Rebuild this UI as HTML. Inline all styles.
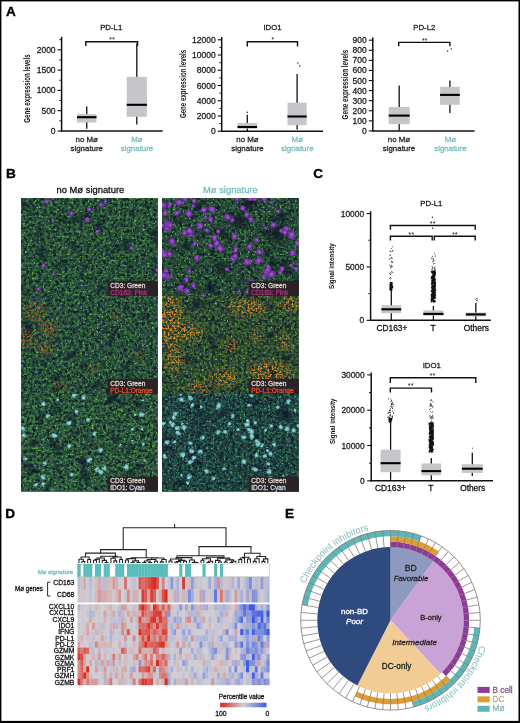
<!DOCTYPE html>
<html><head><meta charset="utf-8"><style>
html,body{margin:0;padding:0;background:#fff;}
body{width:520px;height:723px;overflow:hidden;position:relative;}
svg{position:absolute;left:0;top:0;will-change:transform;font-family:"Liberation Sans",sans-serif;}
</style></head><body>
<svg width="520" height="723" viewBox="0 0 520 723">
<rect x="0" y="0" width="520" height="723" fill="#fff"/>
<defs><radialGradient id="pk"><stop offset="0" stop-color="#a664d6"/><stop offset="0.6" stop-color="#7a30aa"/><stop offset="1" stop-color="#5a2a8a" stop-opacity="0"/></radialGradient><radialGradient id="cy"><stop offset="0" stop-color="#c8f4f4"/><stop offset="0.5" stop-color="#80d0d4"/><stop offset="1" stop-color="#50a0b0" stop-opacity="0"/></radialGradient><filter id="mb" x="-20%" y="-20%" width="140%" height="140%"><feGaussianBlur stdDeviation="3"/></filter><filter id="wob" x="-5%" y="-5%" width="110%" height="110%"><feTurbulence type="fractalNoise" baseFrequency="0.16" numOctaves="1" seed="9" result="t"/><feDisplacementMap in="SourceGraphic" in2="t" scale="3.5" xChannelSelector="R" yChannelSelector="G"/></filter><filter id="gbg00" x="0" y="0" width="100%" height="100%" color-interpolation-filters="sRGB">
<feTurbulence type="fractalNoise" baseFrequency="0.28" numOctaves="2" seed="201" result="n"/>
<feColorMatrix in="n" type="matrix" values="0 0 0 0 0.16  0 0 0 0 0.26  0 0 0 0 0.32  0 0 2.0 0 -0.7"/>
</filter><filter id="ga00" x="0" y="0" width="100%" height="100%" color-interpolation-filters="sRGB">
<feTurbulence type="fractalNoise" baseFrequency="0.34" numOctaves="3" seed="2" result="n"/>
<feColorMatrix in="n" type="matrix" values="0 0 0 0 0.22  0 0 0 0 0.45  0 0 0 0 0.24  2.6 0 0 0 -0.85"/>
</filter><filter id="gb00" x="0" y="0" width="100%" height="100%" color-interpolation-filters="sRGB">
<feTurbulence type="fractalNoise" baseFrequency="0.45" numOctaves="2" seed="3" result="n"/>
<feColorMatrix in="n" type="matrix" values="0 0 0 0 0.4  0 0 0 0 0.7  0 0 0 0 0.3  0 5.0 0 0 -3.0"/>
</filter><filter id="gd00" x="0" y="0" width="100%" height="100%" color-interpolation-filters="sRGB">
<feTurbulence type="fractalNoise" baseFrequency="0.07" numOctaves="2" seed="4" result="n"/>
<feColorMatrix in="n" type="matrix" values="0 0 0 0 0.05  0 0 0 0 0.08  0 0 0 0 0.16  0 0 3.0 0 -1.75"/>
</filter><filter id="gbg10" x="0" y="0" width="100%" height="100%" color-interpolation-filters="sRGB">
<feTurbulence type="fractalNoise" baseFrequency="0.28" numOctaves="2" seed="205" result="n"/>
<feColorMatrix in="n" type="matrix" values="0 0 0 0 0.16  0 0 0 0 0.26  0 0 0 0 0.32  0 0 2.0 0 -0.7"/>
</filter><filter id="ga10" x="0" y="0" width="100%" height="100%" color-interpolation-filters="sRGB">
<feTurbulence type="fractalNoise" baseFrequency="0.34" numOctaves="3" seed="6" result="n"/>
<feColorMatrix in="n" type="matrix" values="0 0 0 0 0.2  0 0 0 0 0.4  0 0 0 0 0.22  2.6 0 0 0 -0.85"/>
</filter><filter id="gb10" x="0" y="0" width="100%" height="100%" color-interpolation-filters="sRGB">
<feTurbulence type="fractalNoise" baseFrequency="0.45" numOctaves="2" seed="7" result="n"/>
<feColorMatrix in="n" type="matrix" values="0 0 0 0 0.4  0 0 0 0 0.7  0 0 0 0 0.3  0 5.0 0 0 -3.0"/>
</filter><filter id="gd10" x="0" y="0" width="100%" height="100%" color-interpolation-filters="sRGB">
<feTurbulence type="fractalNoise" baseFrequency="0.07" numOctaves="2" seed="8" result="n"/>
<feColorMatrix in="n" type="matrix" values="0 0 0 0 0.05  0 0 0 0 0.08  0 0 0 0 0.16  0 0 3.0 0 -1.75"/>
</filter><filter id="gbg01" x="0" y="0" width="100%" height="100%" color-interpolation-filters="sRGB">
<feTurbulence type="fractalNoise" baseFrequency="0.28" numOctaves="2" seed="209" result="n"/>
<feColorMatrix in="n" type="matrix" values="0 0 0 0 0.16  0 0 0 0 0.26  0 0 0 0 0.32  0 0 2.0 0 -0.7"/>
</filter><filter id="ga01" x="0" y="0" width="100%" height="100%" color-interpolation-filters="sRGB">
<feTurbulence type="fractalNoise" baseFrequency="0.34" numOctaves="3" seed="10" result="n"/>
<feColorMatrix in="n" type="matrix" values="0 0 0 0 0.22  0 0 0 0 0.45  0 0 0 0 0.25  2.6 0 0 0 -0.85"/>
</filter><filter id="gb01" x="0" y="0" width="100%" height="100%" color-interpolation-filters="sRGB">
<feTurbulence type="fractalNoise" baseFrequency="0.45" numOctaves="2" seed="11" result="n"/>
<feColorMatrix in="n" type="matrix" values="0 0 0 0 0.4  0 0 0 0 0.7  0 0 0 0 0.3  0 5.0 0 0 -3.0"/>
</filter><filter id="gd01" x="0" y="0" width="100%" height="100%" color-interpolation-filters="sRGB">
<feTurbulence type="fractalNoise" baseFrequency="0.07" numOctaves="2" seed="12" result="n"/>
<feColorMatrix in="n" type="matrix" values="0 0 0 0 0.05  0 0 0 0 0.08  0 0 0 0 0.16  0 0 3.0 0 -1.75"/>
</filter><filter id="s01" x="0" y="0" width="100%" height="100%" color-interpolation-filters="sRGB">
<feTurbulence type="fractalNoise" baseFrequency="0.5" numOctaves="2" seed="103" result="n"/>
<feColorMatrix in="n" type="matrix" values="0 0 0 0 0.72  0 0 0 0 0.38  0 0 0 0 0.14  6.0 0 0 0 -2.85"/>
</filter><mask id="om01" maskUnits="userSpaceOnUse" x="0" y="0" width="136.8" height="98.0"><g filter="url(#mb)"><ellipse cx="14" cy="16" rx="10" ry="8" fill="#fff"/><ellipse cx="28" cy="32" rx="9" ry="7" fill="#fff"/><ellipse cx="6" cy="42" rx="6" ry="9" fill="#fff"/><ellipse cx="24" cy="52" rx="8" ry="6" fill="#fff"/><ellipse cx="72" cy="72" rx="5" ry="4" fill="#fff"/><ellipse cx="40" cy="90" rx="6" ry="4" fill="#fff"/><ellipse cx="118" cy="60" rx="4" ry="4" fill="#fff"/><ellipse cx="95" cy="20" rx="4" ry="3" fill="#fff"/></g></mask><filter id="gbg11" x="0" y="0" width="100%" height="100%" color-interpolation-filters="sRGB">
<feTurbulence type="fractalNoise" baseFrequency="0.28" numOctaves="2" seed="214" result="n"/>
<feColorMatrix in="n" type="matrix" values="0 0 0 0 0.16  0 0 0 0 0.26  0 0 0 0 0.32  0 0 2.0 0 -0.7"/>
</filter><filter id="ga11" x="0" y="0" width="100%" height="100%" color-interpolation-filters="sRGB">
<feTurbulence type="fractalNoise" baseFrequency="0.34" numOctaves="3" seed="15" result="n"/>
<feColorMatrix in="n" type="matrix" values="0 0 0 0 0.26  0 0 0 0 0.42  0 0 0 0 0.18  2.6 0 0 0 -0.85"/>
</filter><filter id="gb11" x="0" y="0" width="100%" height="100%" color-interpolation-filters="sRGB">
<feTurbulence type="fractalNoise" baseFrequency="0.45" numOctaves="2" seed="16" result="n"/>
<feColorMatrix in="n" type="matrix" values="0 0 0 0 0.4  0 0 0 0 0.7  0 0 0 0 0.3  0 5.0 0 0 -3.0"/>
</filter><filter id="gd11" x="0" y="0" width="100%" height="100%" color-interpolation-filters="sRGB">
<feTurbulence type="fractalNoise" baseFrequency="0.07" numOctaves="2" seed="17" result="n"/>
<feColorMatrix in="n" type="matrix" values="0 0 0 0 0.05  0 0 0 0 0.08  0 0 0 0 0.16  0 0 3.0 0 -1.75"/>
</filter><filter id="s11" x="0" y="0" width="100%" height="100%" color-interpolation-filters="sRGB">
<feTurbulence type="fractalNoise" baseFrequency="0.5" numOctaves="2" seed="108" result="n"/>
<feColorMatrix in="n" type="matrix" values="0 0 0 0 0.88  0 0 0 0 0.52  0 0 0 0 0.16  6.0 0 0 0 -2.86"/>
</filter><mask id="om11" maskUnits="userSpaceOnUse" x="0" y="0" width="136.8" height="98.0"><g filter="url(#mb)"><ellipse cx="8" cy="25" rx="13" ry="28" fill="#fff"/><ellipse cx="28" cy="36" rx="14" ry="8" fill="#fff"/><ellipse cx="12" cy="64" rx="9" ry="12" fill="#fff"/><ellipse cx="85" cy="12" rx="20" ry="8" fill="#fff"/><ellipse cx="128" cy="8" rx="12" ry="7" fill="#fff"/><ellipse cx="108" cy="76" rx="22" ry="10" fill="#fff"/><ellipse cx="62" cy="82" rx="14" ry="8" fill="#fff"/><ellipse cx="36" cy="92" rx="12" ry="6" fill="#fff"/><ellipse cx="70" cy="50" rx="6" ry="6" fill="#fff"/><ellipse cx="122" cy="45" rx="6" ry="8" fill="#fff"/><ellipse cx="95" cy="40" rx="6" ry="5" fill="#fff"/></g></mask><filter id="gbg02" x="0" y="0" width="100%" height="100%" color-interpolation-filters="sRGB">
<feTurbulence type="fractalNoise" baseFrequency="0.28" numOctaves="2" seed="219" result="n"/>
<feColorMatrix in="n" type="matrix" values="0 0 0 0 0.16  0 0 0 0 0.26  0 0 0 0 0.32  0 0 2.0 0 -0.7"/>
</filter><filter id="ga02" x="0" y="0" width="100%" height="100%" color-interpolation-filters="sRGB">
<feTurbulence type="fractalNoise" baseFrequency="0.34" numOctaves="3" seed="20" result="n"/>
<feColorMatrix in="n" type="matrix" values="0 0 0 0 0.24  0 0 0 0 0.48  0 0 0 0 0.26  2.6 0 0 0 -0.85"/>
</filter><filter id="gb02" x="0" y="0" width="100%" height="100%" color-interpolation-filters="sRGB">
<feTurbulence type="fractalNoise" baseFrequency="0.45" numOctaves="2" seed="21" result="n"/>
<feColorMatrix in="n" type="matrix" values="0 0 0 0 0.4  0 0 0 0 0.7  0 0 0 0 0.3  0 5.0 0 0 -3.0"/>
</filter><filter id="gd02" x="0" y="0" width="100%" height="100%" color-interpolation-filters="sRGB">
<feTurbulence type="fractalNoise" baseFrequency="0.07" numOctaves="2" seed="22" result="n"/>
<feColorMatrix in="n" type="matrix" values="0 0 0 0 0.05  0 0 0 0 0.08  0 0 0 0 0.16  0 0 3.0 0 -1.75"/>
</filter><filter id="gbg12" x="0" y="0" width="100%" height="100%" color-interpolation-filters="sRGB">
<feTurbulence type="fractalNoise" baseFrequency="0.28" numOctaves="2" seed="223" result="n"/>
<feColorMatrix in="n" type="matrix" values="0 0 0 0 0.16  0 0 0 0 0.26  0 0 0 0 0.32  0 0 2.0 0 -0.7"/>
</filter><filter id="ga12" x="0" y="0" width="100%" height="100%" color-interpolation-filters="sRGB">
<feTurbulence type="fractalNoise" baseFrequency="0.34" numOctaves="3" seed="24" result="n"/>
<feColorMatrix in="n" type="matrix" values="0 0 0 0 0.16  0 0 0 0 0.4  0 0 0 0 0.3  2.6 0 0 0 -0.95"/>
</filter><filter id="gb12" x="0" y="0" width="100%" height="100%" color-interpolation-filters="sRGB">
<feTurbulence type="fractalNoise" baseFrequency="0.45" numOctaves="2" seed="25" result="n"/>
<feColorMatrix in="n" type="matrix" values="0 0 0 0 0.34  0 0 0 0 0.64  0 0 0 0 0.46  0 5.0 0 0 -3.0"/>
</filter><filter id="gd12" x="0" y="0" width="100%" height="100%" color-interpolation-filters="sRGB">
<feTurbulence type="fractalNoise" baseFrequency="0.07" numOctaves="2" seed="26" result="n"/>
<feColorMatrix in="n" type="matrix" values="0 0 0 0 0.05  0 0 0 0 0.08  0 0 0 0 0.16  0 0 3.0 0 -1.75"/>
</filter><linearGradient id="pg" x1="0" x2="1" y1="0" y2="0"><stop offset="0" stop-color="#d8281e"/><stop offset="0.5" stop-color="#d0d0d6"/><stop offset="1" stop-color="#3c5ce0"/></linearGradient><path id="circ" d="M390.5,527.6999999999999 A92.6,92.6 0 1 1 390.49,527.6999999999999"/></defs><text x="6.10" y="15.90" font-size="13.6" text-anchor="start" fill="#000" font-weight="bold" font-style="normal" stroke="#000" stroke-width="0.35">A</text><text x="5.90" y="177.60" font-size="13.6" text-anchor="start" fill="#000" font-weight="bold" font-style="normal" stroke="#000" stroke-width="0.35">B</text><text x="313.30" y="178.00" font-size="13.6" text-anchor="start" fill="#000" font-weight="bold" font-style="normal" stroke="#000" stroke-width="0.35">C</text><text x="5.30" y="518.20" font-size="13.6" text-anchor="start" fill="#000" font-weight="bold" font-style="normal" stroke="#000" stroke-width="0.35">D</text><text x="285.00" y="517.90" font-size="13.6" text-anchor="start" fill="#000" font-weight="bold" font-style="normal" stroke="#000" stroke-width="0.35">E</text><line x1="61.60" y1="36.80" x2="61.60" y2="131.60" stroke="#111" stroke-width="1.5"/><line x1="60.90" y1="131.00" x2="162.60" y2="131.00" stroke="#111" stroke-width="1.5"/><line x1="57.60" y1="131.00" x2="61.60" y2="131.00" stroke="#111" stroke-width="1.1"/><text x="55.60" y="134.00" font-size="8.5" text-anchor="end" fill="#222" font-weight="normal" font-style="normal" stroke="#222" stroke-width="0.28">0</text><line x1="57.60" y1="110.70" x2="61.60" y2="110.70" stroke="#111" stroke-width="1.1"/><text x="55.60" y="113.70" font-size="8.5" text-anchor="end" fill="#222" font-weight="normal" font-style="normal" stroke="#222" stroke-width="0.28">500</text><line x1="57.60" y1="90.40" x2="61.60" y2="90.40" stroke="#111" stroke-width="1.1"/><text x="55.60" y="93.40" font-size="8.5" text-anchor="end" fill="#222" font-weight="normal" font-style="normal" stroke="#222" stroke-width="0.28">1000</text><line x1="57.60" y1="70.10" x2="61.60" y2="70.10" stroke="#111" stroke-width="1.1"/><text x="55.60" y="73.10" font-size="8.5" text-anchor="end" fill="#222" font-weight="normal" font-style="normal" stroke="#222" stroke-width="0.28">1500</text><line x1="57.60" y1="49.80" x2="61.60" y2="49.80" stroke="#111" stroke-width="1.1"/><text x="55.60" y="52.80" font-size="8.5" text-anchor="end" fill="#222" font-weight="normal" font-style="normal" stroke="#222" stroke-width="0.28">2000</text><line x1="59.40" y1="120.85" x2="61.60" y2="120.85" stroke="#111" stroke-width="1.0"/><line x1="59.40" y1="100.55" x2="61.60" y2="100.55" stroke="#111" stroke-width="1.0"/><line x1="59.40" y1="80.25" x2="61.60" y2="80.25" stroke="#111" stroke-width="1.0"/><line x1="59.40" y1="59.95" x2="61.60" y2="59.95" stroke="#111" stroke-width="1.0"/><line x1="59.40" y1="39.65" x2="61.60" y2="39.65" stroke="#111" stroke-width="1.0"/><line x1="86.75" y1="106.50" x2="86.75" y2="128.80" stroke="#111" stroke-width="1.3"/><rect x="77.00" y="114.00" width="19.50" height="8.50" fill="#c6c6ca" /><line x1="77.00" y1="117.20" x2="96.50" y2="117.20" stroke="#000" stroke-width="2.1"/><line x1="136.80" y1="43.50" x2="136.80" y2="124.60" stroke="#111" stroke-width="1.3"/><rect x="126.70" y="76.80" width="20.20" height="40.00" fill="#c6c6ca" /><line x1="126.70" y1="104.80" x2="146.90" y2="104.80" stroke="#000" stroke-width="2.1"/><path d="M85.80,45.90 V41.70 H137.60 V45.90" fill="none" stroke="#111" stroke-width="1.4"/><text x="112.00" y="41.90" font-size="7.5" text-anchor="middle" fill="#222" font-weight="normal" font-style="normal" >**</text><text x="111.20" y="29.70" font-size="7.8" text-anchor="middle" fill="#222" font-weight="normal" font-style="normal" stroke="#222" stroke-width="0.28">PD-L1</text><text transform="translate(27.00,88.60) rotate(-90)" x="0" y="0" font-size="9" text-anchor="middle" dominant-baseline="central" textLength="68.4" lengthAdjust="spacingAndGlyphs" fill="#111" font-weight="bold">Gene expression levels</text><text x="86.75" y="141.50" font-size="7.9" text-anchor="middle" fill="#222" font-weight="normal" font-style="normal" stroke="#222" stroke-width="0.28">no Mø</text><text x="86.75" y="150.60" font-size="7.9" text-anchor="middle" fill="#222" font-weight="normal" font-style="normal" stroke="#222" stroke-width="0.28">signature</text><text x="137.00" y="141.50" font-size="7.9" text-anchor="middle" fill="#78bcbc" font-weight="normal" font-style="normal" stroke="#78bcbc" stroke-width="0.28">Mø</text><text x="137.00" y="150.60" font-size="7.9" text-anchor="middle" fill="#78bcbc" font-weight="normal" font-style="normal" stroke="#78bcbc" stroke-width="0.28">signature</text><line x1="221.70" y1="37.00" x2="221.70" y2="131.80" stroke="#111" stroke-width="1.5"/><line x1="221.00" y1="131.20" x2="323.00" y2="131.20" stroke="#111" stroke-width="1.5"/><line x1="217.70" y1="131.20" x2="221.70" y2="131.20" stroke="#111" stroke-width="1.1"/><text x="215.70" y="134.20" font-size="8.5" text-anchor="end" fill="#222" font-weight="normal" font-style="normal" stroke="#222" stroke-width="0.28">0</text><line x1="217.70" y1="115.97" x2="221.70" y2="115.97" stroke="#111" stroke-width="1.1"/><text x="215.70" y="118.97" font-size="8.5" text-anchor="end" fill="#222" font-weight="normal" font-style="normal" stroke="#222" stroke-width="0.28">2000</text><line x1="217.70" y1="100.73" x2="221.70" y2="100.73" stroke="#111" stroke-width="1.1"/><text x="215.70" y="103.73" font-size="8.5" text-anchor="end" fill="#222" font-weight="normal" font-style="normal" stroke="#222" stroke-width="0.28">4000</text><line x1="217.70" y1="85.50" x2="221.70" y2="85.50" stroke="#111" stroke-width="1.1"/><text x="215.70" y="88.50" font-size="8.5" text-anchor="end" fill="#222" font-weight="normal" font-style="normal" stroke="#222" stroke-width="0.28">6000</text><line x1="217.70" y1="70.27" x2="221.70" y2="70.27" stroke="#111" stroke-width="1.1"/><text x="215.70" y="73.27" font-size="8.5" text-anchor="end" fill="#222" font-weight="normal" font-style="normal" stroke="#222" stroke-width="0.28">8000</text><line x1="217.70" y1="55.03" x2="221.70" y2="55.03" stroke="#111" stroke-width="1.1"/><text x="215.70" y="58.03" font-size="8.5" text-anchor="end" fill="#222" font-weight="normal" font-style="normal" stroke="#222" stroke-width="0.28">10000</text><line x1="217.70" y1="39.80" x2="221.70" y2="39.80" stroke="#111" stroke-width="1.1"/><text x="215.70" y="42.80" font-size="8.5" text-anchor="end" fill="#222" font-weight="normal" font-style="normal" stroke="#222" stroke-width="0.28">12000</text><line x1="219.50" y1="123.58" x2="221.70" y2="123.58" stroke="#111" stroke-width="1.0"/><line x1="219.50" y1="108.35" x2="221.70" y2="108.35" stroke="#111" stroke-width="1.0"/><line x1="219.50" y1="93.12" x2="221.70" y2="93.12" stroke="#111" stroke-width="1.0"/><line x1="219.50" y1="77.88" x2="221.70" y2="77.88" stroke="#111" stroke-width="1.0"/><line x1="219.50" y1="62.65" x2="221.70" y2="62.65" stroke="#111" stroke-width="1.0"/><line x1="219.50" y1="47.42" x2="221.70" y2="47.42" stroke="#111" stroke-width="1.0"/><line x1="247.30" y1="114.80" x2="247.30" y2="131.00" stroke="#111" stroke-width="1.3"/><rect x="237.55" y="122.90" width="19.50" height="5.70" fill="#c6c6ca" /><line x1="237.55" y1="127.00" x2="257.05" y2="127.00" stroke="#000" stroke-width="2.1"/><circle cx="247.30" cy="112.20" r="0.75" fill="#222"/><line x1="297.10" y1="74.10" x2="297.10" y2="129.50" stroke="#111" stroke-width="1.3"/><rect x="287.50" y="102.70" width="19.20" height="22.50" fill="#c6c6ca" /><line x1="287.50" y1="116.50" x2="306.70" y2="116.50" stroke="#000" stroke-width="2.1"/><circle cx="297.80" cy="62.90" r="0.75" fill="#222"/><circle cx="299.70" cy="66.00" r="0.75" fill="#222"/><path d="M247.30,46.40 V41.80 H297.50 V46.40" fill="none" stroke="#111" stroke-width="1.4"/><text x="272.70" y="42.00" font-size="7.5" text-anchor="middle" fill="#222" font-weight="normal" font-style="normal" >*</text><text x="272.50" y="29.70" font-size="7.8" text-anchor="middle" fill="#222" font-weight="normal" font-style="normal" stroke="#222" stroke-width="0.28">IDO1</text><text transform="translate(182.90,83.95) rotate(-90)" x="0" y="0" font-size="9" text-anchor="middle" dominant-baseline="central" textLength="68.3" lengthAdjust="spacingAndGlyphs" fill="#111" font-weight="bold">Gene expression levels</text><text x="247.50" y="141.50" font-size="7.9" text-anchor="middle" fill="#222" font-weight="normal" font-style="normal" stroke="#222" stroke-width="0.28">no Mø</text><text x="247.50" y="150.60" font-size="7.9" text-anchor="middle" fill="#222" font-weight="normal" font-style="normal" stroke="#222" stroke-width="0.28">signature</text><text x="297.30" y="141.50" font-size="7.9" text-anchor="middle" fill="#78bcbc" font-weight="normal" font-style="normal" stroke="#78bcbc" stroke-width="0.28">Mø</text><text x="297.30" y="150.60" font-size="7.9" text-anchor="middle" fill="#78bcbc" font-weight="normal" font-style="normal" stroke="#78bcbc" stroke-width="0.28">signature</text><line x1="372.80" y1="37.50" x2="372.80" y2="131.50" stroke="#111" stroke-width="1.5"/><line x1="372.10" y1="130.90" x2="474.50" y2="130.90" stroke="#111" stroke-width="1.5"/><line x1="368.80" y1="130.90" x2="372.80" y2="130.90" stroke="#111" stroke-width="1.1"/><text x="366.80" y="133.90" font-size="8.5" text-anchor="end" fill="#222" font-weight="normal" font-style="normal" stroke="#222" stroke-width="0.28">0</text><line x1="368.80" y1="120.82" x2="372.80" y2="120.82" stroke="#111" stroke-width="1.1"/><text x="366.80" y="123.82" font-size="8.5" text-anchor="end" fill="#222" font-weight="normal" font-style="normal" stroke="#222" stroke-width="0.28">100</text><line x1="368.80" y1="110.74" x2="372.80" y2="110.74" stroke="#111" stroke-width="1.1"/><text x="366.80" y="113.74" font-size="8.5" text-anchor="end" fill="#222" font-weight="normal" font-style="normal" stroke="#222" stroke-width="0.28">200</text><line x1="368.80" y1="100.67" x2="372.80" y2="100.67" stroke="#111" stroke-width="1.1"/><text x="366.80" y="103.67" font-size="8.5" text-anchor="end" fill="#222" font-weight="normal" font-style="normal" stroke="#222" stroke-width="0.28">300</text><line x1="368.80" y1="90.59" x2="372.80" y2="90.59" stroke="#111" stroke-width="1.1"/><text x="366.80" y="93.59" font-size="8.5" text-anchor="end" fill="#222" font-weight="normal" font-style="normal" stroke="#222" stroke-width="0.28">400</text><line x1="368.80" y1="80.51" x2="372.80" y2="80.51" stroke="#111" stroke-width="1.1"/><text x="366.80" y="83.51" font-size="8.5" text-anchor="end" fill="#222" font-weight="normal" font-style="normal" stroke="#222" stroke-width="0.28">500</text><line x1="368.80" y1="70.43" x2="372.80" y2="70.43" stroke="#111" stroke-width="1.1"/><text x="366.80" y="73.43" font-size="8.5" text-anchor="end" fill="#222" font-weight="normal" font-style="normal" stroke="#222" stroke-width="0.28">600</text><line x1="368.80" y1="60.36" x2="372.80" y2="60.36" stroke="#111" stroke-width="1.1"/><text x="366.80" y="63.36" font-size="8.5" text-anchor="end" fill="#222" font-weight="normal" font-style="normal" stroke="#222" stroke-width="0.28">700</text><line x1="368.80" y1="50.28" x2="372.80" y2="50.28" stroke="#111" stroke-width="1.1"/><text x="366.80" y="53.28" font-size="8.5" text-anchor="end" fill="#222" font-weight="normal" font-style="normal" stroke="#222" stroke-width="0.28">800</text><line x1="368.80" y1="40.20" x2="372.80" y2="40.20" stroke="#111" stroke-width="1.1"/><text x="366.80" y="43.20" font-size="8.5" text-anchor="end" fill="#222" font-weight="normal" font-style="normal" stroke="#222" stroke-width="0.28">900</text><line x1="399.20" y1="85.40" x2="399.20" y2="130.40" stroke="#111" stroke-width="1.3"/><rect x="388.70" y="107.00" width="21.00" height="17.20" fill="#c6c6ca" /><line x1="388.70" y1="115.60" x2="409.70" y2="115.60" stroke="#000" stroke-width="2.1"/><line x1="449.90" y1="80.60" x2="449.90" y2="112.90" stroke="#111" stroke-width="1.3"/><rect x="440.05" y="86.80" width="19.70" height="18.00" fill="#c6c6ca" /><line x1="440.05" y1="94.90" x2="459.75" y2="94.90" stroke="#000" stroke-width="2.1"/><circle cx="447.70" cy="51.00" r="0.75" fill="#222"/><circle cx="451.20" cy="49.10" r="0.75" fill="#222"/><path d="M398.70,46.30 V42.40 H449.90 V46.30" fill="none" stroke="#111" stroke-width="1.4"/><text x="424.60" y="42.60" font-size="7.5" text-anchor="middle" fill="#222" font-weight="normal" font-style="normal" >**</text><text x="424.30" y="29.70" font-size="7.8" text-anchor="middle" fill="#222" font-weight="normal" font-style="normal" stroke="#222" stroke-width="0.28">PD-L2</text><text transform="translate(344.50,84.60) rotate(-90)" x="0" y="0" font-size="9" text-anchor="middle" dominant-baseline="central" textLength="69.6" lengthAdjust="spacingAndGlyphs" fill="#111" font-weight="bold">Gene expression levels</text><text x="399.00" y="141.50" font-size="7.9" text-anchor="middle" fill="#222" font-weight="normal" font-style="normal" stroke="#222" stroke-width="0.28">no Mø</text><text x="399.00" y="150.60" font-size="7.9" text-anchor="middle" fill="#222" font-weight="normal" font-style="normal" stroke="#222" stroke-width="0.28">signature</text><text x="450.50" y="141.50" font-size="7.9" text-anchor="middle" fill="#78bcbc" font-weight="normal" font-style="normal" stroke="#78bcbc" stroke-width="0.28">Mø</text><text x="450.50" y="150.60" font-size="7.9" text-anchor="middle" fill="#78bcbc" font-weight="normal" font-style="normal" stroke="#78bcbc" stroke-width="0.28">signature</text><line x1="370.60" y1="211.20" x2="370.60" y2="320.90" stroke="#111" stroke-width="1.5"/><line x1="369.90" y1="320.30" x2="490.90" y2="320.30" stroke="#111" stroke-width="1.5"/><line x1="366.60" y1="320.30" x2="370.60" y2="320.30" stroke="#111" stroke-width="1.1"/><text x="364.10" y="323.30" font-size="8.4" text-anchor="end" fill="#222" font-weight="normal" font-style="normal" stroke="#222" stroke-width="0.28">0</text><line x1="366.60" y1="266.95" x2="370.60" y2="266.95" stroke="#111" stroke-width="1.1"/><text x="364.10" y="269.95" font-size="8.4" text-anchor="end" fill="#222" font-weight="normal" font-style="normal" stroke="#222" stroke-width="0.28">5000</text><line x1="366.60" y1="213.60" x2="370.60" y2="213.60" stroke="#111" stroke-width="1.1"/><text x="364.10" y="216.60" font-size="8.4" text-anchor="end" fill="#222" font-weight="normal" font-style="normal" stroke="#222" stroke-width="0.28">10000</text><line x1="368.40" y1="293.62" x2="370.60" y2="293.62" stroke="#111" stroke-width="1.0"/><line x1="368.40" y1="240.27" x2="370.60" y2="240.27" stroke="#111" stroke-width="1.0"/><line x1="391.30" y1="289.00" x2="391.30" y2="320.00" stroke="#111" stroke-width="1.3"/><path d="M390.8,290.0h0 M390.4,289.8h0 M391.7,289.7h0 M390.2,289.5h0 M391.4,289.3h0 M391.0,289.2h0 M390.2,289.0h0 M391.3,288.8h0 M390.1,288.7h0 M391.1,288.5h0 M390.2,288.3h0 M390.2,288.2h0 M391.1,288.0h0 M392.1,287.8h0 M390.3,287.7h0 M390.6,287.5h0 M391.6,287.3h0 M392.5,287.2h0 M391.5,287.0h0 M391.0,286.8h0 M392.5,286.7h0 M390.1,286.5h0 M392.2,286.3h0 M390.8,286.2h0 M390.4,286.0h0 M390.3,285.8h0 M390.8,285.7h0 M392.1,285.5h0 M390.5,285.3h0 M391.5,285.2h0 M391.7,285.0h0 M391.0,284.8h0 M391.4,284.7h0 M390.2,284.5h0 M390.2,284.3h0 M390.5,284.2h0 M391.8,284.0h0 M391.1,283.8h0 M390.8,283.7h0 M391.5,283.5h0 M391.2,283.3h0 M390.8,283.2h0 M392.1,283.0h0 M391.8,282.8h0 M390.6,282.7h0" stroke="#111" stroke-width="1.7" stroke-linecap="round" fill="none"/><path d="M391.4,262.0h0 M392.0,251.1h0 M392.8,272.5h0 M391.0,278.7h0 M390.2,255.4h0 M389.8,265.2h0 M392.1,258.6h0 M392.5,262.1h0 M391.9,271.5h0 M391.6,261.3h0 M392.4,266.3h0 M391.2,248.5h0 M389.9,258.8h0 M391.8,257.4h0 M392.3,246.8h0 M390.9,272.6h0 M389.8,258.6h0 M390.2,266.1h0 M389.9,278.7h0 M390.1,255.0h0 M391.0,274.0h0 M390.0,251.2h0 M391.5,266.6h0 M392.3,250.8h0 M390.6,251.5h0 M390.8,267.8h0 M392.8,250.7h0 M390.3,277.5h0 M390.4,274.5h0 M391.6,265.3h0 M389.7,273.4h0 M390.9,267.7h0 M392.7,262.3h0 M391.3,257.8h0" stroke="#222" stroke-width="1.0" stroke-linecap="round" fill="none"/><rect x="381.40" y="305.20" width="19.80" height="8.10" fill="#c6c6ca" /><line x1="381.40" y1="309.30" x2="401.20" y2="309.30" stroke="#000" stroke-width="2.1"/><line x1="433.40" y1="306.00" x2="433.40" y2="320.00" stroke="#111" stroke-width="1.3"/><path d="M433.9,302.0h0 M434.1,301.8h0 M431.6,301.7h0 M435.0,301.5h0 M434.5,301.3h0 M434.9,301.2h0 M434.6,301.0h0 M433.0,300.8h0 M433.0,300.7h0 M431.8,300.5h0 M433.9,300.3h0 M431.6,300.2h0 M431.7,300.0h0 M432.2,299.8h0 M432.0,299.7h0 M432.8,299.5h0 M431.6,299.3h0 M431.4,299.2h0 M432.0,299.0h0 M431.8,298.8h0 M432.9,298.7h0 M431.5,298.5h0 M434.9,298.3h0 M433.9,298.2h0 M432.0,298.0h0 M432.4,297.8h0 M432.8,297.7h0 M432.9,297.5h0 M431.9,297.3h0 M434.8,297.2h0 M435.4,297.0h0 M433.3,296.8h0 M433.3,296.7h0 M431.7,296.5h0 M431.8,296.3h0 M432.8,296.2h0 M432.5,296.0h0 M434.7,295.8h0 M432.0,295.7h0 M431.5,295.5h0 M435.2,295.3h0 M433.5,295.2h0 M432.0,295.0h0 M433.6,294.8h0 M431.5,294.7h0 M433.5,294.5h0 M435.3,294.3h0 M434.9,294.2h0 M434.2,294.0h0 M432.4,293.8h0 M432.9,293.7h0 M432.1,293.5h0 M434.5,293.3h0 M433.5,293.2h0 M434.5,293.0h0 M432.7,292.8h0 M432.3,292.7h0 M434.6,292.5h0 M435.3,292.3h0 M434.8,292.2h0 M434.6,292.0h0 M434.7,291.8h0 M434.4,291.7h0 M432.3,291.5h0 M433.5,291.3h0 M432.8,291.2h0 M431.5,291.0h0 M431.5,290.8h0 M432.5,290.7h0 M432.4,290.5h0 M434.2,290.3h0 M435.2,290.2h0 M433.2,290.0h0 M435.1,289.8h0 M435.4,289.7h0 M435.2,289.5h0 M432.9,289.3h0 M432.3,289.2h0 M432.3,289.0h0 M432.2,288.8h0 M432.2,288.7h0 M433.9,288.5h0 M435.0,288.3h0 M434.8,288.2h0 M433.3,288.0h0 M434.0,287.8h0 M434.6,287.7h0 M431.7,287.5h0 M434.0,287.3h0 M435.0,287.2h0 M434.5,287.0h0 M434.4,286.8h0 M433.3,286.7h0 M432.1,286.5h0 M434.6,286.3h0 M432.7,286.1h0 M434.6,286.0h0 M435.3,285.8h0 M433.0,285.6h0 M433.0,285.5h0 M435.2,285.3h0 M434.3,285.1h0 M432.1,285.0h0 M431.9,284.8h0 M432.0,284.6h0 M435.0,284.5h0 M434.6,284.3h0 M432.0,284.1h0 M434.7,284.0h0 M435.3,283.8h0 M434.0,283.6h0 M432.8,283.5h0 M433.6,283.3h0 M431.9,283.1h0 M431.5,283.0h0 M435.3,282.8h0 M434.0,282.6h0 M433.5,282.5h0 M435.1,282.3h0 M433.1,282.1h0 M434.9,282.0h0 M434.7,281.8h0 M432.2,281.6h0 M432.4,281.5h0 M432.6,281.3h0 M432.4,281.1h0 M433.7,281.0h0 M432.4,280.8h0 M433.1,280.6h0 M431.9,280.5h0 M435.0,280.3h0 M432.8,280.1h0 M433.2,280.0h0 M433.7,279.8h0 M435.0,279.6h0 M433.1,279.5h0 M435.1,279.3h0 M433.4,279.1h0 M433.5,279.0h0 M433.5,278.8h0 M431.5,278.6h0 M433.2,278.5h0 M432.1,278.3h0 M431.4,278.1h0 M434.6,278.0h0 M432.1,277.8h0 M433.3,277.6h0 M434.3,277.5h0 M433.6,277.3h0 M432.7,277.1h0 M433.5,277.0h0 M433.6,276.8h0 M434.5,276.6h0 M431.8,276.5h0 M433.6,276.3h0 M432.4,276.1h0 M432.5,276.0h0 M434.5,275.8h0 M433.4,275.6h0 M433.6,275.5h0 M434.4,275.3h0 M435.0,275.1h0 M433.2,275.0h0 M433.9,274.8h0 M433.4,274.6h0 M433.4,274.5h0 M434.2,274.3h0 M433.2,274.1h0 M433.5,274.0h0 M433.3,273.8h0 M435.2,273.6h0 M434.2,273.5h0 M434.9,273.3h0 M435.2,273.1h0 M432.4,273.0h0 M433.6,272.8h0 M435.2,272.6h0 M434.8,272.5h0 M431.9,272.3h0 M431.9,272.1h0 M433.2,272.0h0 M431.7,271.8h0 M432.4,271.6h0 M431.7,271.5h0 M434.1,271.3h0 M434.5,271.1h0 M435.0,271.0h0" stroke="#111" stroke-width="1.7" stroke-linecap="round" fill="none"/><path d="M434.2,268.2h0 M432.1,259.1h0 M435.1,255.1h0 M435.0,267.0h0 M433.4,263.8h0 M434.6,253.2h0 M433.2,268.1h0 M432.8,261.7h0 M432.7,267.5h0 M431.7,258.0h0 M433.2,261.0h0 M432.8,270.7h0 M433.4,259.8h0 M435.1,269.8h0 M435.1,256.8h0 M432.6,269.1h0 M434.4,270.3h0 M432.1,266.1h0 M434.9,263.4h0 M432.5,256.3h0 M434.9,268.3h0 M434.1,260.7h0 M431.8,269.4h0 M433.1,258.6h0 M435.0,269.7h0" stroke="#222" stroke-width="1.0" stroke-linecap="round" fill="none"/><rect x="423.30" y="310.40" width="20.20" height="5.30" fill="#c6c6ca" /><line x1="423.30" y1="313.90" x2="443.50" y2="313.90" stroke="#000" stroke-width="2.1"/><line x1="475.80" y1="303.00" x2="475.80" y2="320.00" stroke="#111" stroke-width="1.3"/><path d="M476.7,298.5h0 M476.9,300.7h0 M476.9,300.7h0 M475.3,299.2h0 M477.1,298.8h0" stroke="#222" stroke-width="1.0" stroke-linecap="round" fill="none"/><rect x="465.85" y="312.50" width="19.90" height="4.00" fill="#c6c6ca" /><line x1="465.85" y1="314.40" x2="485.75" y2="314.40" stroke="#000" stroke-width="2.1"/><path d="M390.40,229.80 V225.50 H475.20 V229.80" fill="none" stroke="#111" stroke-width="1.4"/><text x="432.70" y="225.70" font-size="7.5" text-anchor="middle" fill="#222" font-weight="normal" font-style="normal" >**</text><path d="M390.40,240.60 V236.30 H432.20 V240.60" fill="none" stroke="#111" stroke-width="1.4"/><text x="411.20" y="236.50" font-size="7.5" text-anchor="middle" fill="#222" font-weight="normal" font-style="normal" >**</text><path d="M434.30,240.60 V236.30 H475.20 V240.60" fill="none" stroke="#111" stroke-width="1.4"/><text x="454.80" y="236.50" font-size="7.5" text-anchor="middle" fill="#222" font-weight="normal" font-style="normal" >**</text><text x="431.40" y="206.00" font-size="7.8" text-anchor="middle" fill="#222" font-weight="normal" font-style="normal" stroke="#222" stroke-width="0.28">PD-L1</text><text transform="translate(331.40,266.10) rotate(-90)" x="0" y="0" font-size="7.8" text-anchor="middle" dominant-baseline="central" textLength="45.8" lengthAdjust="spacingAndGlyphs" fill="#111" font-weight="bold">Signal intensity</text><text x="391.90" y="330.60" font-size="8.4" text-anchor="middle" fill="#111" font-weight="normal" font-style="normal" stroke="#111" stroke-width="0.28">CD163+</text><text x="433.10" y="330.60" font-size="8.4" text-anchor="middle" fill="#111" font-weight="normal" font-style="normal" stroke="#111" stroke-width="0.28">T</text><text x="476.30" y="330.60" font-size="8.4" text-anchor="middle" fill="#111" font-weight="normal" font-style="normal" stroke="#111" stroke-width="0.28">Others</text><circle cx="432.4" cy="217.3" r="0.7" fill="#222"/><circle cx="432.6" cy="228.2" r="0.7" fill="#222"/><line x1="371.20" y1="372.50" x2="371.20" y2="481.40" stroke="#111" stroke-width="1.5"/><line x1="370.50" y1="480.80" x2="493.00" y2="480.80" stroke="#111" stroke-width="1.5"/><line x1="367.20" y1="480.80" x2="371.20" y2="480.80" stroke="#111" stroke-width="1.1"/><text x="364.70" y="483.80" font-size="8.4" text-anchor="end" fill="#222" font-weight="normal" font-style="normal" stroke="#222" stroke-width="0.28">0</text><line x1="367.20" y1="445.50" x2="371.20" y2="445.50" stroke="#111" stroke-width="1.1"/><text x="364.70" y="448.50" font-size="8.4" text-anchor="end" fill="#222" font-weight="normal" font-style="normal" stroke="#222" stroke-width="0.28">10000</text><line x1="367.20" y1="410.20" x2="371.20" y2="410.20" stroke="#111" stroke-width="1.1"/><text x="364.70" y="413.20" font-size="8.4" text-anchor="end" fill="#222" font-weight="normal" font-style="normal" stroke="#222" stroke-width="0.28">20000</text><line x1="367.20" y1="374.90" x2="371.20" y2="374.90" stroke="#111" stroke-width="1.1"/><text x="364.70" y="377.90" font-size="8.4" text-anchor="end" fill="#222" font-weight="normal" font-style="normal" stroke="#222" stroke-width="0.28">30000</text><line x1="369.00" y1="463.15" x2="371.20" y2="463.15" stroke="#111" stroke-width="1.0"/><line x1="369.00" y1="427.85" x2="371.20" y2="427.85" stroke="#111" stroke-width="1.0"/><line x1="369.00" y1="392.55" x2="371.20" y2="392.55" stroke="#111" stroke-width="1.0"/><line x1="390.60" y1="419.20" x2="390.60" y2="479.80" stroke="#111" stroke-width="1.3"/><path d="M389.9,422.0h0 M389.5,421.8h0 M390.7,421.7h0 M389.8,421.5h0 M389.4,421.3h0 M389.6,421.2h0 M389.3,421.0h0 M389.7,420.8h0 M390.0,420.7h0 M390.0,420.5h0 M391.4,420.3h0 M390.0,420.2h0 M390.6,420.0h0 M389.6,419.8h0 M390.1,419.7h0 M389.2,419.5h0 M389.9,419.3h0 M389.1,419.2h0 M391.3,419.0h0 M390.8,418.8h0 M389.7,418.7h0 M390.5,418.5h0 M391.9,418.3h0 M389.4,418.2h0" stroke="#111" stroke-width="1.7" stroke-linecap="round" fill="none"/><path d="M390.2,402.0h0 M392.6,408.3h0 M390.6,410.3h0 M393.5,404.6h0 M392.6,411.3h0 M391.4,404.2h0 M389.7,410.1h0 M388.4,416.9h0 M392.0,416.6h0 M388.6,413.0h0 M392.6,416.4h0 M391.6,401.0h0 M389.1,412.5h0 M390.4,412.3h0 M390.3,414.9h0 M393.4,412.9h0 M390.9,399.0h0 M393.4,413.2h0 M389.7,412.0h0 M389.9,418.0h0 M390.6,408.7h0 M390.6,414.1h0 M389.2,417.9h0 M390.0,416.2h0 M387.7,417.2h0 M389.0,412.1h0 M390.8,406.6h0 M391.5,403.4h0 M392.9,404.0h0 M389.6,410.4h0 M388.5,398.8h0 M391.5,403.9h0 M392.6,417.1h0 M391.4,400.6h0 M392.5,403.7h0 M390.7,415.3h0 M392.6,408.2h0 M392.6,402.3h0 M393.0,406.6h0 M391.8,404.7h0 M387.8,413.5h0 M389.8,415.4h0 M392.6,416.0h0 M391.4,407.1h0 M391.7,405.8h0" stroke="#222" stroke-width="1.0" stroke-linecap="round" fill="none"/><rect x="380.60" y="449.70" width="20.00" height="22.50" fill="#c6c6ca" /><line x1="380.60" y1="463.20" x2="400.60" y2="463.20" stroke="#000" stroke-width="2.1"/><line x1="431.30" y1="458.00" x2="431.30" y2="480.00" stroke="#111" stroke-width="1.3"/><path d="M431.3,452.0h0 M429.3,451.8h0 M432.5,451.7h0 M432.3,451.5h0 M431.3,451.3h0 M431.4,451.2h0 M431.9,451.0h0 M429.6,450.8h0 M432.2,450.7h0 M430.3,450.5h0 M429.6,450.3h0 M430.4,450.2h0 M432.2,450.0h0 M430.1,449.8h0 M432.3,449.7h0 M433.2,449.5h0 M431.3,449.3h0 M430.8,449.2h0 M431.2,449.0h0 M432.0,448.8h0 M432.4,448.7h0 M431.8,448.5h0 M431.9,448.3h0 M429.6,448.1h0 M429.9,448.0h0 M430.3,447.8h0 M432.3,447.6h0 M430.5,447.5h0 M431.6,447.3h0 M429.3,447.1h0 M429.5,447.0h0 M430.4,446.8h0 M432.0,446.6h0 M432.1,446.5h0 M432.0,446.3h0 M430.5,446.1h0 M431.4,446.0h0 M431.2,445.8h0 M431.2,445.6h0 M429.8,445.5h0 M432.9,445.3h0 M430.1,445.1h0 M433.2,445.0h0 M433.0,444.8h0 M429.4,444.6h0 M431.1,444.5h0 M432.6,444.3h0 M433.2,444.1h0 M431.1,444.0h0 M430.4,443.8h0 M430.1,443.6h0 M433.1,443.5h0 M430.1,443.3h0 M431.6,443.1h0 M429.9,443.0h0 M431.4,442.8h0 M433.1,442.6h0 M429.8,442.5h0 M432.6,442.3h0 M431.3,442.1h0 M432.8,442.0h0 M432.1,441.8h0 M430.2,441.6h0 M432.9,441.5h0 M431.2,441.3h0 M429.4,441.1h0 M429.3,440.9h0 M431.3,440.8h0 M431.1,440.6h0 M430.5,440.4h0 M429.9,440.3h0 M430.7,440.1h0 M430.6,439.9h0 M432.7,439.8h0 M429.3,439.6h0 M432.3,439.4h0 M432.7,439.3h0 M429.8,439.1h0 M433.0,438.9h0 M432.2,438.8h0 M432.9,438.6h0 M430.5,438.4h0 M430.8,438.3h0 M430.9,438.1h0 M433.3,437.9h0 M431.7,437.8h0 M430.7,437.6h0 M431.0,437.4h0 M430.4,437.3h0 M429.5,437.1h0 M429.7,436.9h0 M432.6,436.8h0 M430.4,436.6h0 M433.0,436.4h0 M430.3,436.3h0 M430.4,436.1h0 M431.3,435.9h0 M430.1,435.8h0 M430.8,435.6h0 M433.1,435.4h0 M432.8,435.3h0 M432.5,435.1h0 M431.8,434.9h0 M433.0,434.8h0 M433.1,434.6h0 M431.5,434.4h0 M432.2,434.3h0 M429.5,434.1h0 M432.2,433.9h0 M431.1,433.8h0 M432.3,433.6h0 M431.9,433.4h0 M430.4,433.2h0 M429.5,433.1h0 M433.0,432.9h0 M429.8,432.7h0 M431.2,432.6h0 M430.7,432.4h0 M430.5,432.2h0 M432.3,432.1h0 M433.2,431.9h0 M430.3,431.7h0 M431.9,431.6h0 M430.5,431.4h0 M431.5,431.2h0 M430.9,431.1h0 M430.0,430.9h0 M429.9,430.7h0 M430.1,430.6h0 M432.9,430.4h0 M431.3,430.2h0 M430.2,430.1h0 M432.9,429.9h0 M433.3,429.7h0 M431.1,429.6h0 M429.9,429.4h0 M430.1,429.2h0 M429.7,429.1h0 M430.7,428.9h0 M429.7,428.7h0 M430.3,428.6h0 M430.3,428.4h0 M431.6,428.2h0 M432.8,428.1h0 M432.3,427.9h0 M431.0,427.7h0 M431.0,427.6h0 M431.4,427.4h0 M430.8,427.2h0 M430.7,427.1h0 M429.5,426.9h0 M430.4,426.7h0 M433.2,426.6h0 M429.8,426.4h0 M431.3,426.2h0 M431.8,426.0h0 M432.8,425.9h0 M430.2,425.7h0 M430.4,425.5h0 M430.3,425.4h0 M430.9,425.2h0 M431.1,425.0h0 M433.1,424.9h0 M432.7,424.7h0 M432.8,424.5h0 M429.4,424.4h0 M429.4,424.2h0 M432.1,424.0h0 M432.9,423.9h0 M431.2,423.7h0 M431.6,423.5h0 M429.3,423.4h0 M430.9,423.2h0 M433.0,423.0h0 M432.6,422.9h0" stroke="#111" stroke-width="1.7" stroke-linecap="round" fill="none"/><path d="M433.0,402.0h0 M429.9,416.9h0 M431.4,419.2h0 M432.9,406.3h0 M431.8,405.3h0 M431.1,404.3h0 M429.6,409.5h0 M430.3,403.8h0 M431.8,400.5h0 M430.0,415.6h0 M431.8,416.8h0 M429.9,405.9h0 M431.4,421.3h0 M430.9,408.7h0 M431.7,417.5h0 M430.6,422.7h0 M433.0,411.7h0 M432.7,407.2h0 M430.3,411.4h0 M433.0,416.9h0 M430.6,405.7h0 M431.3,422.5h0 M431.0,406.5h0 M431.9,416.7h0 M430.3,400.3h0 M430.7,422.2h0 M432.0,412.7h0 M432.4,418.1h0 M431.3,404.9h0 M433.0,418.0h0 M432.5,415.4h0 M430.3,417.3h0 M430.6,404.4h0 M431.3,399.7h0 M430.3,418.4h0" stroke="#222" stroke-width="1.0" stroke-linecap="round" fill="none"/><rect x="421.45" y="463.50" width="19.70" height="11.80" fill="#c6c6ca" /><line x1="421.45" y1="471.10" x2="441.15" y2="471.10" stroke="#000" stroke-width="2.1"/><line x1="472.30" y1="452.80" x2="472.30" y2="476.00" stroke="#111" stroke-width="1.3"/><path d="M472.4,448.2h0" stroke="#222" stroke-width="1.0" stroke-linecap="round" fill="none"/><rect x="461.90" y="464.20" width="20.80" height="8.70" fill="#c6c6ca" /><line x1="461.90" y1="468.70" x2="482.70" y2="468.70" stroke="#000" stroke-width="2.1"/><path d="M390.30,382.90 V377.70 H475.80 V382.90" fill="none" stroke="#111" stroke-width="1.4"/><text x="432.50" y="377.90" font-size="7.5" text-anchor="middle" fill="#222" font-weight="normal" font-style="normal" >**</text><path d="M390.30,392.60 V388.10 H431.50 V392.60" fill="none" stroke="#111" stroke-width="1.4"/><text x="410.70" y="388.30" font-size="7.5" text-anchor="middle" fill="#222" font-weight="normal" font-style="normal" >**</text><text x="431.80" y="367.90" font-size="7.8" text-anchor="middle" fill="#222" font-weight="normal" font-style="normal" stroke="#222" stroke-width="0.28">IDO1</text><text transform="translate(332.00,421.25) rotate(-90)" x="0" y="0" font-size="7.8" text-anchor="middle" dominant-baseline="central" textLength="45.5" lengthAdjust="spacingAndGlyphs" fill="#111" font-weight="bold">Signal intensity</text><text x="390.50" y="491.10" font-size="8.4" text-anchor="middle" fill="#111" font-weight="normal" font-style="normal" stroke="#111" stroke-width="0.28">CD163+</text><text x="430.70" y="491.10" font-size="8.4" text-anchor="middle" fill="#111" font-weight="normal" font-style="normal" stroke="#111" stroke-width="0.28">T</text><text x="472.70" y="491.10" font-size="8.4" text-anchor="middle" fill="#111" font-weight="normal" font-style="normal" stroke="#111" stroke-width="0.28">Others</text><text x="90.40" y="193.40" font-size="9.4" text-anchor="middle" fill="#111" font-weight="normal" font-style="normal" stroke="#111" stroke-width="0.28">no Mø signature</text><text x="230.40" y="193.40" font-size="9.4" text-anchor="middle" fill="#78bcbc" font-weight="normal" font-style="normal" stroke="#78bcbc" stroke-width="0.28">Mø signature</text><svg x="21.0" y="198.0" width="136.8" height="98.0" overflow="hidden"><rect width="136.8" height="98.0" fill="#0f1b26"/><rect width="136.8" height="98.0" filter="url(#gbg00)"/><rect width="136.8" height="98.0" filter="url(#ga00)"/><rect width="136.8" height="98.0" filter="url(#gb00)"/><rect width="136.8" height="98.0" filter="url(#gd00)"/><g filter="url(#wob)"><circle cx="22.6" cy="67.6" r="2.6" fill="url(#pk)"/><circle cx="65.5" cy="21.2" r="2.8" fill="url(#pk)"/><circle cx="110.5" cy="50.2" r="2.4" fill="url(#pk)"/><circle cx="32.3" cy="0.3" r="2.2" fill="url(#pk)"/><circle cx="80.1" cy="6.8" r="2.8" fill="url(#pk)"/><circle cx="31.8" cy="22.8" r="1.9" fill="url(#pk)"/><circle cx="136.5" cy="72.4" r="2.9" fill="url(#pk)"/><circle cx="84.3" cy="3.3" r="2.2" fill="url(#pk)"/><circle cx="68.1" cy="11.3" r="2.9" fill="url(#pk)"/><circle cx="50.4" cy="15.2" r="2.8" fill="url(#pk)"/><circle cx="17.1" cy="90.9" r="2.3" fill="url(#pk)"/><circle cx="75.5" cy="33.6" r="2.4" fill="url(#pk)"/><circle cx="25.6" cy="3.6" r="2.8" fill="url(#pk)"/><circle cx="32.1" cy="76.5" r="2.1" fill="url(#pk)"/></g></svg><rect x="107.60" y="281.00" width="50.20" height="15.00" fill="#2a2226" /><text x="110.20" y="287.60" font-size="6.6" text-anchor="start" fill="#ddd8cc" font-weight="normal" font-style="normal" stroke="#ddd8cc" stroke-width="0.28">CD3: Green</text><text x="110.20" y="294.60" font-size="6.6" text-anchor="start" fill="#b0307a" font-weight="normal" font-style="normal" stroke="#b0307a" stroke-width="0.28">CD163: Pink</text><svg x="162.0" y="198.0" width="136.8" height="98.0" overflow="hidden"><rect width="136.8" height="98.0" fill="#0f1b26"/><rect width="136.8" height="98.0" filter="url(#gbg10)"/><rect width="136.8" height="98.0" filter="url(#ga10)"/><rect width="136.8" height="98.0" filter="url(#gb10)"/><rect width="136.8" height="98.0" filter="url(#gd10)"/><ellipse cx="78" cy="24" rx="9" ry="7" fill="#0b1424" opacity="0.75" filter="url(#mb)"/><ellipse cx="115" cy="35" rx="10" ry="8" fill="#0b1424" opacity="0.75" filter="url(#mb)"/><ellipse cx="88" cy="6" rx="8" ry="5" fill="#0b1424" opacity="0.75" filter="url(#mb)"/><ellipse cx="60" cy="70" rx="7" ry="6" fill="#0b1424" opacity="0.75" filter="url(#mb)"/><ellipse cx="122" cy="70" rx="6" ry="6" fill="#0b1424" opacity="0.75" filter="url(#mb)"/><g filter="url(#wob)"><circle cx="131.5" cy="86.6" r="4.0" fill="url(#pk)"/><circle cx="97.5" cy="53.9" r="4.0" fill="url(#pk)"/><circle cx="9.9" cy="43.3" r="4.2" fill="url(#pk)"/><circle cx="18.4" cy="89.8" r="4.3" fill="url(#pk)"/><circle cx="44.8" cy="32.4" r="3.3" fill="url(#pk)"/><circle cx="41.6" cy="97.4" r="3.1" fill="url(#pk)"/><circle cx="1.5" cy="7.2" r="3.9" fill="url(#pk)"/><circle cx="135.6" cy="45.3" r="3.4" fill="url(#pk)"/><circle cx="64.9" cy="71.2" r="2.7" fill="url(#pk)"/><circle cx="73.6" cy="51.4" r="3.7" fill="url(#pk)"/><circle cx="16.1" cy="14.0" r="3.0" fill="url(#pk)"/><circle cx="124.4" cy="30.6" r="3.6" fill="url(#pk)"/><circle cx="31.2" cy="8.1" r="2.4" fill="url(#pk)"/><circle cx="105.7" cy="74.3" r="3.1" fill="url(#pk)"/><circle cx="85.0" cy="63.7" r="4.4" fill="url(#pk)"/><circle cx="129.7" cy="36.5" r="4.6" fill="url(#pk)"/><circle cx="130.2" cy="54.9" r="4.3" fill="url(#pk)"/><circle cx="56.2" cy="33.4" r="2.8" fill="url(#pk)"/><circle cx="116.0" cy="13.3" r="2.4" fill="url(#pk)"/><circle cx="104.4" cy="73.9" r="3.4" fill="url(#pk)"/><circle cx="109.5" cy="3.8" r="2.8" fill="url(#pk)"/><circle cx="29.1" cy="37.7" r="2.6" fill="url(#pk)"/><circle cx="4.9" cy="29.7" r="4.4" fill="url(#pk)"/><circle cx="134.0" cy="71.0" r="3.3" fill="url(#pk)"/><circle cx="24.5" cy="93.6" r="3.5" fill="url(#pk)"/><circle cx="92.1" cy="1.9" r="2.7" fill="url(#pk)"/><circle cx="109.7" cy="76.2" r="4.3" fill="url(#pk)"/><circle cx="72.4" cy="38.3" r="3.6" fill="url(#pk)"/><circle cx="111.5" cy="26.8" r="3.5" fill="url(#pk)"/><circle cx="27.4" cy="73.3" r="2.2" fill="url(#pk)"/><circle cx="85.3" cy="93.1" r="2.3" fill="url(#pk)"/><circle cx="71.3" cy="60.4" r="4.2" fill="url(#pk)"/><circle cx="69.9" cy="22.0" r="3.2" fill="url(#pk)"/><circle cx="129.8" cy="87.9" r="2.5" fill="url(#pk)"/><circle cx="7.2" cy="7.3" r="2.3" fill="url(#pk)"/><circle cx="50.0" cy="11.3" r="4.3" fill="url(#pk)"/><circle cx="80.7" cy="10.1" r="3.5" fill="url(#pk)"/><circle cx="33.5" cy="45.1" r="2.7" fill="url(#pk)"/><circle cx="14.5" cy="15.2" r="3.1" fill="url(#pk)"/><circle cx="89.2" cy="50.8" r="2.3" fill="url(#pk)"/><circle cx="89.3" cy="84.5" r="4.1" fill="url(#pk)"/><circle cx="102.0" cy="0.5" r="3.3" fill="url(#pk)"/><circle cx="4.4" cy="72.9" r="2.6" fill="url(#pk)"/><circle cx="89.4" cy="21.6" r="3.9" fill="url(#pk)"/><circle cx="32.1" cy="3.0" r="3.1" fill="url(#pk)"/><circle cx="31.6" cy="87.4" r="2.9" fill="url(#pk)"/><circle cx="58.0" cy="50.7" r="4.5" fill="url(#pk)"/><circle cx="7.6" cy="56.0" r="3.4" fill="url(#pk)"/><circle cx="93.0" cy="94.5" r="2.9" fill="url(#pk)"/><circle cx="87.5" cy="48.3" r="3.5" fill="url(#pk)"/><circle cx="4.4" cy="78.2" r="4.5" fill="url(#pk)"/><circle cx="37.5" cy="27.8" r="4.6" fill="url(#pk)"/><circle cx="8.4" cy="5.8" r="2.4" fill="url(#pk)"/><circle cx="105.8" cy="72.5" r="3.3" fill="url(#pk)"/><circle cx="75.5" cy="1.3" r="3.7" fill="url(#pk)"/><circle cx="49.4" cy="47.5" r="3.1" fill="url(#pk)"/><circle cx="43.7" cy="19.0" r="2.3" fill="url(#pk)"/><circle cx="48.2" cy="21.1" r="3.9" fill="url(#pk)"/><circle cx="106.3" cy="68.7" r="3.3" fill="url(#pk)"/><circle cx="22.6" cy="34.3" r="3.4" fill="url(#pk)"/><circle cx="77.1" cy="94.0" r="2.4" fill="url(#pk)"/><circle cx="54.6" cy="44.9" r="3.9" fill="url(#pk)"/><circle cx="118.3" cy="74.5" r="3.7" fill="url(#pk)"/><circle cx="96.8" cy="62.9" r="4.3" fill="url(#pk)"/><circle cx="87.4" cy="64.4" r="2.8" fill="url(#pk)"/><circle cx="122.7" cy="34.4" r="3.7" fill="url(#pk)"/><circle cx="107.5" cy="94.1" r="4.6" fill="url(#pk)"/><circle cx="0.2" cy="27.3" r="2.9" fill="url(#pk)"/><circle cx="42.3" cy="11.8" r="3.5" fill="url(#pk)"/><circle cx="5.8" cy="26.3" r="4.5" fill="url(#pk)"/><circle cx="94.3" cy="41.9" r="2.5" fill="url(#pk)"/><circle cx="129.3" cy="66.6" r="2.7" fill="url(#pk)"/><circle cx="34.9" cy="60.1" r="3.8" fill="url(#pk)"/><circle cx="25.5" cy="92.8" r="3.0" fill="url(#pk)"/><circle cx="24.7" cy="81.5" r="2.6" fill="url(#pk)"/><circle cx="84.7" cy="16.7" r="3.6" fill="url(#pk)"/><circle cx="27.5" cy="33.7" r="4.5" fill="url(#pk)"/><circle cx="52.8" cy="39.4" r="3.7" fill="url(#pk)"/><circle cx="27.9" cy="14.3" r="3.1" fill="url(#pk)"/><circle cx="26.9" cy="15.6" r="4.5" fill="url(#pk)"/><circle cx="2.0" cy="77.8" r="4.4" fill="url(#pk)"/><circle cx="88.3" cy="1.3" r="3.4" fill="url(#pk)"/><circle cx="2.4" cy="56.7" r="3.9" fill="url(#pk)"/><circle cx="23.0" cy="0.5" r="3.5" fill="url(#pk)"/><circle cx="7.2" cy="26.9" r="3.3" fill="url(#pk)"/><circle cx="119.0" cy="32.8" r="2.5" fill="url(#pk)"/><circle cx="102.2" cy="79.0" r="3.5" fill="url(#pk)"/><circle cx="3.2" cy="15.5" r="3.2" fill="url(#pk)"/><circle cx="65.1" cy="19.0" r="4.1" fill="url(#pk)"/><circle cx="110.6" cy="90.0" r="4.3" fill="url(#pk)"/><circle cx="0.9" cy="54.0" r="2.4" fill="url(#pk)"/><circle cx="119.9" cy="71.1" r="4.0" fill="url(#pk)"/><circle cx="17.0" cy="4.4" r="4.2" fill="url(#pk)"/><circle cx="73.2" cy="58.0" r="3.3" fill="url(#pk)"/><circle cx="103.5" cy="29.7" r="2.8" fill="url(#pk)"/></g></svg><rect x="248.60" y="281.00" width="50.20" height="15.00" fill="#2a2226" /><text x="251.20" y="287.60" font-size="6.6" text-anchor="start" fill="#ddd8cc" font-weight="normal" font-style="normal" stroke="#ddd8cc" stroke-width="0.28">CD3: Green</text><text x="251.20" y="294.60" font-size="6.6" text-anchor="start" fill="#b0307a" font-weight="normal" font-style="normal" stroke="#b0307a" stroke-width="0.28">CD163: Pink</text><svg x="21.0" y="296.0" width="136.8" height="98.0" overflow="hidden"><rect width="136.8" height="98.0" fill="#0f1b26"/><rect width="136.8" height="98.0" filter="url(#gbg01)"/><rect width="136.8" height="98.0" filter="url(#ga01)"/><rect width="136.8" height="98.0" filter="url(#gb01)"/><rect width="136.8" height="98.0" filter="url(#gd01)"/><rect width="136.8" height="98.0" filter="url(#s01)" mask="url(#om01)"/></svg><rect x="107.60" y="379.00" width="50.20" height="15.00" fill="#2a2226" /><text x="110.20" y="385.60" font-size="6.6" text-anchor="start" fill="#ddd8cc" font-weight="normal" font-style="normal" stroke="#ddd8cc" stroke-width="0.28">CD3: Green</text><text x="110.20" y="392.60" font-size="6.6" text-anchor="start" fill="#e0502a" font-weight="normal" font-style="normal" stroke="#e0502a" stroke-width="0.28">PD-L1:Orange</text><svg x="162.0" y="296.0" width="136.8" height="98.0" overflow="hidden"><rect width="136.8" height="98.0" fill="#0f1b26"/><rect width="136.8" height="98.0" filter="url(#gbg11)"/><rect width="136.8" height="98.0" filter="url(#ga11)"/><rect width="136.8" height="98.0" filter="url(#gb11)"/><rect width="136.8" height="98.0" filter="url(#gd11)"/><rect width="136.8" height="98.0" filter="url(#s11)" mask="url(#om11)"/></svg><rect x="248.60" y="379.00" width="50.20" height="15.00" fill="#2a2226" /><text x="251.20" y="385.60" font-size="6.6" text-anchor="start" fill="#ddd8cc" font-weight="normal" font-style="normal" stroke="#ddd8cc" stroke-width="0.28">CD3: Green</text><text x="251.20" y="392.60" font-size="6.6" text-anchor="start" fill="#e0502a" font-weight="normal" font-style="normal" stroke="#e0502a" stroke-width="0.28">PD-L1:Orange</text><svg x="21.0" y="394.0" width="136.8" height="97.6" overflow="hidden"><rect width="136.8" height="97.6" fill="#0f1b26"/><rect width="136.8" height="97.6" filter="url(#gbg02)"/><rect width="136.8" height="97.6" filter="url(#ga02)"/><rect width="136.8" height="97.6" filter="url(#gb02)"/><rect width="136.8" height="97.6" filter="url(#gd02)"/><g filter="url(#wob)"><circle cx="48.3" cy="29.1" r="2.9" fill="url(#cy)" opacity="0.85"/><circle cx="121.8" cy="6.9" r="1.9" fill="url(#cy)" opacity="0.85"/><circle cx="70.0" cy="66.2" r="2.1" fill="url(#cy)" opacity="0.85"/><circle cx="36.9" cy="5.7" r="1.9" fill="url(#cy)" opacity="0.85"/><circle cx="67.7" cy="66.4" r="3.0" fill="url(#cy)" opacity="0.85"/><circle cx="21.6" cy="10.2" r="3.5" fill="url(#cy)" opacity="0.85"/><circle cx="73.7" cy="39.9" r="3.0" fill="url(#cy)" opacity="0.85"/><circle cx="99.6" cy="51.2" r="1.9" fill="url(#cy)" opacity="0.85"/><circle cx="113.2" cy="20.9" r="1.9" fill="url(#cy)" opacity="0.85"/><circle cx="48.2" cy="52.0" r="2.9" fill="url(#cy)" opacity="0.85"/><circle cx="23.8" cy="69.3" r="2.7" fill="url(#cy)" opacity="0.85"/><circle cx="22.2" cy="83.1" r="3.3" fill="url(#cy)" opacity="0.85"/><circle cx="124.0" cy="66.3" r="2.2" fill="url(#cy)" opacity="0.85"/><circle cx="106.4" cy="88.1" r="2.8" fill="url(#cy)" opacity="0.85"/><circle cx="124.3" cy="94.7" r="2.5" fill="url(#cy)" opacity="0.85"/><circle cx="128.8" cy="91.4" r="3.2" fill="url(#cy)" opacity="0.85"/><circle cx="1.5" cy="34.3" r="2.9" fill="url(#cy)" opacity="0.85"/><circle cx="83.1" cy="73.8" r="3.0" fill="url(#cy)" opacity="0.85"/><circle cx="22.1" cy="90.8" r="2.8" fill="url(#cy)" opacity="0.85"/><circle cx="120.6" cy="20.2" r="3.6" fill="url(#cy)" opacity="0.85"/><circle cx="75.9" cy="75.7" r="3.1" fill="url(#cy)" opacity="0.85"/><circle cx="120.8" cy="35.4" r="1.9" fill="url(#cy)" opacity="0.85"/><circle cx="55.5" cy="17.4" r="2.8" fill="url(#cy)" opacity="0.85"/><circle cx="111.5" cy="35.4" r="2.0" fill="url(#cy)" opacity="0.85"/><circle cx="3.7" cy="41.3" r="2.8" fill="url(#cy)" opacity="0.85"/><circle cx="3.6" cy="64.9" r="2.2" fill="url(#cy)" opacity="0.85"/><circle cx="14.6" cy="90.5" r="2.7" fill="url(#cy)" opacity="0.85"/><circle cx="122.4" cy="50.2" r="2.0" fill="url(#cy)" opacity="0.85"/><circle cx="32.8" cy="41.4" r="3.0" fill="url(#cy)" opacity="0.85"/><circle cx="105.5" cy="73.3" r="3.0" fill="url(#cy)" opacity="0.85"/><circle cx="34.6" cy="42.0" r="2.5" fill="url(#cy)" opacity="0.85"/><circle cx="67.0" cy="25.9" r="2.8" fill="url(#cy)" opacity="0.85"/><circle cx="62.8" cy="3.5" r="3.3" fill="url(#cy)" opacity="0.85"/><circle cx="80.2" cy="78.3" r="3.1" fill="url(#cy)" opacity="0.85"/><circle cx="100.0" cy="97.0" r="2.5" fill="url(#cy)" opacity="0.85"/><circle cx="53.8" cy="0.4" r="3.0" fill="url(#cy)" opacity="0.85"/><circle cx="79.5" cy="56.3" r="3.6" fill="url(#cy)" opacity="0.85"/><circle cx="26.9" cy="22.2" r="3.1" fill="url(#cy)" opacity="0.85"/><circle cx="111.1" cy="47.1" r="1.9" fill="url(#cy)" opacity="0.85"/><circle cx="50.7" cy="80.7" r="2.7" fill="url(#cy)" opacity="0.85"/></g></svg><rect x="107.60" y="476.60" width="50.20" height="15.00" fill="#2a2226" /><text x="110.20" y="483.20" font-size="6.6" text-anchor="start" fill="#ddd8cc" font-weight="normal" font-style="normal" stroke="#ddd8cc" stroke-width="0.28">CD3: Green</text><text x="110.20" y="490.20" font-size="6.6" text-anchor="start" fill="#c8dcdc" font-weight="normal" font-style="normal" stroke="#c8dcdc" stroke-width="0.28">IDO1: Cyan</text><svg x="162.0" y="394.0" width="136.8" height="97.6" overflow="hidden"><rect width="136.8" height="97.6" fill="#0f1b26"/><rect width="136.8" height="97.6" filter="url(#gbg12)"/><rect width="136.8" height="97.6" filter="url(#ga12)"/><rect width="136.8" height="97.6" filter="url(#gb12)"/><rect width="136.8" height="97.6" filter="url(#gd12)"/><g filter="url(#wob)"><circle cx="63.1" cy="38.0" r="2.9" fill="url(#cy)" opacity="0.85"/><circle cx="81.9" cy="67.6" r="3.4" fill="url(#cy)" opacity="0.85"/><circle cx="102.8" cy="36.6" r="2.3" fill="url(#cy)" opacity="0.85"/><circle cx="107.0" cy="77.4" r="3.5" fill="url(#cy)" opacity="0.85"/><circle cx="27.2" cy="82.7" r="3.4" fill="url(#cy)" opacity="0.85"/><circle cx="10.6" cy="30.1" r="2.9" fill="url(#cy)" opacity="0.85"/><circle cx="20.0" cy="81.1" r="2.3" fill="url(#cy)" opacity="0.85"/><circle cx="93.3" cy="28.9" r="2.2" fill="url(#cy)" opacity="0.85"/><circle cx="28.3" cy="48.6" r="3.1" fill="url(#cy)" opacity="0.85"/><circle cx="29.8" cy="67.0" r="2.4" fill="url(#cy)" opacity="0.85"/><circle cx="88.8" cy="35.9" r="2.1" fill="url(#cy)" opacity="0.85"/><circle cx="19.3" cy="5.6" r="3.1" fill="url(#cy)" opacity="0.85"/><circle cx="56.6" cy="12.0" r="3.4" fill="url(#cy)" opacity="0.85"/><circle cx="89.6" cy="2.1" r="3.1" fill="url(#cy)" opacity="0.85"/><circle cx="81.3" cy="43.3" r="2.7" fill="url(#cy)" opacity="0.85"/><circle cx="131.6" cy="36.5" r="2.9" fill="url(#cy)" opacity="0.85"/><circle cx="87.0" cy="35.7" r="2.4" fill="url(#cy)" opacity="0.85"/><circle cx="103.3" cy="62.1" r="2.6" fill="url(#cy)" opacity="0.85"/><circle cx="70.3" cy="21.8" r="3.2" fill="url(#cy)" opacity="0.85"/><circle cx="2.7" cy="62.8" r="2.6" fill="url(#cy)" opacity="0.85"/><circle cx="30.3" cy="57.3" r="2.8" fill="url(#cy)" opacity="0.85"/><circle cx="11.9" cy="47.8" r="2.1" fill="url(#cy)" opacity="0.85"/><circle cx="109.3" cy="31.9" r="2.4" fill="url(#cy)" opacity="0.85"/><circle cx="29.5" cy="4.7" r="2.1" fill="url(#cy)" opacity="0.85"/><circle cx="20.7" cy="60.9" r="3.3" fill="url(#cy)" opacity="0.85"/><circle cx="30.2" cy="10.9" r="2.8" fill="url(#cy)" opacity="0.85"/><circle cx="15.8" cy="39.6" r="3.2" fill="url(#cy)" opacity="0.85"/><circle cx="27.8" cy="68.3" r="2.8" fill="url(#cy)" opacity="0.85"/><circle cx="11.6" cy="23.7" r="2.9" fill="url(#cy)" opacity="0.85"/><circle cx="13.2" cy="19.9" r="2.8" fill="url(#cy)" opacity="0.85"/><circle cx="111.9" cy="50.8" r="3.0" fill="url(#cy)" opacity="0.85"/><circle cx="1.2" cy="29.5" r="2.4" fill="url(#cy)" opacity="0.85"/><circle cx="125.0" cy="34.9" r="3.2" fill="url(#cy)" opacity="0.85"/><circle cx="4.7" cy="48.6" r="3.4" fill="url(#cy)" opacity="0.85"/><circle cx="105.5" cy="56.6" r="2.1" fill="url(#cy)" opacity="0.85"/><circle cx="126.7" cy="7.8" r="3.5" fill="url(#cy)" opacity="0.85"/><circle cx="106.2" cy="70.2" r="2.8" fill="url(#cy)" opacity="0.85"/><circle cx="22.4" cy="33.3" r="3.0" fill="url(#cy)" opacity="0.85"/><circle cx="89.7" cy="38.0" r="3.2" fill="url(#cy)" opacity="0.85"/><circle cx="7.3" cy="28.0" r="2.0" fill="url(#cy)" opacity="0.85"/><circle cx="44.4" cy="77.4" r="3.2" fill="url(#cy)" opacity="0.85"/><circle cx="20.4" cy="30.1" r="2.0" fill="url(#cy)" opacity="0.85"/><circle cx="90.5" cy="43.2" r="2.2" fill="url(#cy)" opacity="0.85"/><circle cx="51.2" cy="84.4" r="2.6" fill="url(#cy)" opacity="0.85"/><circle cx="94.5" cy="61.3" r="2.7" fill="url(#cy)" opacity="0.85"/><circle cx="76.1" cy="35.5" r="2.2" fill="url(#cy)" opacity="0.85"/><circle cx="67.6" cy="29.7" r="2.4" fill="url(#cy)" opacity="0.85"/><circle cx="25.5" cy="89.1" r="2.6" fill="url(#cy)" opacity="0.85"/><circle cx="27.4" cy="3.1" r="2.2" fill="url(#cy)" opacity="0.85"/><circle cx="118.8" cy="32.9" r="3.0" fill="url(#cy)" opacity="0.85"/><circle cx="31.5" cy="63.5" r="2.6" fill="url(#cy)" opacity="0.85"/><circle cx="100.7" cy="51.6" r="2.5" fill="url(#cy)" opacity="0.85"/><circle cx="38.3" cy="58.0" r="3.3" fill="url(#cy)" opacity="0.85"/><circle cx="94.6" cy="46.9" r="2.4" fill="url(#cy)" opacity="0.85"/><circle cx="121.9" cy="82.6" r="2.1" fill="url(#cy)" opacity="0.85"/><circle cx="92.9" cy="75.4" r="3.0" fill="url(#cy)" opacity="0.85"/><circle cx="131.9" cy="85.8" r="2.2" fill="url(#cy)" opacity="0.85"/><circle cx="136.4" cy="32.0" r="2.5" fill="url(#cy)" opacity="0.85"/><circle cx="133.6" cy="16.3" r="2.5" fill="url(#cy)" opacity="0.85"/><circle cx="85.6" cy="26.6" r="2.3" fill="url(#cy)" opacity="0.85"/><circle cx="108.6" cy="59.8" r="3.1" fill="url(#cy)" opacity="0.85"/><circle cx="108.1" cy="85.1" r="3.4" fill="url(#cy)" opacity="0.85"/><circle cx="112.6" cy="95.5" r="2.7" fill="url(#cy)" opacity="0.85"/><circle cx="96.0" cy="50.2" r="3.5" fill="url(#cy)" opacity="0.85"/><circle cx="89.6" cy="42.0" r="3.0" fill="url(#cy)" opacity="0.85"/><circle cx="40.3" cy="12.6" r="2.5" fill="url(#cy)" opacity="0.85"/><circle cx="18.7" cy="0.4" r="2.0" fill="url(#cy)" opacity="0.85"/><circle cx="62.2" cy="74.5" r="1.9" fill="url(#cy)" opacity="0.85"/><circle cx="87.1" cy="10.9" r="2.7" fill="url(#cy)" opacity="0.85"/><circle cx="40.5" cy="43.5" r="3.1" fill="url(#cy)" opacity="0.85"/><circle cx="56.6" cy="38.2" r="3.1" fill="url(#cy)" opacity="0.85"/><circle cx="15.8" cy="34.1" r="3.1" fill="url(#cy)" opacity="0.85"/><circle cx="114.2" cy="95.6" r="2.3" fill="url(#cy)" opacity="0.85"/><circle cx="85.5" cy="30.5" r="3.1" fill="url(#cy)" opacity="0.85"/><circle cx="115.8" cy="13.2" r="2.4" fill="url(#cy)" opacity="0.85"/></g></svg><rect x="248.60" y="476.60" width="50.20" height="15.00" fill="#2a2226" /><text x="251.20" y="483.20" font-size="6.6" text-anchor="start" fill="#ddd8cc" font-weight="normal" font-style="normal" stroke="#ddd8cc" stroke-width="0.28">CD3: Green</text><text x="251.20" y="490.20" font-size="6.6" text-anchor="start" fill="#c8dcdc" font-weight="normal" font-style="normal" stroke="#c8dcdc" stroke-width="0.28">IDO1: Cyan</text><rect x="77.50" y="576.80" width="3.26" height="13.00" fill="#bbbed6" /><rect x="80.41" y="576.80" width="3.26" height="13.00" fill="#d1bfc4" /><rect x="83.31" y="576.80" width="3.26" height="13.00" fill="#d3acaf" /><rect x="86.22" y="576.80" width="3.26" height="13.00" fill="#cccbd4" /><rect x="89.12" y="576.80" width="3.26" height="13.00" fill="#b8bbd6" /><rect x="92.03" y="576.80" width="3.26" height="13.00" fill="#d0cbd0" /><rect x="94.94" y="576.80" width="3.26" height="13.00" fill="#d1bdc1" /><rect x="97.84" y="576.80" width="3.26" height="13.00" fill="#d3a9ab" /><rect x="100.75" y="576.80" width="3.26" height="13.00" fill="#bbbed6" /><rect x="103.65" y="576.80" width="3.26" height="13.00" fill="#b9bcd6" /><rect x="106.56" y="576.80" width="3.26" height="13.00" fill="#d2b6b9" /><rect x="109.47" y="576.80" width="3.26" height="13.00" fill="#d1bdc1" /><rect x="112.37" y="576.80" width="3.26" height="13.00" fill="#d49a9a" /><rect x="115.28" y="576.80" width="3.26" height="13.00" fill="#d3adaf" /><rect x="118.18" y="576.80" width="3.26" height="13.00" fill="#d0cbd1" /><rect x="121.09" y="576.80" width="3.26" height="13.00" fill="#d0ced4" /><rect x="124.00" y="576.80" width="3.26" height="13.00" fill="#d8726e" /><rect x="126.90" y="576.80" width="3.26" height="13.00" fill="#d0ced4" /><rect x="129.81" y="576.80" width="3.26" height="13.00" fill="#c6c6d5" /><rect x="132.72" y="576.80" width="3.26" height="13.00" fill="#bdbfd6" /><rect x="135.62" y="576.80" width="3.26" height="13.00" fill="#d1c7cc" /><rect x="138.53" y="576.80" width="3.26" height="13.00" fill="#da534c" /><rect x="141.43" y="576.80" width="3.26" height="13.00" fill="#d86b66" /><rect x="144.34" y="576.80" width="3.26" height="13.00" fill="#da5d57" /><rect x="147.25" y="576.80" width="3.26" height="13.00" fill="#db4d45" /><rect x="150.15" y="576.80" width="3.26" height="13.00" fill="#dd382e" /><rect x="153.06" y="576.80" width="3.26" height="13.00" fill="#de281c" /><rect x="155.96" y="576.80" width="3.26" height="13.00" fill="#db5048" /><rect x="158.87" y="576.80" width="3.26" height="13.00" fill="#c8c8d5" /><rect x="161.78" y="576.80" width="3.26" height="13.00" fill="#d68482" /><rect x="164.68" y="576.80" width="3.26" height="13.00" fill="#d0ced4" /><rect x="167.59" y="576.80" width="3.26" height="13.00" fill="#c2c3d5" /><rect x="170.49" y="576.80" width="3.26" height="13.00" fill="#8a98da" /><rect x="173.40" y="576.80" width="3.26" height="13.00" fill="#c8c8d5" /><rect x="176.31" y="576.80" width="3.26" height="13.00" fill="#aab1d7" /><rect x="179.21" y="576.80" width="3.26" height="13.00" fill="#ceccd4" /><rect x="182.12" y="576.80" width="3.26" height="13.00" fill="#dc3e35" /><rect x="185.02" y="576.80" width="3.26" height="13.00" fill="#c6c6d5" /><rect x="187.93" y="576.80" width="3.26" height="13.00" fill="#d1bec2" /><rect x="190.84" y="576.80" width="3.26" height="13.00" fill="#919ed9" /><rect x="193.74" y="576.80" width="3.26" height="13.00" fill="#bec0d6" /><rect x="196.65" y="576.80" width="3.26" height="13.00" fill="#d1c5ca" /><rect x="199.55" y="576.80" width="3.26" height="13.00" fill="#c5c5d5" /><rect x="202.46" y="576.80" width="3.26" height="13.00" fill="#d0cdd3" /><rect x="205.37" y="576.80" width="3.26" height="13.00" fill="#cbcad4" /><rect x="208.27" y="576.80" width="3.26" height="13.00" fill="#a0a9d8" /><rect x="211.18" y="576.80" width="3.26" height="13.00" fill="#d0c8cd" /><rect x="214.08" y="576.80" width="3.26" height="13.00" fill="#a9afd7" /><rect x="216.99" y="576.80" width="3.26" height="13.00" fill="#d58f8e" /><rect x="219.90" y="576.80" width="3.26" height="13.00" fill="#b5b9d6" /><rect x="222.80" y="576.80" width="3.26" height="13.00" fill="#d1c4c9" /><rect x="225.71" y="576.80" width="3.26" height="13.00" fill="#c8c8d5" /><rect x="228.62" y="576.80" width="3.26" height="13.00" fill="#d2babe" /><rect x="231.52" y="576.80" width="3.26" height="13.00" fill="#b1b6d7" /><rect x="234.43" y="576.80" width="3.26" height="13.00" fill="#cccbd4" /><rect x="237.33" y="576.80" width="3.26" height="13.00" fill="#9da7d8" /><rect x="240.24" y="576.80" width="3.26" height="13.00" fill="#d0ccd2" /><rect x="243.15" y="576.80" width="3.26" height="13.00" fill="#bec0d6" /><rect x="246.05" y="576.80" width="3.26" height="13.00" fill="#aab0d7" /><rect x="248.96" y="576.80" width="3.26" height="13.00" fill="#7c8ddb" /><rect x="251.86" y="576.80" width="3.26" height="13.00" fill="#c4c5d5" /><rect x="254.77" y="576.80" width="3.26" height="13.00" fill="#b8bcd6" /><rect x="257.68" y="576.80" width="3.26" height="13.00" fill="#d1bfc3" /><rect x="260.58" y="576.80" width="3.26" height="13.00" fill="#919dd9" /><rect x="263.49" y="576.80" width="3.26" height="13.00" fill="#bcbed6" /><rect x="266.39" y="576.80" width="3.26" height="13.00" fill="#babdd6" /><rect x="77.50" y="589.50" width="3.26" height="13.00" fill="#d1c2c7" /><rect x="80.41" y="589.50" width="3.26" height="13.00" fill="#d1c4c9" /><rect x="83.31" y="589.50" width="3.26" height="13.00" fill="#d1c5ca" /><rect x="86.22" y="589.50" width="3.26" height="13.00" fill="#cacad4" /><rect x="89.12" y="589.50" width="3.26" height="13.00" fill="#c0c2d5" /><rect x="92.03" y="589.50" width="3.26" height="13.00" fill="#cecdd4" /><rect x="94.94" y="589.50" width="3.26" height="13.00" fill="#d2b9bd" /><rect x="97.84" y="589.50" width="3.26" height="13.00" fill="#d49a9b" /><rect x="100.75" y="589.50" width="3.26" height="13.00" fill="#d3adaf" /><rect x="103.65" y="589.50" width="3.26" height="13.00" fill="#d3aaad" /><rect x="106.56" y="589.50" width="3.26" height="13.00" fill="#d2b3b7" /><rect x="109.47" y="589.50" width="3.26" height="13.00" fill="#d2b6b9" /><rect x="112.37" y="589.50" width="3.26" height="13.00" fill="#d1c5ca" /><rect x="115.28" y="589.50" width="3.26" height="13.00" fill="#d2b4b7" /><rect x="118.18" y="589.50" width="3.26" height="13.00" fill="#d59190" /><rect x="121.09" y="589.50" width="3.26" height="13.00" fill="#cfced4" /><rect x="124.00" y="589.50" width="3.26" height="13.00" fill="#c8c8d5" /><rect x="126.90" y="589.50" width="3.26" height="13.00" fill="#d68a88" /><rect x="129.81" y="589.50" width="3.26" height="13.00" fill="#d1c3c8" /><rect x="132.72" y="589.50" width="3.26" height="13.00" fill="#d3adb0" /><rect x="135.62" y="589.50" width="3.26" height="13.00" fill="#d3b0b3" /><rect x="138.53" y="589.50" width="3.26" height="13.00" fill="#d0cdd3" /><rect x="141.43" y="589.50" width="3.26" height="13.00" fill="#dc3b31" /><rect x="144.34" y="589.50" width="3.26" height="13.00" fill="#da5b55" /><rect x="147.25" y="589.50" width="3.26" height="13.00" fill="#d4a2a3" /><rect x="150.15" y="589.50" width="3.26" height="13.00" fill="#dc3f35" /><rect x="153.06" y="589.50" width="3.26" height="13.00" fill="#d95e57" /><rect x="155.96" y="589.50" width="3.26" height="13.00" fill="#d1c7cc" /><rect x="158.87" y="589.50" width="3.26" height="13.00" fill="#d3adb0" /><rect x="161.78" y="589.50" width="3.26" height="13.00" fill="#da524a" /><rect x="164.68" y="589.50" width="3.26" height="13.00" fill="#de2c21" /><rect x="167.59" y="589.50" width="3.26" height="13.00" fill="#d1c3c8" /><rect x="170.49" y="589.50" width="3.26" height="13.00" fill="#c9c9d5" /><rect x="173.40" y="589.50" width="3.26" height="13.00" fill="#d3a8aa" /><rect x="176.31" y="589.50" width="3.26" height="13.00" fill="#abb1d7" /><rect x="179.21" y="589.50" width="3.26" height="13.00" fill="#d1c0c5" /><rect x="182.12" y="589.50" width="3.26" height="13.00" fill="#d2b3b6" /><rect x="185.02" y="589.50" width="3.26" height="13.00" fill="#bdc0d6" /><rect x="187.93" y="589.50" width="3.26" height="13.00" fill="#7b8cdb" /><rect x="190.84" y="589.50" width="3.26" height="13.00" fill="#a4acd8" /><rect x="193.74" y="589.50" width="3.26" height="13.00" fill="#cecdd4" /><rect x="196.65" y="589.50" width="3.26" height="13.00" fill="#d0c9cf" /><rect x="199.55" y="589.50" width="3.26" height="13.00" fill="#d49fa0" /><rect x="202.46" y="589.50" width="3.26" height="13.00" fill="#a0a9d8" /><rect x="205.37" y="589.50" width="3.26" height="13.00" fill="#c8c8d5" /><rect x="208.27" y="589.50" width="3.26" height="13.00" fill="#d1c5ca" /><rect x="211.18" y="589.50" width="3.26" height="13.00" fill="#c2c3d5" /><rect x="214.08" y="589.50" width="3.26" height="13.00" fill="#5d75de" /><rect x="216.99" y="589.50" width="3.26" height="13.00" fill="#d1c0c4" /><rect x="219.90" y="589.50" width="3.26" height="13.00" fill="#d77774" /><rect x="222.80" y="589.50" width="3.26" height="13.00" fill="#d2b8bb" /><rect x="225.71" y="589.50" width="3.26" height="13.00" fill="#a4acd8" /><rect x="228.62" y="589.50" width="3.26" height="13.00" fill="#b9bcd6" /><rect x="231.52" y="589.50" width="3.26" height="13.00" fill="#ceccd4" /><rect x="234.43" y="589.50" width="3.26" height="13.00" fill="#d59696" /><rect x="237.33" y="589.50" width="3.26" height="13.00" fill="#bec0d6" /><rect x="240.24" y="589.50" width="3.26" height="13.00" fill="#a9afd7" /><rect x="243.15" y="589.50" width="3.26" height="13.00" fill="#d1c2c7" /><rect x="246.05" y="589.50" width="3.26" height="13.00" fill="#9fa8d8" /><rect x="248.96" y="589.50" width="3.26" height="13.00" fill="#d2b6b9" /><rect x="251.86" y="589.50" width="3.26" height="13.00" fill="#8191db" /><rect x="254.77" y="589.50" width="3.26" height="13.00" fill="#8c99da" /><rect x="257.68" y="589.50" width="3.26" height="13.00" fill="#c2c3d5" /><rect x="260.58" y="589.50" width="3.26" height="13.00" fill="#d1c7cd" /><rect x="263.49" y="589.50" width="3.26" height="13.00" fill="#c0c1d5" /><rect x="266.39" y="589.50" width="3.26" height="13.00" fill="#b1b6d7" /><rect x="77.50" y="604.30" width="3.26" height="6.50" fill="#aeb4d7" /><rect x="80.41" y="604.30" width="3.26" height="6.50" fill="#c9c9d5" /><rect x="83.31" y="604.30" width="3.26" height="6.50" fill="#cbcad4" /><rect x="86.22" y="604.30" width="3.26" height="6.50" fill="#cdcbd4" /><rect x="89.12" y="604.30" width="3.26" height="6.50" fill="#d2bbbf" /><rect x="92.03" y="604.30" width="3.26" height="6.50" fill="#d0ced4" /><rect x="94.94" y="604.30" width="3.26" height="6.50" fill="#d2b5b9" /><rect x="97.84" y="604.30" width="3.26" height="6.50" fill="#d1c7cd" /><rect x="100.75" y="604.30" width="3.26" height="6.50" fill="#d0ced4" /><rect x="103.65" y="604.30" width="3.26" height="6.50" fill="#d1c7cc" /><rect x="106.56" y="604.30" width="3.26" height="6.50" fill="#d1bfc3" /><rect x="109.47" y="604.30" width="3.26" height="6.50" fill="#d2b3b6" /><rect x="112.37" y="604.30" width="3.26" height="6.50" fill="#ceccd4" /><rect x="115.28" y="604.30" width="3.26" height="6.50" fill="#d0cdd3" /><rect x="118.18" y="604.30" width="3.26" height="6.50" fill="#babdd6" /><rect x="121.09" y="604.30" width="3.26" height="6.50" fill="#d49c9d" /><rect x="124.00" y="604.30" width="3.26" height="6.50" fill="#d4a1a2" /><rect x="126.90" y="604.30" width="3.26" height="6.50" fill="#d0ccd2" /><rect x="129.81" y="604.30" width="3.26" height="6.50" fill="#ceccd4" /><rect x="132.72" y="604.30" width="3.26" height="6.50" fill="#bec0d6" /><rect x="135.62" y="604.30" width="3.26" height="6.50" fill="#d1c5ca" /><rect x="138.53" y="604.30" width="3.26" height="6.50" fill="#da5c55" /><rect x="141.43" y="604.30" width="3.26" height="6.50" fill="#de281c" /><rect x="144.34" y="604.30" width="3.26" height="6.50" fill="#da5a54" /><rect x="147.25" y="604.30" width="3.26" height="6.50" fill="#d7807e" /><rect x="150.15" y="604.30" width="3.26" height="6.50" fill="#d2b6ba" /><rect x="153.06" y="604.30" width="3.26" height="6.50" fill="#de2c20" /><rect x="155.96" y="604.30" width="3.26" height="6.50" fill="#da5c56" /><rect x="158.87" y="604.30" width="3.26" height="6.50" fill="#d49d9d" /><rect x="161.78" y="604.30" width="3.26" height="6.50" fill="#da5d57" /><rect x="164.68" y="604.30" width="3.26" height="6.50" fill="#d49d9d" /><rect x="167.59" y="604.30" width="3.26" height="6.50" fill="#d96661" /><rect x="170.49" y="604.30" width="3.26" height="6.50" fill="#d1bcc0" /><rect x="173.40" y="604.30" width="3.26" height="6.50" fill="#d0cad0" /><rect x="176.31" y="604.30" width="3.26" height="6.50" fill="#c6c6d5" /><rect x="179.21" y="604.30" width="3.26" height="6.50" fill="#8997da" /><rect x="182.12" y="604.30" width="3.26" height="6.50" fill="#c7c7d5" /><rect x="185.02" y="604.30" width="3.26" height="6.50" fill="#9da7d8" /><rect x="187.93" y="604.30" width="3.26" height="6.50" fill="#d0cad0" /><rect x="190.84" y="604.30" width="3.26" height="6.50" fill="#8997da" /><rect x="193.74" y="604.30" width="3.26" height="6.50" fill="#b1b6d7" /><rect x="196.65" y="604.30" width="3.26" height="6.50" fill="#d2b9bd" /><rect x="199.55" y="604.30" width="3.26" height="6.50" fill="#d3acae" /><rect x="202.46" y="604.30" width="3.26" height="6.50" fill="#a9b0d7" /><rect x="205.37" y="604.30" width="3.26" height="6.50" fill="#9ea7d8" /><rect x="208.27" y="604.30" width="3.26" height="6.50" fill="#d1c3c8" /><rect x="211.18" y="604.30" width="3.26" height="6.50" fill="#d1c4c9" /><rect x="214.08" y="604.30" width="3.26" height="6.50" fill="#afb5d7" /><rect x="216.99" y="604.30" width="3.26" height="6.50" fill="#b8bbd6" /><rect x="219.90" y="604.30" width="3.26" height="6.50" fill="#b8bbd6" /><rect x="222.80" y="604.30" width="3.26" height="6.50" fill="#a9b0d7" /><rect x="225.71" y="604.30" width="3.26" height="6.50" fill="#b8bcd6" /><rect x="228.62" y="604.30" width="3.26" height="6.50" fill="#d2b8bc" /><rect x="231.52" y="604.30" width="3.26" height="6.50" fill="#d1c8cd" /><rect x="234.43" y="604.30" width="3.26" height="6.50" fill="#d3acaf" /><rect x="237.33" y="604.30" width="3.26" height="6.50" fill="#9fa8d8" /><rect x="240.24" y="604.30" width="3.26" height="6.50" fill="#7a8cdb" /><rect x="243.15" y="604.30" width="3.26" height="6.50" fill="#4d69df" /><rect x="246.05" y="604.30" width="3.26" height="6.50" fill="#7b8cdb" /><rect x="248.96" y="604.30" width="3.26" height="6.50" fill="#3b5be1" /><rect x="251.86" y="604.30" width="3.26" height="6.50" fill="#3a5ae1" /><rect x="254.77" y="604.30" width="3.26" height="6.50" fill="#a2aad8" /><rect x="257.68" y="604.30" width="3.26" height="6.50" fill="#c0c2d5" /><rect x="260.58" y="604.30" width="3.26" height="6.50" fill="#a8afd7" /><rect x="263.49" y="604.30" width="3.26" height="6.50" fill="#bcbed6" /><rect x="266.39" y="604.30" width="3.26" height="6.50" fill="#8d9ada" /><rect x="77.50" y="610.50" width="3.26" height="6.50" fill="#c9c9d5" /><rect x="80.41" y="610.50" width="3.26" height="6.50" fill="#d1c7cd" /><rect x="83.31" y="610.50" width="3.26" height="6.50" fill="#cfcdd4" /><rect x="86.22" y="610.50" width="3.26" height="6.50" fill="#c1c2d5" /><rect x="89.12" y="610.50" width="3.26" height="6.50" fill="#b2b7d7" /><rect x="92.03" y="610.50" width="3.26" height="6.50" fill="#b7bbd6" /><rect x="94.94" y="610.50" width="3.26" height="6.50" fill="#d0c9cf" /><rect x="97.84" y="610.50" width="3.26" height="6.50" fill="#d1c6cb" /><rect x="100.75" y="610.50" width="3.26" height="6.50" fill="#ceccd4" /><rect x="103.65" y="610.50" width="3.26" height="6.50" fill="#d4a2a3" /><rect x="106.56" y="610.50" width="3.26" height="6.50" fill="#d1c5ca" /><rect x="109.47" y="610.50" width="3.26" height="6.50" fill="#d2bbbf" /><rect x="112.37" y="610.50" width="3.26" height="6.50" fill="#d3a9ab" /><rect x="115.28" y="610.50" width="3.26" height="6.50" fill="#c7c7d5" /><rect x="118.18" y="610.50" width="3.26" height="6.50" fill="#aab1d7" /><rect x="121.09" y="610.50" width="3.26" height="6.50" fill="#d2b6ba" /><rect x="124.00" y="610.50" width="3.26" height="6.50" fill="#cac9d5" /><rect x="126.90" y="610.50" width="3.26" height="6.50" fill="#d3a6a7" /><rect x="129.81" y="610.50" width="3.26" height="6.50" fill="#d1c1c6" /><rect x="132.72" y="610.50" width="3.26" height="6.50" fill="#d3afb2" /><rect x="135.62" y="610.50" width="3.26" height="6.50" fill="#d2b6b9" /><rect x="138.53" y="610.50" width="3.26" height="6.50" fill="#d3acae" /><rect x="141.43" y="610.50" width="3.26" height="6.50" fill="#db483f" /><rect x="144.34" y="610.50" width="3.26" height="6.50" fill="#d77d7a" /><rect x="147.25" y="610.50" width="3.26" height="6.50" fill="#d7807d" /><rect x="150.15" y="610.50" width="3.26" height="6.50" fill="#d87470" /><rect x="153.06" y="610.50" width="3.26" height="6.50" fill="#db463d" /><rect x="155.96" y="610.50" width="3.26" height="6.50" fill="#dc4138" /><rect x="158.87" y="610.50" width="3.26" height="6.50" fill="#dc3c32" /><rect x="161.78" y="610.50" width="3.26" height="6.50" fill="#d49e9f" /><rect x="164.68" y="610.50" width="3.26" height="6.50" fill="#d77a76" /><rect x="167.59" y="610.50" width="3.26" height="6.50" fill="#8090db" /><rect x="170.49" y="610.50" width="3.26" height="6.50" fill="#c7c7d5" /><rect x="173.40" y="610.50" width="3.26" height="6.50" fill="#d0cacf" /><rect x="176.31" y="610.50" width="3.26" height="6.50" fill="#b6bad6" /><rect x="179.21" y="610.50" width="3.26" height="6.50" fill="#cecdd4" /><rect x="182.12" y="610.50" width="3.26" height="6.50" fill="#cecdd4" /><rect x="185.02" y="610.50" width="3.26" height="6.50" fill="#d1c0c4" /><rect x="187.93" y="610.50" width="3.26" height="6.50" fill="#b4b8d6" /><rect x="190.84" y="610.50" width="3.26" height="6.50" fill="#b4b8d6" /><rect x="193.74" y="610.50" width="3.26" height="6.50" fill="#b6bad6" /><rect x="196.65" y="610.50" width="3.26" height="6.50" fill="#d3a8aa" /><rect x="199.55" y="610.50" width="3.26" height="6.50" fill="#d1bdc1" /><rect x="202.46" y="610.50" width="3.26" height="6.50" fill="#c7c7d5" /><rect x="205.37" y="610.50" width="3.26" height="6.50" fill="#cecdd4" /><rect x="208.27" y="610.50" width="3.26" height="6.50" fill="#cccbd4" /><rect x="211.18" y="610.50" width="3.26" height="6.50" fill="#ceccd4" /><rect x="214.08" y="610.50" width="3.26" height="6.50" fill="#c5c5d5" /><rect x="216.99" y="610.50" width="3.26" height="6.50" fill="#c2c3d5" /><rect x="219.90" y="610.50" width="3.26" height="6.50" fill="#a7aed8" /><rect x="222.80" y="610.50" width="3.26" height="6.50" fill="#b9bcd6" /><rect x="225.71" y="610.50" width="3.26" height="6.50" fill="#d3acae" /><rect x="228.62" y="610.50" width="3.26" height="6.50" fill="#d0cbd1" /><rect x="231.52" y="610.50" width="3.26" height="6.50" fill="#cbcad4" /><rect x="234.43" y="610.50" width="3.26" height="6.50" fill="#99a3d9" /><rect x="237.33" y="610.50" width="3.26" height="6.50" fill="#a6aed8" /><rect x="240.24" y="610.50" width="3.26" height="6.50" fill="#929ed9" /><rect x="243.15" y="610.50" width="3.26" height="6.50" fill="#6077de" /><rect x="246.05" y="610.50" width="3.26" height="6.50" fill="#8a98da" /><rect x="248.96" y="610.50" width="3.26" height="6.50" fill="#8c9ada" /><rect x="251.86" y="610.50" width="3.26" height="6.50" fill="#5a73de" /><rect x="254.77" y="610.50" width="3.26" height="6.50" fill="#5871de" /><rect x="257.68" y="610.50" width="3.26" height="6.50" fill="#4d68df" /><rect x="260.58" y="610.50" width="3.26" height="6.50" fill="#4966e0" /><rect x="263.49" y="610.50" width="3.26" height="6.50" fill="#aab1d7" /><rect x="266.39" y="610.50" width="3.26" height="6.50" fill="#3a5ae1" /><rect x="77.50" y="616.70" width="3.26" height="6.50" fill="#d0ced4" /><rect x="80.41" y="616.70" width="3.26" height="6.50" fill="#cbcad4" /><rect x="83.31" y="616.70" width="3.26" height="6.50" fill="#cbcad4" /><rect x="86.22" y="616.70" width="3.26" height="6.50" fill="#d1c7cc" /><rect x="89.12" y="616.70" width="3.26" height="6.50" fill="#d3abae" /><rect x="92.03" y="616.70" width="3.26" height="6.50" fill="#d1c7cd" /><rect x="94.94" y="616.70" width="3.26" height="6.50" fill="#d0ccd2" /><rect x="97.84" y="616.70" width="3.26" height="6.50" fill="#cbcad4" /><rect x="100.75" y="616.70" width="3.26" height="6.50" fill="#d0ccd1" /><rect x="103.65" y="616.70" width="3.26" height="6.50" fill="#d2b2b5" /><rect x="106.56" y="616.70" width="3.26" height="6.50" fill="#cfcdd4" /><rect x="109.47" y="616.70" width="3.26" height="6.50" fill="#c0c1d5" /><rect x="112.37" y="616.70" width="3.26" height="6.50" fill="#bdbfd6" /><rect x="115.28" y="616.70" width="3.26" height="6.50" fill="#c1c2d5" /><rect x="118.18" y="616.70" width="3.26" height="6.50" fill="#babdd6" /><rect x="121.09" y="616.70" width="3.26" height="6.50" fill="#d3acaf" /><rect x="124.00" y="616.70" width="3.26" height="6.50" fill="#d1c1c5" /><rect x="126.90" y="616.70" width="3.26" height="6.50" fill="#d0cdd3" /><rect x="129.81" y="616.70" width="3.26" height="6.50" fill="#d4a1a2" /><rect x="132.72" y="616.70" width="3.26" height="6.50" fill="#cacad4" /><rect x="135.62" y="616.70" width="3.26" height="6.50" fill="#d2b6ba" /><rect x="138.53" y="616.70" width="3.26" height="6.50" fill="#dc443c" /><rect x="141.43" y="616.70" width="3.26" height="6.50" fill="#d49b9b" /><rect x="144.34" y="616.70" width="3.26" height="6.50" fill="#d49b9c" /><rect x="147.25" y="616.70" width="3.26" height="6.50" fill="#d68684" /><rect x="150.15" y="616.70" width="3.26" height="6.50" fill="#dc4037" /><rect x="153.06" y="616.70" width="3.26" height="6.50" fill="#dd3025" /><rect x="155.96" y="616.70" width="3.26" height="6.50" fill="#d5908f" /><rect x="158.87" y="616.70" width="3.26" height="6.50" fill="#dc3b31" /><rect x="161.78" y="616.70" width="3.26" height="6.50" fill="#d8726e" /><rect x="164.68" y="616.70" width="3.26" height="6.50" fill="#d8726f" /><rect x="167.59" y="616.70" width="3.26" height="6.50" fill="#bcbed6" /><rect x="170.49" y="616.70" width="3.26" height="6.50" fill="#c2c3d5" /><rect x="173.40" y="616.70" width="3.26" height="6.50" fill="#94a0d9" /><rect x="176.31" y="616.70" width="3.26" height="6.50" fill="#afb4d7" /><rect x="179.21" y="616.70" width="3.26" height="6.50" fill="#a7afd8" /><rect x="182.12" y="616.70" width="3.26" height="6.50" fill="#d0ccd2" /><rect x="185.02" y="616.70" width="3.26" height="6.50" fill="#d49d9d" /><rect x="187.93" y="616.70" width="3.26" height="6.50" fill="#d68583" /><rect x="190.84" y="616.70" width="3.26" height="6.50" fill="#c2c3d5" /><rect x="193.74" y="616.70" width="3.26" height="6.50" fill="#97a2d9" /><rect x="196.65" y="616.70" width="3.26" height="6.50" fill="#c0c1d5" /><rect x="199.55" y="616.70" width="3.26" height="6.50" fill="#b1b6d7" /><rect x="202.46" y="616.70" width="3.26" height="6.50" fill="#d4a0a1" /><rect x="205.37" y="616.70" width="3.26" height="6.50" fill="#d0cbd0" /><rect x="208.27" y="616.70" width="3.26" height="6.50" fill="#b7bad6" /><rect x="211.18" y="616.70" width="3.26" height="6.50" fill="#d1c2c6" /><rect x="214.08" y="616.70" width="3.26" height="6.50" fill="#d0cbd1" /><rect x="216.99" y="616.70" width="3.26" height="6.50" fill="#9ba5d9" /><rect x="219.90" y="616.70" width="3.26" height="6.50" fill="#bcbfd6" /><rect x="222.80" y="616.70" width="3.26" height="6.50" fill="#c4c5d5" /><rect x="225.71" y="616.70" width="3.26" height="6.50" fill="#cac9d5" /><rect x="228.62" y="616.70" width="3.26" height="6.50" fill="#cccbd4" /><rect x="231.52" y="616.70" width="3.26" height="6.50" fill="#c1c3d5" /><rect x="234.43" y="616.70" width="3.26" height="6.50" fill="#acb2d7" /><rect x="237.33" y="616.70" width="3.26" height="6.50" fill="#8695da" /><rect x="240.24" y="616.70" width="3.26" height="6.50" fill="#526ddf" /><rect x="243.15" y="616.70" width="3.26" height="6.50" fill="#c3c4d5" /><rect x="246.05" y="616.70" width="3.26" height="6.50" fill="#929ed9" /><rect x="248.96" y="616.70" width="3.26" height="6.50" fill="#96a1d9" /><rect x="251.86" y="616.70" width="3.26" height="6.50" fill="#3a5ae1" /><rect x="254.77" y="616.70" width="3.26" height="6.50" fill="#788adc" /><rect x="257.68" y="616.70" width="3.26" height="6.50" fill="#a7aed8" /><rect x="260.58" y="616.70" width="3.26" height="6.50" fill="#3c5ce1" /><rect x="263.49" y="616.70" width="3.26" height="6.50" fill="#b3b7d7" /><rect x="266.39" y="616.70" width="3.26" height="6.50" fill="#6d81dd" /><rect x="77.50" y="622.90" width="3.26" height="6.50" fill="#d1c0c4" /><rect x="80.41" y="622.90" width="3.26" height="6.50" fill="#d0ccd1" /><rect x="83.31" y="622.90" width="3.26" height="6.50" fill="#d1c4c9" /><rect x="86.22" y="622.90" width="3.26" height="6.50" fill="#d3a9ab" /><rect x="89.12" y="622.90" width="3.26" height="6.50" fill="#cfcdd4" /><rect x="92.03" y="622.90" width="3.26" height="6.50" fill="#d49e9e" /><rect x="94.94" y="622.90" width="3.26" height="6.50" fill="#c8c8d5" /><rect x="97.84" y="622.90" width="3.26" height="6.50" fill="#c5c5d5" /><rect x="100.75" y="622.90" width="3.26" height="6.50" fill="#d2b7bb" /><rect x="103.65" y="622.90" width="3.26" height="6.50" fill="#c2c3d5" /><rect x="106.56" y="622.90" width="3.26" height="6.50" fill="#cfcdd4" /><rect x="109.47" y="622.90" width="3.26" height="6.50" fill="#d2b2b5" /><rect x="112.37" y="622.90" width="3.26" height="6.50" fill="#d3a9ab" /><rect x="115.28" y="622.90" width="3.26" height="6.50" fill="#afb5d7" /><rect x="118.18" y="622.90" width="3.26" height="6.50" fill="#d1bdc1" /><rect x="121.09" y="622.90" width="3.26" height="6.50" fill="#d59393" /><rect x="124.00" y="622.90" width="3.26" height="6.50" fill="#d3a9ab" /><rect x="126.90" y="622.90" width="3.26" height="6.50" fill="#d0cdd3" /><rect x="129.81" y="622.90" width="3.26" height="6.50" fill="#cccbd4" /><rect x="132.72" y="622.90" width="3.26" height="6.50" fill="#d0ced4" /><rect x="135.62" y="622.90" width="3.26" height="6.50" fill="#c0c1d5" /><rect x="138.53" y="622.90" width="3.26" height="6.50" fill="#d86e69" /><rect x="141.43" y="622.90" width="3.26" height="6.50" fill="#d86b66" /><rect x="144.34" y="622.90" width="3.26" height="6.50" fill="#d96964" /><rect x="147.25" y="622.90" width="3.26" height="6.50" fill="#dd352a" /><rect x="150.15" y="622.90" width="3.26" height="6.50" fill="#d86c68" /><rect x="153.06" y="622.90" width="3.26" height="6.50" fill="#d59898" /><rect x="155.96" y="622.90" width="3.26" height="6.50" fill="#dc3a30" /><rect x="158.87" y="622.90" width="3.26" height="6.50" fill="#d68b89" /><rect x="161.78" y="622.90" width="3.26" height="6.50" fill="#d87471" /><rect x="164.68" y="622.90" width="3.26" height="6.50" fill="#d96964" /><rect x="167.59" y="622.90" width="3.26" height="6.50" fill="#c1c3d5" /><rect x="170.49" y="622.90" width="3.26" height="6.50" fill="#afb4d7" /><rect x="173.40" y="622.90" width="3.26" height="6.50" fill="#c4c5d5" /><rect x="176.31" y="622.90" width="3.26" height="6.50" fill="#d49999" /><rect x="179.21" y="622.90" width="3.26" height="6.50" fill="#babdd6" /><rect x="182.12" y="622.90" width="3.26" height="6.50" fill="#c6c7d5" /><rect x="185.02" y="622.90" width="3.26" height="6.50" fill="#d1bcc0" /><rect x="187.93" y="622.90" width="3.26" height="6.50" fill="#d1c7cc" /><rect x="190.84" y="622.90" width="3.26" height="6.50" fill="#d1c6cb" /><rect x="193.74" y="622.90" width="3.26" height="6.50" fill="#d1c4c8" /><rect x="196.65" y="622.90" width="3.26" height="6.50" fill="#8f9cda" /><rect x="199.55" y="622.90" width="3.26" height="6.50" fill="#b3b7d7" /><rect x="202.46" y="622.90" width="3.26" height="6.50" fill="#cccbd4" /><rect x="205.37" y="622.90" width="3.26" height="6.50" fill="#d0ccd2" /><rect x="208.27" y="622.90" width="3.26" height="6.50" fill="#d2b7bb" /><rect x="211.18" y="622.90" width="3.26" height="6.50" fill="#d0ccd2" /><rect x="214.08" y="622.90" width="3.26" height="6.50" fill="#c4c5d5" /><rect x="216.99" y="622.90" width="3.26" height="6.50" fill="#cacad4" /><rect x="219.90" y="622.90" width="3.26" height="6.50" fill="#c5c5d5" /><rect x="222.80" y="622.90" width="3.26" height="6.50" fill="#cecdd4" /><rect x="225.71" y="622.90" width="3.26" height="6.50" fill="#d0c8ce" /><rect x="228.62" y="622.90" width="3.26" height="6.50" fill="#c1c3d5" /><rect x="231.52" y="622.90" width="3.26" height="6.50" fill="#b4b9d6" /><rect x="234.43" y="622.90" width="3.26" height="6.50" fill="#788adc" /><rect x="237.33" y="622.90" width="3.26" height="6.50" fill="#cecdd4" /><rect x="240.24" y="622.90" width="3.26" height="6.50" fill="#babdd6" /><rect x="243.15" y="622.90" width="3.26" height="6.50" fill="#aeb4d7" /><rect x="246.05" y="622.90" width="3.26" height="6.50" fill="#a9b0d7" /><rect x="248.96" y="622.90" width="3.26" height="6.50" fill="#a8afd7" /><rect x="251.86" y="622.90" width="3.26" height="6.50" fill="#8191db" /><rect x="254.77" y="622.90" width="3.26" height="6.50" fill="#a0a9d8" /><rect x="257.68" y="622.90" width="3.26" height="6.50" fill="#4a66e0" /><rect x="260.58" y="622.90" width="3.26" height="6.50" fill="#7789dc" /><rect x="263.49" y="622.90" width="3.26" height="6.50" fill="#5b73de" /><rect x="266.39" y="622.90" width="3.26" height="6.50" fill="#a3abd8" /><rect x="77.50" y="629.10" width="3.26" height="6.50" fill="#cccbd4" /><rect x="80.41" y="629.10" width="3.26" height="6.50" fill="#d0cbd1" /><rect x="83.31" y="629.10" width="3.26" height="6.50" fill="#d1c0c4" /><rect x="86.22" y="629.10" width="3.26" height="6.50" fill="#d4a4a6" /><rect x="89.12" y="629.10" width="3.26" height="6.50" fill="#c8c8d5" /><rect x="92.03" y="629.10" width="3.26" height="6.50" fill="#c5c5d5" /><rect x="94.94" y="629.10" width="3.26" height="6.50" fill="#d2b4b8" /><rect x="97.84" y="629.10" width="3.26" height="6.50" fill="#c1c2d5" /><rect x="100.75" y="629.10" width="3.26" height="6.50" fill="#d1bec3" /><rect x="103.65" y="629.10" width="3.26" height="6.50" fill="#cccbd4" /><rect x="106.56" y="629.10" width="3.26" height="6.50" fill="#d0cbd1" /><rect x="109.47" y="629.10" width="3.26" height="6.50" fill="#aeb4d7" /><rect x="112.37" y="629.10" width="3.26" height="6.50" fill="#d2b7bb" /><rect x="115.28" y="629.10" width="3.26" height="6.50" fill="#cdccd4" /><rect x="118.18" y="629.10" width="3.26" height="6.50" fill="#c5c6d5" /><rect x="121.09" y="629.10" width="3.26" height="6.50" fill="#d68c8b" /><rect x="124.00" y="629.10" width="3.26" height="6.50" fill="#d2b7bb" /><rect x="126.90" y="629.10" width="3.26" height="6.50" fill="#da5851" /><rect x="129.81" y="629.10" width="3.26" height="6.50" fill="#d1c0c4" /><rect x="132.72" y="629.10" width="3.26" height="6.50" fill="#d0ced4" /><rect x="135.62" y="629.10" width="3.26" height="6.50" fill="#d1c7cc" /><rect x="138.53" y="629.10" width="3.26" height="6.50" fill="#de281c" /><rect x="141.43" y="629.10" width="3.26" height="6.50" fill="#d9655f" /><rect x="144.34" y="629.10" width="3.26" height="6.50" fill="#da524b" /><rect x="147.25" y="629.10" width="3.26" height="6.50" fill="#db5048" /><rect x="150.15" y="629.10" width="3.26" height="6.50" fill="#d68583" /><rect x="153.06" y="629.10" width="3.26" height="6.50" fill="#d95f59" /><rect x="155.96" y="629.10" width="3.26" height="6.50" fill="#d77673" /><rect x="158.87" y="629.10" width="3.26" height="6.50" fill="#d59190" /><rect x="161.78" y="629.10" width="3.26" height="6.50" fill="#dc4238" /><rect x="164.68" y="629.10" width="3.26" height="6.50" fill="#db4a42" /><rect x="167.59" y="629.10" width="3.26" height="6.50" fill="#cbcad4" /><rect x="170.49" y="629.10" width="3.26" height="6.50" fill="#b1b6d7" /><rect x="173.40" y="629.10" width="3.26" height="6.50" fill="#8e9bda" /><rect x="176.31" y="629.10" width="3.26" height="6.50" fill="#d0ccd2" /><rect x="179.21" y="629.10" width="3.26" height="6.50" fill="#c7c7d5" /><rect x="182.12" y="629.10" width="3.26" height="6.50" fill="#99a3d9" /><rect x="185.02" y="629.10" width="3.26" height="6.50" fill="#c8c8d5" /><rect x="187.93" y="629.10" width="3.26" height="6.50" fill="#9ea7d8" /><rect x="190.84" y="629.10" width="3.26" height="6.50" fill="#c9c9d5" /><rect x="193.74" y="629.10" width="3.26" height="6.50" fill="#cdcbd4" /><rect x="196.65" y="629.10" width="3.26" height="6.50" fill="#d0ced4" /><rect x="199.55" y="629.10" width="3.26" height="6.50" fill="#ceccd4" /><rect x="202.46" y="629.10" width="3.26" height="6.50" fill="#cdccd4" /><rect x="205.37" y="629.10" width="3.26" height="6.50" fill="#aab1d7" /><rect x="208.27" y="629.10" width="3.26" height="6.50" fill="#c0c2d5" /><rect x="211.18" y="629.10" width="3.26" height="6.50" fill="#bdbfd6" /><rect x="214.08" y="629.10" width="3.26" height="6.50" fill="#c4c5d5" /><rect x="216.99" y="629.10" width="3.26" height="6.50" fill="#cfcdd4" /><rect x="219.90" y="629.10" width="3.26" height="6.50" fill="#d0c9cf" /><rect x="222.80" y="629.10" width="3.26" height="6.50" fill="#d3acaf" /><rect x="225.71" y="629.10" width="3.26" height="6.50" fill="#798bdc" /><rect x="228.62" y="629.10" width="3.26" height="6.50" fill="#d0ced4" /><rect x="231.52" y="629.10" width="3.26" height="6.50" fill="#c5c5d5" /><rect x="234.43" y="629.10" width="3.26" height="6.50" fill="#d4a2a3" /><rect x="237.33" y="629.10" width="3.26" height="6.50" fill="#c9c9d5" /><rect x="240.24" y="629.10" width="3.26" height="6.50" fill="#3a5ae1" /><rect x="243.15" y="629.10" width="3.26" height="6.50" fill="#94a0d9" /><rect x="246.05" y="629.10" width="3.26" height="6.50" fill="#667cdd" /><rect x="248.96" y="629.10" width="3.26" height="6.50" fill="#aeb4d7" /><rect x="251.86" y="629.10" width="3.26" height="6.50" fill="#4966e0" /><rect x="254.77" y="629.10" width="3.26" height="6.50" fill="#7c8ddb" /><rect x="257.68" y="629.10" width="3.26" height="6.50" fill="#7a8cdb" /><rect x="260.58" y="629.10" width="3.26" height="6.50" fill="#7c8ddb" /><rect x="263.49" y="629.10" width="3.26" height="6.50" fill="#637add" /><rect x="266.39" y="629.10" width="3.26" height="6.50" fill="#3a5ae1" /><rect x="77.50" y="635.30" width="3.26" height="6.50" fill="#d1bec3" /><rect x="80.41" y="635.30" width="3.26" height="6.50" fill="#d3afb2" /><rect x="83.31" y="635.30" width="3.26" height="6.50" fill="#d0cad0" /><rect x="86.22" y="635.30" width="3.26" height="6.50" fill="#c3c4d5" /><rect x="89.12" y="635.30" width="3.26" height="6.50" fill="#d1c5ca" /><rect x="92.03" y="635.30" width="3.26" height="6.50" fill="#d2bbbf" /><rect x="94.94" y="635.30" width="3.26" height="6.50" fill="#d0ccd2" /><rect x="97.84" y="635.30" width="3.26" height="6.50" fill="#d0c9cf" /><rect x="100.75" y="635.30" width="3.26" height="6.50" fill="#d4a3a4" /><rect x="103.65" y="635.30" width="3.26" height="6.50" fill="#c0c2d5" /><rect x="106.56" y="635.30" width="3.26" height="6.50" fill="#cccbd4" /><rect x="109.47" y="635.30" width="3.26" height="6.50" fill="#acb2d7" /><rect x="112.37" y="635.30" width="3.26" height="6.50" fill="#cac9d5" /><rect x="115.28" y="635.30" width="3.26" height="6.50" fill="#c9c8d5" /><rect x="118.18" y="635.30" width="3.26" height="6.50" fill="#c4c5d5" /><rect x="121.09" y="635.30" width="3.26" height="6.50" fill="#cac9d5" /><rect x="124.00" y="635.30" width="3.26" height="6.50" fill="#d59696" /><rect x="126.90" y="635.30" width="3.26" height="6.50" fill="#d0cdd3" /><rect x="129.81" y="635.30" width="3.26" height="6.50" fill="#d0cbd1" /><rect x="132.72" y="635.30" width="3.26" height="6.50" fill="#d68887" /><rect x="135.62" y="635.30" width="3.26" height="6.50" fill="#d0cad0" /><rect x="138.53" y="635.30" width="3.26" height="6.50" fill="#d4a1a2" /><rect x="141.43" y="635.30" width="3.26" height="6.50" fill="#da544d" /><rect x="144.34" y="635.30" width="3.26" height="6.50" fill="#d68684" /><rect x="147.25" y="635.30" width="3.26" height="6.50" fill="#de281c" /><rect x="150.15" y="635.30" width="3.26" height="6.50" fill="#d59190" /><rect x="153.06" y="635.30" width="3.26" height="6.50" fill="#d77976" /><rect x="155.96" y="635.30" width="3.26" height="6.50" fill="#d49d9d" /><rect x="158.87" y="635.30" width="3.26" height="6.50" fill="#d9605a" /><rect x="161.78" y="635.30" width="3.26" height="6.50" fill="#d68987" /><rect x="164.68" y="635.30" width="3.26" height="6.50" fill="#d96661" /><rect x="167.59" y="635.30" width="3.26" height="6.50" fill="#c0c2d5" /><rect x="170.49" y="635.30" width="3.26" height="6.50" fill="#babdd6" /><rect x="173.40" y="635.30" width="3.26" height="6.50" fill="#d1c1c6" /><rect x="176.31" y="635.30" width="3.26" height="6.50" fill="#d1c2c6" /><rect x="179.21" y="635.30" width="3.26" height="6.50" fill="#cbcad4" /><rect x="182.12" y="635.30" width="3.26" height="6.50" fill="#b2b7d7" /><rect x="185.02" y="635.30" width="3.26" height="6.50" fill="#adb3d7" /><rect x="187.93" y="635.30" width="3.26" height="6.50" fill="#cfcdd4" /><rect x="190.84" y="635.30" width="3.26" height="6.50" fill="#d59191" /><rect x="193.74" y="635.30" width="3.26" height="6.50" fill="#bec0d6" /><rect x="196.65" y="635.30" width="3.26" height="6.50" fill="#b5b9d6" /><rect x="199.55" y="635.30" width="3.26" height="6.50" fill="#b8bbd6" /><rect x="202.46" y="635.30" width="3.26" height="6.50" fill="#acb2d7" /><rect x="205.37" y="635.30" width="3.26" height="6.50" fill="#b0b5d7" /><rect x="208.27" y="635.30" width="3.26" height="6.50" fill="#c5c5d5" /><rect x="211.18" y="635.30" width="3.26" height="6.50" fill="#d2b3b6" /><rect x="214.08" y="635.30" width="3.26" height="6.50" fill="#cac9d5" /><rect x="216.99" y="635.30" width="3.26" height="6.50" fill="#bdbfd6" /><rect x="219.90" y="635.30" width="3.26" height="6.50" fill="#9ba5d9" /><rect x="222.80" y="635.30" width="3.26" height="6.50" fill="#ceccd4" /><rect x="225.71" y="635.30" width="3.26" height="6.50" fill="#c9c9d5" /><rect x="228.62" y="635.30" width="3.26" height="6.50" fill="#a8afd7" /><rect x="231.52" y="635.30" width="3.26" height="6.50" fill="#acb2d7" /><rect x="234.43" y="635.30" width="3.26" height="6.50" fill="#a1aad8" /><rect x="237.33" y="635.30" width="3.26" height="6.50" fill="#cccbd4" /><rect x="240.24" y="635.30" width="3.26" height="6.50" fill="#bec0d6" /><rect x="243.15" y="635.30" width="3.26" height="6.50" fill="#adb3d7" /><rect x="246.05" y="635.30" width="3.26" height="6.50" fill="#949fd9" /><rect x="248.96" y="635.30" width="3.26" height="6.50" fill="#b2b7d7" /><rect x="251.86" y="635.30" width="3.26" height="6.50" fill="#a3abd8" /><rect x="254.77" y="635.30" width="3.26" height="6.50" fill="#d3a7a9" /><rect x="257.68" y="635.30" width="3.26" height="6.50" fill="#697edd" /><rect x="260.58" y="635.30" width="3.26" height="6.50" fill="#919dd9" /><rect x="263.49" y="635.30" width="3.26" height="6.50" fill="#d0ccd2" /><rect x="266.39" y="635.30" width="3.26" height="6.50" fill="#96a1d9" /><rect x="77.50" y="641.50" width="3.26" height="6.50" fill="#d4a2a3" /><rect x="80.41" y="641.50" width="3.26" height="6.50" fill="#d0cad0" /><rect x="83.31" y="641.50" width="3.26" height="6.50" fill="#d1c6cb" /><rect x="86.22" y="641.50" width="3.26" height="6.50" fill="#cfcdd4" /><rect x="89.12" y="641.50" width="3.26" height="6.50" fill="#babdd6" /><rect x="92.03" y="641.50" width="3.26" height="6.50" fill="#c4c5d5" /><rect x="94.94" y="641.50" width="3.26" height="6.50" fill="#d68886" /><rect x="97.84" y="641.50" width="3.26" height="6.50" fill="#d2b9bd" /><rect x="100.75" y="641.50" width="3.26" height="6.50" fill="#d2babe" /><rect x="103.65" y="641.50" width="3.26" height="6.50" fill="#d2b1b3" /><rect x="106.56" y="641.50" width="3.26" height="6.50" fill="#d2bbbf" /><rect x="109.47" y="641.50" width="3.26" height="6.50" fill="#d3afb1" /><rect x="112.37" y="641.50" width="3.26" height="6.50" fill="#d0ced4" /><rect x="115.28" y="641.50" width="3.26" height="6.50" fill="#d0cdd3" /><rect x="118.18" y="641.50" width="3.26" height="6.50" fill="#d3b0b2" /><rect x="121.09" y="641.50" width="3.26" height="6.50" fill="#cfced4" /><rect x="124.00" y="641.50" width="3.26" height="6.50" fill="#bbbed6" /><rect x="126.90" y="641.50" width="3.26" height="6.50" fill="#d0cdd3" /><rect x="129.81" y="641.50" width="3.26" height="6.50" fill="#cdcbd4" /><rect x="132.72" y="641.50" width="3.26" height="6.50" fill="#d2babe" /><rect x="135.62" y="641.50" width="3.26" height="6.50" fill="#c9c9d5" /><rect x="138.53" y="641.50" width="3.26" height="6.50" fill="#d68a89" /><rect x="141.43" y="641.50" width="3.26" height="6.50" fill="#d8706c" /><rect x="144.34" y="641.50" width="3.26" height="6.50" fill="#de281c" /><rect x="147.25" y="641.50" width="3.26" height="6.50" fill="#d96660" /><rect x="150.15" y="641.50" width="3.26" height="6.50" fill="#d95e57" /><rect x="153.06" y="641.50" width="3.26" height="6.50" fill="#d9635e" /><rect x="155.96" y="641.50" width="3.26" height="6.50" fill="#da5852" /><rect x="158.87" y="641.50" width="3.26" height="6.50" fill="#dc3f36" /><rect x="161.78" y="641.50" width="3.26" height="6.50" fill="#de2c21" /><rect x="164.68" y="641.50" width="3.26" height="6.50" fill="#d49e9f" /><rect x="167.59" y="641.50" width="3.26" height="6.50" fill="#d2b5b8" /><rect x="170.49" y="641.50" width="3.26" height="6.50" fill="#cac9d5" /><rect x="173.40" y="641.50" width="3.26" height="6.50" fill="#c2c3d5" /><rect x="176.31" y="641.50" width="3.26" height="6.50" fill="#d59191" /><rect x="179.21" y="641.50" width="3.26" height="6.50" fill="#c6c6d5" /><rect x="182.12" y="641.50" width="3.26" height="6.50" fill="#d4a2a3" /><rect x="185.02" y="641.50" width="3.26" height="6.50" fill="#d1c1c5" /><rect x="187.93" y="641.50" width="3.26" height="6.50" fill="#aeb4d7" /><rect x="190.84" y="641.50" width="3.26" height="6.50" fill="#d0ccd2" /><rect x="193.74" y="641.50" width="3.26" height="6.50" fill="#d1c7cc" /><rect x="196.65" y="641.50" width="3.26" height="6.50" fill="#c7c7d5" /><rect x="199.55" y="641.50" width="3.26" height="6.50" fill="#8292db" /><rect x="202.46" y="641.50" width="3.26" height="6.50" fill="#c1c3d5" /><rect x="205.37" y="641.50" width="3.26" height="6.50" fill="#c5c6d5" /><rect x="208.27" y="641.50" width="3.26" height="6.50" fill="#abb2d7" /><rect x="211.18" y="641.50" width="3.26" height="6.50" fill="#d3a6a7" /><rect x="214.08" y="641.50" width="3.26" height="6.50" fill="#c4c5d5" /><rect x="216.99" y="641.50" width="3.26" height="6.50" fill="#c0c2d5" /><rect x="219.90" y="641.50" width="3.26" height="6.50" fill="#c2c4d5" /><rect x="222.80" y="641.50" width="3.26" height="6.50" fill="#b5b9d6" /><rect x="225.71" y="641.50" width="3.26" height="6.50" fill="#b5b9d6" /><rect x="228.62" y="641.50" width="3.26" height="6.50" fill="#cccbd4" /><rect x="231.52" y="641.50" width="3.26" height="6.50" fill="#cfced4" /><rect x="234.43" y="641.50" width="3.26" height="6.50" fill="#8a98da" /><rect x="237.33" y="641.50" width="3.26" height="6.50" fill="#9fa8d8" /><rect x="240.24" y="641.50" width="3.26" height="6.50" fill="#5a73de" /><rect x="243.15" y="641.50" width="3.26" height="6.50" fill="#babdd6" /><rect x="246.05" y="641.50" width="3.26" height="6.50" fill="#7e8edb" /><rect x="248.96" y="641.50" width="3.26" height="6.50" fill="#adb3d7" /><rect x="251.86" y="641.50" width="3.26" height="6.50" fill="#7588dc" /><rect x="254.77" y="641.50" width="3.26" height="6.50" fill="#8a98da" /><rect x="257.68" y="641.50" width="3.26" height="6.50" fill="#adb3d7" /><rect x="260.58" y="641.50" width="3.26" height="6.50" fill="#647bdd" /><rect x="263.49" y="641.50" width="3.26" height="6.50" fill="#d59798" /><rect x="266.39" y="641.50" width="3.26" height="6.50" fill="#a2aad8" /><rect x="77.50" y="647.70" width="3.26" height="6.50" fill="#da5d57" /><rect x="80.41" y="647.70" width="3.26" height="6.50" fill="#d77875" /><rect x="83.31" y="647.70" width="3.26" height="6.50" fill="#da5a53" /><rect x="86.22" y="647.70" width="3.26" height="6.50" fill="#d9635d" /><rect x="89.12" y="647.70" width="3.26" height="6.50" fill="#d2babe" /><rect x="92.03" y="647.70" width="3.26" height="6.50" fill="#bec0d6" /><rect x="94.94" y="647.70" width="3.26" height="6.50" fill="#d0ced3" /><rect x="97.84" y="647.70" width="3.26" height="6.50" fill="#d3b0b3" /><rect x="100.75" y="647.70" width="3.26" height="6.50" fill="#d0ced4" /><rect x="103.65" y="647.70" width="3.26" height="6.50" fill="#c3c4d5" /><rect x="106.56" y="647.70" width="3.26" height="6.50" fill="#c3c4d5" /><rect x="109.47" y="647.70" width="3.26" height="6.50" fill="#cccbd4" /><rect x="112.37" y="647.70" width="3.26" height="6.50" fill="#d1c2c7" /><rect x="115.28" y="647.70" width="3.26" height="6.50" fill="#cfcdd4" /><rect x="118.18" y="647.70" width="3.26" height="6.50" fill="#d1c2c6" /><rect x="121.09" y="647.70" width="3.26" height="6.50" fill="#da5d57" /><rect x="124.00" y="647.70" width="3.26" height="6.50" fill="#d68685" /><rect x="126.90" y="647.70" width="3.26" height="6.50" fill="#c7c7d5" /><rect x="129.81" y="647.70" width="3.26" height="6.50" fill="#d2b8bc" /><rect x="132.72" y="647.70" width="3.26" height="6.50" fill="#d1c0c4" /><rect x="135.62" y="647.70" width="3.26" height="6.50" fill="#d1c6cb" /><rect x="138.53" y="647.70" width="3.26" height="6.50" fill="#d86b66" /><rect x="141.43" y="647.70" width="3.26" height="6.50" fill="#d2b1b3" /><rect x="144.34" y="647.70" width="3.26" height="6.50" fill="#d3b0b3" /><rect x="147.25" y="647.70" width="3.26" height="6.50" fill="#d2b2b5" /><rect x="150.15" y="647.70" width="3.26" height="6.50" fill="#d3a6a8" /><rect x="153.06" y="647.70" width="3.26" height="6.50" fill="#da5d57" /><rect x="155.96" y="647.70" width="3.26" height="6.50" fill="#d77976" /><rect x="158.87" y="647.70" width="3.26" height="6.50" fill="#cccbd4" /><rect x="161.78" y="647.70" width="3.26" height="6.50" fill="#d2b5b9" /><rect x="164.68" y="647.70" width="3.26" height="6.50" fill="#d1c3c8" /><rect x="167.59" y="647.70" width="3.26" height="6.50" fill="#d1c5ca" /><rect x="170.49" y="647.70" width="3.26" height="6.50" fill="#cecdd4" /><rect x="173.40" y="647.70" width="3.26" height="6.50" fill="#d1c3c8" /><rect x="176.31" y="647.70" width="3.26" height="6.50" fill="#c8c8d5" /><rect x="179.21" y="647.70" width="3.26" height="6.50" fill="#919dd9" /><rect x="182.12" y="647.70" width="3.26" height="6.50" fill="#d0cdd3" /><rect x="185.02" y="647.70" width="3.26" height="6.50" fill="#cecdd4" /><rect x="187.93" y="647.70" width="3.26" height="6.50" fill="#d0ccd2" /><rect x="190.84" y="647.70" width="3.26" height="6.50" fill="#a5add8" /><rect x="193.74" y="647.70" width="3.26" height="6.50" fill="#cbcad4" /><rect x="196.65" y="647.70" width="3.26" height="6.50" fill="#b8bbd6" /><rect x="199.55" y="647.70" width="3.26" height="6.50" fill="#b8bbd6" /><rect x="202.46" y="647.70" width="3.26" height="6.50" fill="#d0ced4" /><rect x="205.37" y="647.70" width="3.26" height="6.50" fill="#d0ced4" /><rect x="208.27" y="647.70" width="3.26" height="6.50" fill="#b2b7d7" /><rect x="211.18" y="647.70" width="3.26" height="6.50" fill="#98a2d9" /><rect x="214.08" y="647.70" width="3.26" height="6.50" fill="#7d8edb" /><rect x="216.99" y="647.70" width="3.26" height="6.50" fill="#bbbed6" /><rect x="219.90" y="647.70" width="3.26" height="6.50" fill="#d1bcc0" /><rect x="222.80" y="647.70" width="3.26" height="6.50" fill="#c8c8d5" /><rect x="225.71" y="647.70" width="3.26" height="6.50" fill="#8594db" /><rect x="228.62" y="647.70" width="3.26" height="6.50" fill="#b3b7d7" /><rect x="231.52" y="647.70" width="3.26" height="6.50" fill="#d0cdd3" /><rect x="234.43" y="647.70" width="3.26" height="6.50" fill="#d1bec2" /><rect x="237.33" y="647.70" width="3.26" height="6.50" fill="#d0ced4" /><rect x="240.24" y="647.70" width="3.26" height="6.50" fill="#b4b8d6" /><rect x="243.15" y="647.70" width="3.26" height="6.50" fill="#acb2d7" /><rect x="246.05" y="647.70" width="3.26" height="6.50" fill="#6d81dd" /><rect x="248.96" y="647.70" width="3.26" height="6.50" fill="#8d9ada" /><rect x="251.86" y="647.70" width="3.26" height="6.50" fill="#939fd9" /><rect x="254.77" y="647.70" width="3.26" height="6.50" fill="#7c8ddb" /><rect x="257.68" y="647.70" width="3.26" height="6.50" fill="#a6aed8" /><rect x="260.58" y="647.70" width="3.26" height="6.50" fill="#909dda" /><rect x="263.49" y="647.70" width="3.26" height="6.50" fill="#b3b7d7" /><rect x="266.39" y="647.70" width="3.26" height="6.50" fill="#d1c7cc" /><rect x="77.50" y="653.90" width="3.26" height="6.50" fill="#dc3a30" /><rect x="80.41" y="653.90" width="3.26" height="6.50" fill="#db4840" /><rect x="83.31" y="653.90" width="3.26" height="6.50" fill="#d4a2a3" /><rect x="86.22" y="653.90" width="3.26" height="6.50" fill="#d0c8ce" /><rect x="89.12" y="653.90" width="3.26" height="6.50" fill="#d1c5ca" /><rect x="92.03" y="653.90" width="3.26" height="6.50" fill="#d2b2b5" /><rect x="94.94" y="653.90" width="3.26" height="6.50" fill="#c7c7d5" /><rect x="97.84" y="653.90" width="3.26" height="6.50" fill="#d49a9a" /><rect x="100.75" y="653.90" width="3.26" height="6.50" fill="#d0cad0" /><rect x="103.65" y="653.90" width="3.26" height="6.50" fill="#d2b8bb" /><rect x="106.56" y="653.90" width="3.26" height="6.50" fill="#d0cad0" /><rect x="109.47" y="653.90" width="3.26" height="6.50" fill="#c1c3d5" /><rect x="112.37" y="653.90" width="3.26" height="6.50" fill="#d77b78" /><rect x="115.28" y="653.90" width="3.26" height="6.50" fill="#c4c4d5" /><rect x="118.18" y="653.90" width="3.26" height="6.50" fill="#d3a6a7" /><rect x="121.09" y="653.90" width="3.26" height="6.50" fill="#d0ced4" /><rect x="124.00" y="653.90" width="3.26" height="6.50" fill="#d2babe" /><rect x="126.90" y="653.90" width="3.26" height="6.50" fill="#cccbd4" /><rect x="129.81" y="653.90" width="3.26" height="6.50" fill="#d0ccd2" /><rect x="132.72" y="653.90" width="3.26" height="6.50" fill="#d3a6a7" /><rect x="135.62" y="653.90" width="3.26" height="6.50" fill="#d7807d" /><rect x="138.53" y="653.90" width="3.26" height="6.50" fill="#d1c5ca" /><rect x="141.43" y="653.90" width="3.26" height="6.50" fill="#d4a1a2" /><rect x="144.34" y="653.90" width="3.26" height="6.50" fill="#d8706c" /><rect x="147.25" y="653.90" width="3.26" height="6.50" fill="#d1bdc1" /><rect x="150.15" y="653.90" width="3.26" height="6.50" fill="#d77d7a" /><rect x="153.06" y="653.90" width="3.26" height="6.50" fill="#d1c3c8" /><rect x="155.96" y="653.90" width="3.26" height="6.50" fill="#d68381" /><rect x="158.87" y="653.90" width="3.26" height="6.50" fill="#d68c8a" /><rect x="161.78" y="653.90" width="3.26" height="6.50" fill="#d9615b" /><rect x="164.68" y="653.90" width="3.26" height="6.50" fill="#d58f8e" /><rect x="167.59" y="653.90" width="3.26" height="6.50" fill="#a9b0d7" /><rect x="170.49" y="653.90" width="3.26" height="6.50" fill="#d0c8ce" /><rect x="173.40" y="653.90" width="3.26" height="6.50" fill="#acb2d7" /><rect x="176.31" y="653.90" width="3.26" height="6.50" fill="#d1c6cc" /><rect x="179.21" y="653.90" width="3.26" height="6.50" fill="#d3b0b3" /><rect x="182.12" y="653.90" width="3.26" height="6.50" fill="#d0cad0" /><rect x="185.02" y="653.90" width="3.26" height="6.50" fill="#bcbed6" /><rect x="187.93" y="653.90" width="3.26" height="6.50" fill="#d2babe" /><rect x="190.84" y="653.90" width="3.26" height="6.50" fill="#cdccd4" /><rect x="193.74" y="653.90" width="3.26" height="6.50" fill="#a7aed8" /><rect x="196.65" y="653.90" width="3.26" height="6.50" fill="#c1c2d5" /><rect x="199.55" y="653.90" width="3.26" height="6.50" fill="#d2b3b6" /><rect x="202.46" y="653.90" width="3.26" height="6.50" fill="#c2c3d5" /><rect x="205.37" y="653.90" width="3.26" height="6.50" fill="#cccbd4" /><rect x="208.27" y="653.90" width="3.26" height="6.50" fill="#c1c3d5" /><rect x="211.18" y="653.90" width="3.26" height="6.50" fill="#99a3d9" /><rect x="214.08" y="653.90" width="3.26" height="6.50" fill="#bdbfd6" /><rect x="216.99" y="653.90" width="3.26" height="6.50" fill="#d0ced4" /><rect x="219.90" y="653.90" width="3.26" height="6.50" fill="#ceccd4" /><rect x="222.80" y="653.90" width="3.26" height="6.50" fill="#c6c6d5" /><rect x="225.71" y="653.90" width="3.26" height="6.50" fill="#8997da" /><rect x="228.62" y="653.90" width="3.26" height="6.50" fill="#d2b9bd" /><rect x="231.52" y="653.90" width="3.26" height="6.50" fill="#d1c7cc" /><rect x="234.43" y="653.90" width="3.26" height="6.50" fill="#cccbd4" /><rect x="237.33" y="653.90" width="3.26" height="6.50" fill="#d0cbd1" /><rect x="240.24" y="653.90" width="3.26" height="6.50" fill="#8d9ada" /><rect x="243.15" y="653.90" width="3.26" height="6.50" fill="#8594da" /><rect x="246.05" y="653.90" width="3.26" height="6.50" fill="#b2b6d7" /><rect x="248.96" y="653.90" width="3.26" height="6.50" fill="#d1bec2" /><rect x="251.86" y="653.90" width="3.26" height="6.50" fill="#4966e0" /><rect x="254.77" y="653.90" width="3.26" height="6.50" fill="#98a3d9" /><rect x="257.68" y="653.90" width="3.26" height="6.50" fill="#7f90db" /><rect x="260.58" y="653.90" width="3.26" height="6.50" fill="#bcbed6" /><rect x="263.49" y="653.90" width="3.26" height="6.50" fill="#d1c6cb" /><rect x="266.39" y="653.90" width="3.26" height="6.50" fill="#95a0d9" /><rect x="77.50" y="660.10" width="3.26" height="6.50" fill="#d68c8b" /><rect x="80.41" y="660.10" width="3.26" height="6.50" fill="#da5851" /><rect x="83.31" y="660.10" width="3.26" height="6.50" fill="#d4a3a5" /><rect x="86.22" y="660.10" width="3.26" height="6.50" fill="#d0c9ce" /><rect x="89.12" y="660.10" width="3.26" height="6.50" fill="#d3a7a9" /><rect x="92.03" y="660.10" width="3.26" height="6.50" fill="#d0ced4" /><rect x="94.94" y="660.10" width="3.26" height="6.50" fill="#d3aeb0" /><rect x="97.84" y="660.10" width="3.26" height="6.50" fill="#c0c1d5" /><rect x="100.75" y="660.10" width="3.26" height="6.50" fill="#d4a0a0" /><rect x="103.65" y="660.10" width="3.26" height="6.50" fill="#bcbfd6" /><rect x="106.56" y="660.10" width="3.26" height="6.50" fill="#d4a1a2" /><rect x="109.47" y="660.10" width="3.26" height="6.50" fill="#b2b7d7" /><rect x="112.37" y="660.10" width="3.26" height="6.50" fill="#d59595" /><rect x="115.28" y="660.10" width="3.26" height="6.50" fill="#d0cbd1" /><rect x="118.18" y="660.10" width="3.26" height="6.50" fill="#b9bcd6" /><rect x="121.09" y="660.10" width="3.26" height="6.50" fill="#d0c8ce" /><rect x="124.00" y="660.10" width="3.26" height="6.50" fill="#d2b9bc" /><rect x="126.90" y="660.10" width="3.26" height="6.50" fill="#c8c8d5" /><rect x="129.81" y="660.10" width="3.26" height="6.50" fill="#d0cdd3" /><rect x="132.72" y="660.10" width="3.26" height="6.50" fill="#d2bbbf" /><rect x="135.62" y="660.10" width="3.26" height="6.50" fill="#d1c7cc" /><rect x="138.53" y="660.10" width="3.26" height="6.50" fill="#8695da" /><rect x="141.43" y="660.10" width="3.26" height="6.50" fill="#d2b5b8" /><rect x="144.34" y="660.10" width="3.26" height="6.50" fill="#d68c8b" /><rect x="147.25" y="660.10" width="3.26" height="6.50" fill="#d59392" /><rect x="150.15" y="660.10" width="3.26" height="6.50" fill="#d86d68" /><rect x="153.06" y="660.10" width="3.26" height="6.50" fill="#d1bfc4" /><rect x="155.96" y="660.10" width="3.26" height="6.50" fill="#de281c" /><rect x="158.87" y="660.10" width="3.26" height="6.50" fill="#d77875" /><rect x="161.78" y="660.10" width="3.26" height="6.50" fill="#d59291" /><rect x="164.68" y="660.10" width="3.26" height="6.50" fill="#d96863" /><rect x="167.59" y="660.10" width="3.26" height="6.50" fill="#d1c1c6" /><rect x="170.49" y="660.10" width="3.26" height="6.50" fill="#cccbd4" /><rect x="173.40" y="660.10" width="3.26" height="6.50" fill="#babdd6" /><rect x="176.31" y="660.10" width="3.26" height="6.50" fill="#d1bfc3" /><rect x="179.21" y="660.10" width="3.26" height="6.50" fill="#d0cdd3" /><rect x="182.12" y="660.10" width="3.26" height="6.50" fill="#929ed9" /><rect x="185.02" y="660.10" width="3.26" height="6.50" fill="#abb2d7" /><rect x="187.93" y="660.10" width="3.26" height="6.50" fill="#d0cdd2" /><rect x="190.84" y="660.10" width="3.26" height="6.50" fill="#cccbd4" /><rect x="193.74" y="660.10" width="3.26" height="6.50" fill="#cfcdd4" /><rect x="196.65" y="660.10" width="3.26" height="6.50" fill="#d0c9ce" /><rect x="199.55" y="660.10" width="3.26" height="6.50" fill="#cdcbd4" /><rect x="202.46" y="660.10" width="3.26" height="6.50" fill="#d3aeb0" /><rect x="205.37" y="660.10" width="3.26" height="6.50" fill="#bbbed6" /><rect x="208.27" y="660.10" width="3.26" height="6.50" fill="#c0c2d5" /><rect x="211.18" y="660.10" width="3.26" height="6.50" fill="#d0ced4" /><rect x="214.08" y="660.10" width="3.26" height="6.50" fill="#d1c6cc" /><rect x="216.99" y="660.10" width="3.26" height="6.50" fill="#d1c5cb" /><rect x="219.90" y="660.10" width="3.26" height="6.50" fill="#d2b1b4" /><rect x="222.80" y="660.10" width="3.26" height="6.50" fill="#bec0d6" /><rect x="225.71" y="660.10" width="3.26" height="6.50" fill="#d2bbbf" /><rect x="228.62" y="660.10" width="3.26" height="6.50" fill="#d0cdd2" /><rect x="231.52" y="660.10" width="3.26" height="6.50" fill="#adb3d7" /><rect x="234.43" y="660.10" width="3.26" height="6.50" fill="#9da6d8" /><rect x="237.33" y="660.10" width="3.26" height="6.50" fill="#d3abad" /><rect x="240.24" y="660.10" width="3.26" height="6.50" fill="#c4c5d5" /><rect x="243.15" y="660.10" width="3.26" height="6.50" fill="#8c9ada" /><rect x="246.05" y="660.10" width="3.26" height="6.50" fill="#3a5ae1" /><rect x="248.96" y="660.10" width="3.26" height="6.50" fill="#7e8fdb" /><rect x="251.86" y="660.10" width="3.26" height="6.50" fill="#8090db" /><rect x="254.77" y="660.10" width="3.26" height="6.50" fill="#a7aed8" /><rect x="257.68" y="660.10" width="3.26" height="6.50" fill="#d4a0a1" /><rect x="260.58" y="660.10" width="3.26" height="6.50" fill="#c3c4d5" /><rect x="263.49" y="660.10" width="3.26" height="6.50" fill="#b1b6d7" /><rect x="266.39" y="660.10" width="3.26" height="6.50" fill="#7486dc" /><rect x="77.50" y="666.30" width="3.26" height="6.50" fill="#d68a89" /><rect x="80.41" y="666.30" width="3.26" height="6.50" fill="#d9635d" /><rect x="83.31" y="666.30" width="3.26" height="6.50" fill="#d3aaac" /><rect x="86.22" y="666.30" width="3.26" height="6.50" fill="#de281c" /><rect x="89.12" y="666.30" width="3.26" height="6.50" fill="#d0ccd2" /><rect x="92.03" y="666.30" width="3.26" height="6.50" fill="#cfcdd4" /><rect x="94.94" y="666.30" width="3.26" height="6.50" fill="#d49e9f" /><rect x="97.84" y="666.30" width="3.26" height="6.50" fill="#d1c0c5" /><rect x="100.75" y="666.30" width="3.26" height="6.50" fill="#c2c3d5" /><rect x="103.65" y="666.30" width="3.26" height="6.50" fill="#d59999" /><rect x="106.56" y="666.30" width="3.26" height="6.50" fill="#d0cad0" /><rect x="109.47" y="666.30" width="3.26" height="6.50" fill="#bfc1d5" /><rect x="112.37" y="666.30" width="3.26" height="6.50" fill="#d2b9bd" /><rect x="115.28" y="666.30" width="3.26" height="6.50" fill="#d2b4b7" /><rect x="118.18" y="666.30" width="3.26" height="6.50" fill="#d0cad0" /><rect x="121.09" y="666.30" width="3.26" height="6.50" fill="#d3adb0" /><rect x="124.00" y="666.30" width="3.26" height="6.50" fill="#d3a9ab" /><rect x="126.90" y="666.30" width="3.26" height="6.50" fill="#cacad5" /><rect x="129.81" y="666.30" width="3.26" height="6.50" fill="#aab1d7" /><rect x="132.72" y="666.30" width="3.26" height="6.50" fill="#9fa8d8" /><rect x="135.62" y="666.30" width="3.26" height="6.50" fill="#d1c6cb" /><rect x="138.53" y="666.30" width="3.26" height="6.50" fill="#d9605a" /><rect x="141.43" y="666.30" width="3.26" height="6.50" fill="#d86d68" /><rect x="144.34" y="666.30" width="3.26" height="6.50" fill="#da5750" /><rect x="147.25" y="666.30" width="3.26" height="6.50" fill="#dc3b31" /><rect x="150.15" y="666.30" width="3.26" height="6.50" fill="#d4a1a2" /><rect x="153.06" y="666.30" width="3.26" height="6.50" fill="#d86a65" /><rect x="155.96" y="666.30" width="3.26" height="6.50" fill="#c7c7d5" /><rect x="158.87" y="666.30" width="3.26" height="6.50" fill="#d77e7c" /><rect x="161.78" y="666.30" width="3.26" height="6.50" fill="#d58e8d" /><rect x="164.68" y="666.30" width="3.26" height="6.50" fill="#d3a6a7" /><rect x="167.59" y="666.30" width="3.26" height="6.50" fill="#bfc1d5" /><rect x="170.49" y="666.30" width="3.26" height="6.50" fill="#abb1d7" /><rect x="173.40" y="666.30" width="3.26" height="6.50" fill="#cdcbd4" /><rect x="176.31" y="666.30" width="3.26" height="6.50" fill="#d2b8bb" /><rect x="179.21" y="666.30" width="3.26" height="6.50" fill="#c1c2d5" /><rect x="182.12" y="666.30" width="3.26" height="6.50" fill="#d0cbd1" /><rect x="185.02" y="666.30" width="3.26" height="6.50" fill="#b9bcd6" /><rect x="187.93" y="666.30" width="3.26" height="6.50" fill="#cfcdd4" /><rect x="190.84" y="666.30" width="3.26" height="6.50" fill="#aeb4d7" /><rect x="193.74" y="666.30" width="3.26" height="6.50" fill="#d0ced4" /><rect x="196.65" y="666.30" width="3.26" height="6.50" fill="#c5c5d5" /><rect x="199.55" y="666.30" width="3.26" height="6.50" fill="#cfced4" /><rect x="202.46" y="666.30" width="3.26" height="6.50" fill="#babdd6" /><rect x="205.37" y="666.30" width="3.26" height="6.50" fill="#a9b0d7" /><rect x="208.27" y="666.30" width="3.26" height="6.50" fill="#c2c3d5" /><rect x="211.18" y="666.30" width="3.26" height="6.50" fill="#d1bfc3" /><rect x="214.08" y="666.30" width="3.26" height="6.50" fill="#d3aeb1" /><rect x="216.99" y="666.30" width="3.26" height="6.50" fill="#c2c3d5" /><rect x="219.90" y="666.30" width="3.26" height="6.50" fill="#d1c5ca" /><rect x="222.80" y="666.30" width="3.26" height="6.50" fill="#d1c6cb" /><rect x="225.71" y="666.30" width="3.26" height="6.50" fill="#d0ced4" /><rect x="228.62" y="666.30" width="3.26" height="6.50" fill="#9da7d8" /><rect x="231.52" y="666.30" width="3.26" height="6.50" fill="#d0ced4" /><rect x="234.43" y="666.30" width="3.26" height="6.50" fill="#7285dc" /><rect x="237.33" y="666.30" width="3.26" height="6.50" fill="#d0ced4" /><rect x="240.24" y="666.30" width="3.26" height="6.50" fill="#c5c5d5" /><rect x="243.15" y="666.30" width="3.26" height="6.50" fill="#bec0d6" /><rect x="246.05" y="666.30" width="3.26" height="6.50" fill="#3a5ae1" /><rect x="248.96" y="666.30" width="3.26" height="6.50" fill="#bec0d6" /><rect x="251.86" y="666.30" width="3.26" height="6.50" fill="#c1c3d5" /><rect x="254.77" y="666.30" width="3.26" height="6.50" fill="#6078de" /><rect x="257.68" y="666.30" width="3.26" height="6.50" fill="#cbcad4" /><rect x="260.58" y="666.30" width="3.26" height="6.50" fill="#a7aed8" /><rect x="263.49" y="666.30" width="3.26" height="6.50" fill="#9aa5d9" /><rect x="266.39" y="666.30" width="3.26" height="6.50" fill="#7f90db" /><rect x="77.50" y="672.50" width="3.26" height="6.50" fill="#d68482" /><rect x="80.41" y="672.50" width="3.26" height="6.50" fill="#d86c68" /><rect x="83.31" y="672.50" width="3.26" height="6.50" fill="#de281c" /><rect x="86.22" y="672.50" width="3.26" height="6.50" fill="#d59291" /><rect x="89.12" y="672.50" width="3.26" height="6.50" fill="#d1bcc1" /><rect x="92.03" y="672.50" width="3.26" height="6.50" fill="#cfcdd4" /><rect x="94.94" y="672.50" width="3.26" height="6.50" fill="#cfcdd4" /><rect x="97.84" y="672.50" width="3.26" height="6.50" fill="#d0ced4" /><rect x="100.75" y="672.50" width="3.26" height="6.50" fill="#cac9d5" /><rect x="103.65" y="672.50" width="3.26" height="6.50" fill="#d3a7a9" /><rect x="106.56" y="672.50" width="3.26" height="6.50" fill="#d0c9ce" /><rect x="109.47" y="672.50" width="3.26" height="6.50" fill="#d3a8a9" /><rect x="112.37" y="672.50" width="3.26" height="6.50" fill="#c4c5d5" /><rect x="115.28" y="672.50" width="3.26" height="6.50" fill="#d3a5a7" /><rect x="118.18" y="672.50" width="3.26" height="6.50" fill="#d1c3c8" /><rect x="121.09" y="672.50" width="3.26" height="6.50" fill="#d3aeb1" /><rect x="124.00" y="672.50" width="3.26" height="6.50" fill="#d1c5ca" /><rect x="126.90" y="672.50" width="3.26" height="6.50" fill="#cac9d5" /><rect x="129.81" y="672.50" width="3.26" height="6.50" fill="#d49b9c" /><rect x="132.72" y="672.50" width="3.26" height="6.50" fill="#d0ccd2" /><rect x="135.62" y="672.50" width="3.26" height="6.50" fill="#d1c6cb" /><rect x="138.53" y="672.50" width="3.26" height="6.50" fill="#d1c6cc" /><rect x="141.43" y="672.50" width="3.26" height="6.50" fill="#d59797" /><rect x="144.34" y="672.50" width="3.26" height="6.50" fill="#d2b3b6" /><rect x="147.25" y="672.50" width="3.26" height="6.50" fill="#d59393" /><rect x="150.15" y="672.50" width="3.26" height="6.50" fill="#d59090" /><rect x="153.06" y="672.50" width="3.26" height="6.50" fill="#d1bfc4" /><rect x="155.96" y="672.50" width="3.26" height="6.50" fill="#cacad4" /><rect x="158.87" y="672.50" width="3.26" height="6.50" fill="#d68c8b" /><rect x="161.78" y="672.50" width="3.26" height="6.50" fill="#d8726e" /><rect x="164.68" y="672.50" width="3.26" height="6.50" fill="#d77e7b" /><rect x="167.59" y="672.50" width="3.26" height="6.50" fill="#aab1d7" /><rect x="170.49" y="672.50" width="3.26" height="6.50" fill="#d0cacf" /><rect x="173.40" y="672.50" width="3.26" height="6.50" fill="#d0ced4" /><rect x="176.31" y="672.50" width="3.26" height="6.50" fill="#cfcdd4" /><rect x="179.21" y="672.50" width="3.26" height="6.50" fill="#d0cdd3" /><rect x="182.12" y="672.50" width="3.26" height="6.50" fill="#c2c3d5" /><rect x="185.02" y="672.50" width="3.26" height="6.50" fill="#ceccd4" /><rect x="187.93" y="672.50" width="3.26" height="6.50" fill="#d1c2c6" /><rect x="190.84" y="672.50" width="3.26" height="6.50" fill="#bdbfd6" /><rect x="193.74" y="672.50" width="3.26" height="6.50" fill="#a1a9d8" /><rect x="196.65" y="672.50" width="3.26" height="6.50" fill="#c7c7d5" /><rect x="199.55" y="672.50" width="3.26" height="6.50" fill="#ceccd4" /><rect x="202.46" y="672.50" width="3.26" height="6.50" fill="#939fd9" /><rect x="205.37" y="672.50" width="3.26" height="6.50" fill="#b8bcd6" /><rect x="208.27" y="672.50" width="3.26" height="6.50" fill="#d0cad0" /><rect x="211.18" y="672.50" width="3.26" height="6.50" fill="#c6c6d5" /><rect x="214.08" y="672.50" width="3.26" height="6.50" fill="#cccbd4" /><rect x="216.99" y="672.50" width="3.26" height="6.50" fill="#a7aed8" /><rect x="219.90" y="672.50" width="3.26" height="6.50" fill="#d1c2c7" /><rect x="222.80" y="672.50" width="3.26" height="6.50" fill="#d3a8aa" /><rect x="225.71" y="672.50" width="3.26" height="6.50" fill="#c5c5d5" /><rect x="228.62" y="672.50" width="3.26" height="6.50" fill="#b7bad6" /><rect x="231.52" y="672.50" width="3.26" height="6.50" fill="#aab0d7" /><rect x="234.43" y="672.50" width="3.26" height="6.50" fill="#c8c8d5" /><rect x="237.33" y="672.50" width="3.26" height="6.50" fill="#a8afd7" /><rect x="240.24" y="672.50" width="3.26" height="6.50" fill="#7b8cdb" /><rect x="243.15" y="672.50" width="3.26" height="6.50" fill="#d0ced4" /><rect x="246.05" y="672.50" width="3.26" height="6.50" fill="#c4c4d5" /><rect x="248.96" y="672.50" width="3.26" height="6.50" fill="#bec0d6" /><rect x="251.86" y="672.50" width="3.26" height="6.50" fill="#4562e0" /><rect x="254.77" y="672.50" width="3.26" height="6.50" fill="#9ea8d8" /><rect x="257.68" y="672.50" width="3.26" height="6.50" fill="#bec0d6" /><rect x="260.58" y="672.50" width="3.26" height="6.50" fill="#637add" /><rect x="263.49" y="672.50" width="3.26" height="6.50" fill="#c9c9d5" /><rect x="266.39" y="672.50" width="3.26" height="6.50" fill="#d1c7cc" /><rect x="77.50" y="678.70" width="3.26" height="6.50" fill="#de2d21" /><rect x="80.41" y="678.70" width="3.26" height="6.50" fill="#d77875" /><rect x="83.31" y="678.70" width="3.26" height="6.50" fill="#d2b1b4" /><rect x="86.22" y="678.70" width="3.26" height="6.50" fill="#d87571" /><rect x="89.12" y="678.70" width="3.26" height="6.50" fill="#d4a3a4" /><rect x="92.03" y="678.70" width="3.26" height="6.50" fill="#d49b9b" /><rect x="94.94" y="678.70" width="3.26" height="6.50" fill="#d49c9c" /><rect x="97.84" y="678.70" width="3.26" height="6.50" fill="#d1c5ca" /><rect x="100.75" y="678.70" width="3.26" height="6.50" fill="#d0ccd2" /><rect x="103.65" y="678.70" width="3.26" height="6.50" fill="#b0b6d7" /><rect x="106.56" y="678.70" width="3.26" height="6.50" fill="#d3aaac" /><rect x="109.47" y="678.70" width="3.26" height="6.50" fill="#d8736f" /><rect x="112.37" y="678.70" width="3.26" height="6.50" fill="#d0cdd3" /><rect x="115.28" y="678.70" width="3.26" height="6.50" fill="#d0cdd3" /><rect x="118.18" y="678.70" width="3.26" height="6.50" fill="#d3afb1" /><rect x="121.09" y="678.70" width="3.26" height="6.50" fill="#d2b7bb" /><rect x="124.00" y="678.70" width="3.26" height="6.50" fill="#bec0d6" /><rect x="126.90" y="678.70" width="3.26" height="6.50" fill="#ceccd4" /><rect x="129.81" y="678.70" width="3.26" height="6.50" fill="#c5c6d5" /><rect x="132.72" y="678.70" width="3.26" height="6.50" fill="#d77d7a" /><rect x="135.62" y="678.70" width="3.26" height="6.50" fill="#cdccd4" /><rect x="138.53" y="678.70" width="3.26" height="6.50" fill="#d77572" /><rect x="141.43" y="678.70" width="3.26" height="6.50" fill="#dd372d" /><rect x="144.34" y="678.70" width="3.26" height="6.50" fill="#dd392f" /><rect x="147.25" y="678.70" width="3.26" height="6.50" fill="#da554e" /><rect x="150.15" y="678.70" width="3.26" height="6.50" fill="#db4940" /><rect x="153.06" y="678.70" width="3.26" height="6.50" fill="#cfcdd4" /><rect x="155.96" y="678.70" width="3.26" height="6.50" fill="#d2b1b4" /><rect x="158.87" y="678.70" width="3.26" height="6.50" fill="#d1c1c5" /><rect x="161.78" y="678.70" width="3.26" height="6.50" fill="#d3afb1" /><rect x="164.68" y="678.70" width="3.26" height="6.50" fill="#de281c" /><rect x="167.59" y="678.70" width="3.26" height="6.50" fill="#99a3d9" /><rect x="170.49" y="678.70" width="3.26" height="6.50" fill="#d0cbd0" /><rect x="173.40" y="678.70" width="3.26" height="6.50" fill="#a7afd8" /><rect x="176.31" y="678.70" width="3.26" height="6.50" fill="#d2b6b9" /><rect x="179.21" y="678.70" width="3.26" height="6.50" fill="#d2b7ba" /><rect x="182.12" y="678.70" width="3.26" height="6.50" fill="#bdbfd6" /><rect x="185.02" y="678.70" width="3.26" height="6.50" fill="#d49d9e" /><rect x="187.93" y="678.70" width="3.26" height="6.50" fill="#cbcad4" /><rect x="190.84" y="678.70" width="3.26" height="6.50" fill="#d2b7ba" /><rect x="193.74" y="678.70" width="3.26" height="6.50" fill="#cfced4" /><rect x="196.65" y="678.70" width="3.26" height="6.50" fill="#bcbed6" /><rect x="199.55" y="678.70" width="3.26" height="6.50" fill="#c0c2d5" /><rect x="202.46" y="678.70" width="3.26" height="6.50" fill="#c7c7d5" /><rect x="205.37" y="678.70" width="3.26" height="6.50" fill="#d0c9cf" /><rect x="208.27" y="678.70" width="3.26" height="6.50" fill="#cccbd4" /><rect x="211.18" y="678.70" width="3.26" height="6.50" fill="#d59392" /><rect x="214.08" y="678.70" width="3.26" height="6.50" fill="#c5c6d5" /><rect x="216.99" y="678.70" width="3.26" height="6.50" fill="#bec0d6" /><rect x="219.90" y="678.70" width="3.26" height="6.50" fill="#b7bbd6" /><rect x="222.80" y="678.70" width="3.26" height="6.50" fill="#b5b9d6" /><rect x="225.71" y="678.70" width="3.26" height="6.50" fill="#a1a9d8" /><rect x="228.62" y="678.70" width="3.26" height="6.50" fill="#afb5d7" /><rect x="231.52" y="678.70" width="3.26" height="6.50" fill="#d1c2c7" /><rect x="234.43" y="678.70" width="3.26" height="6.50" fill="#a6aed8" /><rect x="237.33" y="678.70" width="3.26" height="6.50" fill="#9ba5d9" /><rect x="240.24" y="678.70" width="3.26" height="6.50" fill="#b3b8d7" /><rect x="243.15" y="678.70" width="3.26" height="6.50" fill="#cdccd4" /><rect x="246.05" y="678.70" width="3.26" height="6.50" fill="#bec0d6" /><rect x="248.96" y="678.70" width="3.26" height="6.50" fill="#c4c5d5" /><rect x="251.86" y="678.70" width="3.26" height="6.50" fill="#8796da" /><rect x="254.77" y="678.70" width="3.26" height="6.50" fill="#97a2d9" /><rect x="257.68" y="678.70" width="3.26" height="6.50" fill="#7c8ddb" /><rect x="260.58" y="678.70" width="3.26" height="6.50" fill="#9fa8d8" /><rect x="263.49" y="678.70" width="3.26" height="6.50" fill="#7a8bdb" /><rect x="266.39" y="678.70" width="3.26" height="6.50" fill="#919dd9" /><rect x="77.50" y="564.00" width="191.80" height="12.80" fill="#ffffff" stroke="#b8b8b8" stroke-width="0.6"/><rect x="77.50" y="564.00" width="3.21" height="12.80" fill="#5cbcbc" /><rect x="83.31" y="564.00" width="3.21" height="12.80" fill="#5cbcbc" /><rect x="86.22" y="564.00" width="3.21" height="12.80" fill="#5cbcbc" /><rect x="89.12" y="564.00" width="3.21" height="12.80" fill="#5cbcbc" /><rect x="94.94" y="564.00" width="3.21" height="12.80" fill="#5cbcbc" /><rect x="97.84" y="564.00" width="3.21" height="12.80" fill="#5cbcbc" /><rect x="103.65" y="564.00" width="3.21" height="12.80" fill="#5cbcbc" /><rect x="106.56" y="564.00" width="3.21" height="12.80" fill="#5cbcbc" /><rect x="115.28" y="564.00" width="3.21" height="12.80" fill="#5cbcbc" /><rect x="118.18" y="564.00" width="3.21" height="12.80" fill="#5cbcbc" /><rect x="121.09" y="564.00" width="3.21" height="12.80" fill="#5cbcbc" /><rect x="126.90" y="564.00" width="3.21" height="12.80" fill="#5cbcbc" /><rect x="129.81" y="564.00" width="3.21" height="12.80" fill="#5cbcbc" /><rect x="132.72" y="564.00" width="3.21" height="12.80" fill="#5cbcbc" /><rect x="135.62" y="564.00" width="3.21" height="12.80" fill="#5cbcbc" /><rect x="138.53" y="564.00" width="3.21" height="12.80" fill="#5cbcbc" /><rect x="141.43" y="564.00" width="3.21" height="12.80" fill="#5cbcbc" /><rect x="144.34" y="564.00" width="3.21" height="12.80" fill="#5cbcbc" /><rect x="147.25" y="564.00" width="3.21" height="12.80" fill="#5cbcbc" /><rect x="150.15" y="564.00" width="3.21" height="12.80" fill="#5cbcbc" /><rect x="153.06" y="564.00" width="3.21" height="12.80" fill="#5cbcbc" /><rect x="155.96" y="564.00" width="3.21" height="12.80" fill="#5cbcbc" /><rect x="158.87" y="564.00" width="3.21" height="12.80" fill="#5cbcbc" /><rect x="161.78" y="564.00" width="3.21" height="12.80" fill="#5cbcbc" /><rect x="164.68" y="564.00" width="3.21" height="12.80" fill="#5cbcbc" /><rect x="179.21" y="564.00" width="3.21" height="12.80" fill="#5cbcbc" /><rect x="185.02" y="564.00" width="3.21" height="12.80" fill="#5cbcbc" /><rect x="187.93" y="564.00" width="3.21" height="12.80" fill="#5cbcbc" /><rect x="202.46" y="564.00" width="3.21" height="12.80" fill="#5cbcbc" /><rect x="214.08" y="564.00" width="3.21" height="12.80" fill="#5cbcbc" /><rect x="219.90" y="564.00" width="3.21" height="12.80" fill="#5cbcbc" /><path d="M123.20,549.60V527.70H226.00V546.60 M100.60,553.10V549.60H146.20V557.70 M85.60,557.00V553.10H115.40V556.20 M81.13,559.23V557.00H89.12V559.50 M78.95,563.00V559.23H83.31V561.43 M81.86,563.00V561.43H84.77V563.00 M87.67,563.00V559.50H90.58V563.00 M100.75,558.03V556.20H117.10V557.02 M97.12,559.16V558.03H104.38V560.39 M94.94,560.25V559.16H99.30V563.00 M93.48,563.00V560.25H96.39V563.00 M102.20,563.00V560.39H106.56V562.50 M105.11,563.00V562.50H108.01V563.00 M113.10,558.34V557.02H121.09V559.55 M110.92,563.00V558.34H115.28V560.89 M113.83,563.00V560.89H116.73V563.00 M119.64,563.00V559.55H122.54V563.00 M131.26,558.60V557.70H157.78V558.00 M126.90,560.00V558.60H135.62V560.87 M125.45,563.00V560.00H128.36V563.00 M132.72,562.50V560.87H138.53V562.50 M131.26,563.00V562.50H134.17V563.00 M137.07,563.00V562.50H139.98V563.00 M151.60,559.44V558.00H163.96V559.53 M147.25,560.90V559.44H155.96V561.29 M144.34,562.50V560.90H150.15V562.50 M142.89,563.00V562.50H145.79V563.00 M148.70,563.00V562.50H151.60V563.00 M154.51,563.00V561.29H157.42V563.00 M161.78,561.88V559.53H166.13V563.00 M160.32,563.00V561.88H163.23V563.00 M199.00,555.70V546.60H251.00V553.30 M177.00,557.60V555.70H224.00V557.20 M176.12,559.01V557.60H191.93V560.06 M170.49,561.05V559.01H181.75V560.36 M169.04,563.00V561.05H171.95V563.00 M178.49,561.45V560.36H185.02V561.25 M176.31,562.31V561.45H180.67V563.00 M174.85,563.00V562.31H177.76V563.00 M183.57,563.00V561.25H186.48V563.00 M189.38,563.00V560.06H194.47V562.37 M192.29,563.00V562.37H196.65V562.50 M195.20,563.00V562.50H198.10V563.00 M206.46,558.67V557.20H223.71V558.11 M202.46,560.29V558.67H210.45V561.27 M201.01,563.00V560.29H203.91V563.00 M208.27,562.50V561.27H212.63V563.00 M206.82,563.00V562.50H209.73V563.00 M217.72,560.39V558.11H229.70V559.86 M215.54,563.00V560.39H219.90V562.08 M218.44,563.00V562.08H221.35V563.00 M225.71,562.09V559.86H233.70V561.30 M224.26,563.00V562.09H227.16V563.00 M231.52,562.50V561.30H235.88V563.00 M230.07,563.00V562.50H232.97V563.00 M244.50,557.20V553.30H260.00V556.50 M242.42,558.02V557.20H248.96V558.98 M240.24,559.41V558.02H244.60V563.00 M238.79,563.00V559.41H241.69V563.00 M247.50,563.00V558.98H250.41V563.00 M256.95,558.82V556.50H265.67V558.87 M254.77,561.37V558.82H259.13V563.00 M253.32,563.00V561.37H256.22V563.00 M263.49,561.35V558.87H267.85V563.00 M262.03,563.00V561.35H264.94V563.00 M174.60,527.70V524.10" fill="none" stroke="#222" stroke-width="1.05"/><text x="73.20" y="574.30" font-size="6.1" text-anchor="end" fill="#78bcbc" font-weight="normal" font-style="normal" stroke="#78bcbc" stroke-width="0.28">Mø signature</text><text x="74.40" y="585.30" font-size="6.8" text-anchor="end" fill="#111" font-weight="normal" font-style="normal" stroke="#111" stroke-width="0.28">CD163</text><text x="74.40" y="597.20" font-size="6.8" text-anchor="end" fill="#111" font-weight="normal" font-style="normal" stroke="#111" stroke-width="0.28">CD68</text><text x="29.00" y="591.20" font-size="6.3" text-anchor="middle" fill="#111" font-weight="normal" font-style="normal" stroke="#111" stroke-width="0.28">Mø genes</text><path d="M50.3,582.2H47.6V596H50.3" fill="none" stroke="#111" stroke-width="0.9"/><text x="74.40" y="609.20" font-size="6.8" text-anchor="end" fill="#111" font-weight="normal" font-style="normal" stroke="#111" stroke-width="0.28">CXCL10</text><text x="74.40" y="615.49" font-size="6.8" text-anchor="end" fill="#111" font-weight="normal" font-style="normal" stroke="#111" stroke-width="0.28">CXCL11</text><text x="74.40" y="621.78" font-size="6.8" text-anchor="end" fill="#111" font-weight="normal" font-style="normal" stroke="#111" stroke-width="0.28">CXCL9</text><text x="74.40" y="628.07" font-size="6.8" text-anchor="end" fill="#111" font-weight="normal" font-style="normal" stroke="#111" stroke-width="0.28">IDO1</text><text x="74.40" y="634.37" font-size="6.8" text-anchor="end" fill="#111" font-weight="normal" font-style="normal" stroke="#111" stroke-width="0.28">IFNG</text><text x="74.40" y="640.66" font-size="6.8" text-anchor="end" fill="#111" font-weight="normal" font-style="normal" stroke="#111" stroke-width="0.28">PD-L1</text><text x="74.40" y="646.95" font-size="6.8" text-anchor="end" fill="#111" font-weight="normal" font-style="normal" stroke="#111" stroke-width="0.28">PD-L2</text><text x="74.40" y="653.24" font-size="6.8" text-anchor="end" fill="#111" font-weight="normal" font-style="normal" stroke="#111" stroke-width="0.28">GZMM</text><text x="74.40" y="659.53" font-size="6.8" text-anchor="end" fill="#111" font-weight="normal" font-style="normal" stroke="#111" stroke-width="0.28">GZMK</text><text x="74.40" y="665.82" font-size="6.8" text-anchor="end" fill="#111" font-weight="normal" font-style="normal" stroke="#111" stroke-width="0.28">GZMA</text><text x="74.40" y="672.12" font-size="6.8" text-anchor="end" fill="#111" font-weight="normal" font-style="normal" stroke="#111" stroke-width="0.28">PRF1</text><text x="74.40" y="678.41" font-size="6.8" text-anchor="end" fill="#111" font-weight="normal" font-style="normal" stroke="#111" stroke-width="0.28">GZMH</text><text x="74.40" y="684.70" font-size="6.8" text-anchor="end" fill="#111" font-weight="normal" font-style="normal" stroke="#111" stroke-width="0.28">GZMB</text><text x="241.60" y="699.40" font-size="6.4" text-anchor="middle" fill="#111" font-weight="normal" font-style="normal" stroke="#111" stroke-width="0.28">Percentile value</text><rect x="220.20" y="702.70" width="46.30" height="4.60" fill="url(#pg)" /><text x="220.80" y="716.00" font-size="6.8" text-anchor="middle" fill="#111" font-weight="normal" font-style="normal" stroke="#111" stroke-width="0.28">100</text><text x="267.40" y="716.00" font-size="6.8" text-anchor="middle" fill="#111" font-weight="normal" font-style="normal" stroke="#111" stroke-width="0.28">0</text><path d="M390.50,620.30L390.50,547.10A73.2,73.2 0 0 1 433.53,561.08Z" fill="#8e9ac0" /><path d="M390.50,620.30L433.53,561.08A73.2,73.2 0 0 1 440.42,673.84Z" fill="#c9a3d5" /><path d="M390.50,620.30L440.42,673.84A73.2,73.2 0 0 1 357.27,685.52Z" fill="#f1cc94" /><path d="M390.50,620.30L357.27,685.52A73.2,73.2 0 0 1 390.50,547.10Z" fill="#2e4a7e" /><circle cx="390.5" cy="620.3" r="89.2" fill="none"/><path d="M390.50,541.70A78.6,78.6 0 0 1 397.35,542.00L396.88,547.38A73.2,73.2 0 0 0 390.50,547.10Z" fill="#8e3a96" /><path d="M390.50,536.30A84.0,84.0 0 0 1 397.82,536.62L397.35,542.00A78.6,78.6 0 0 0 390.50,541.70Z" fill="#e09c2c" /><path d="M390.50,530.50A89.8,89.8 0 0 1 398.33,530.84L397.82,536.62A84.0,84.0 0 0 0 390.50,536.30Z" fill="#5cb8b8" /><path d="M397.35,542.00A78.6,78.6 0 0 1 404.15,542.89L403.21,548.21A73.2,73.2 0 0 0 396.88,547.38Z" fill="#8e3a96" /><path d="M397.82,536.62A84.0,84.0 0 0 1 405.09,537.58L404.15,542.89A78.6,78.6 0 0 0 397.35,542.00Z" fill="#e09c2c" /><path d="M398.33,530.84A89.8,89.8 0 0 1 406.09,531.86L405.09,537.58A84.0,84.0 0 0 0 397.82,536.62Z" fill="#5cb8b8" /><path d="M404.15,542.89A78.6,78.6 0 0 1 410.84,544.38L409.45,549.59A73.2,73.2 0 0 0 403.21,548.21Z" fill="#8e3a96" /><path d="M405.09,537.58A84.0,84.0 0 0 1 412.24,539.16L410.84,544.38A78.6,78.6 0 0 0 404.15,542.89Z" fill="#e09c2c" /><path d="M406.09,531.86A89.8,89.8 0 0 1 413.74,533.56L412.24,539.16A84.0,84.0 0 0 0 405.09,537.58Z" fill="#5cb8b8" /><path d="M410.84,544.38A78.6,78.6 0 0 1 417.38,546.44L415.54,551.51A73.2,73.2 0 0 0 409.45,549.59Z" fill="#8e3a96" /><path d="M412.24,539.16A84.0,84.0 0 0 1 419.23,541.37L417.38,546.44A78.6,78.6 0 0 0 410.84,544.38Z" fill="#e09c2c" /><path d="M413.74,533.56A89.8,89.8 0 0 1 421.21,535.92L419.23,541.37A84.0,84.0 0 0 0 412.24,539.16Z" fill="#5cb8b8" /><path d="M417.38,546.44A78.6,78.6 0 0 1 423.72,549.06L421.44,553.96A73.2,73.2 0 0 0 415.54,551.51Z" fill="#8e3a96" /><path d="M419.23,541.37A84.0,84.0 0 0 1 426.00,544.17L423.72,549.06A78.6,78.6 0 0 0 417.38,546.44Z" fill="#e09c2c" /><path d="M423.72,549.06A78.6,78.6 0 0 1 429.80,552.23L427.10,556.91A73.2,73.2 0 0 0 421.44,553.96Z" fill="#8e3a96" /><path d="M426.00,544.17A84.0,84.0 0 0 1 432.50,547.55L429.80,552.23A78.6,78.6 0 0 0 423.72,549.06Z" fill="#e09c2c" /><path d="M429.80,552.23A78.6,78.6 0 0 1 435.58,555.91L432.49,560.34A73.2,73.2 0 0 0 427.10,556.91Z" fill="#8e3a96" /><path d="M432.50,547.55A84.0,84.0 0 0 1 438.68,551.49L435.58,555.91A78.6,78.6 0 0 0 429.80,552.23Z" fill="#e09c2c" /><path d="M435.58,555.91A78.6,78.6 0 0 1 441.02,560.09L437.55,564.23A73.2,73.2 0 0 0 432.49,560.34Z" fill="#8e3a96" /><path d="M441.02,560.09A78.6,78.6 0 0 1 446.08,564.72L442.26,568.54A73.2,73.2 0 0 0 437.55,564.23Z" fill="#8e3a96" /><path d="M446.08,564.72A78.6,78.6 0 0 1 450.71,569.78L446.57,573.25A73.2,73.2 0 0 0 442.26,568.54Z" fill="#8e3a96" /><path d="M450.71,569.78A78.6,78.6 0 0 1 454.89,575.22L450.46,578.31A73.2,73.2 0 0 0 446.57,573.25Z" fill="#8e3a96" /><path d="M454.89,575.22A78.6,78.6 0 0 1 458.57,581.00L453.89,583.70A73.2,73.2 0 0 0 450.46,578.31Z" fill="#8e3a96" /><path d="M458.57,581.00A78.6,78.6 0 0 1 461.74,587.08L456.84,589.36A73.2,73.2 0 0 0 453.89,583.70Z" fill="#8e3a96" /><path d="M461.74,587.08A78.6,78.6 0 0 1 464.36,593.42L459.29,595.26A73.2,73.2 0 0 0 456.84,589.36Z" fill="#8e3a96" /><path d="M464.36,593.42A78.6,78.6 0 0 1 466.42,599.96L461.21,601.35A73.2,73.2 0 0 0 459.29,595.26Z" fill="#8e3a96" /><path d="M466.42,599.96A78.6,78.6 0 0 1 467.91,606.65L462.59,607.59A73.2,73.2 0 0 0 461.21,601.35Z" fill="#8e3a96" /><path d="M467.91,606.65A78.6,78.6 0 0 1 468.80,613.45L463.42,613.92A73.2,73.2 0 0 0 462.59,607.59Z" fill="#8e3a96" /><path d="M468.80,613.45A78.6,78.6 0 0 1 469.10,620.30L463.70,620.30A73.2,73.2 0 0 0 463.42,613.92Z" fill="#8e3a96" /><path d="M469.10,620.30A78.6,78.6 0 0 1 468.80,627.15L463.42,626.68A73.2,73.2 0 0 0 463.70,620.30Z" fill="#8e3a96" /><path d="M468.80,627.15A78.6,78.6 0 0 1 467.91,633.95L462.59,633.01A73.2,73.2 0 0 0 463.42,626.68Z" fill="#8e3a96" /><path d="M479.96,628.13A89.8,89.8 0 0 1 478.94,635.89L473.22,634.89A84.0,84.0 0 0 0 474.18,627.62Z" fill="#5cb8b8" /><path d="M467.91,633.95A78.6,78.6 0 0 1 466.42,640.64L461.21,639.25A73.2,73.2 0 0 0 462.59,633.01Z" fill="#8e3a96" /><path d="M478.94,635.89A89.8,89.8 0 0 1 477.24,643.54L471.64,642.04A84.0,84.0 0 0 0 473.22,634.89Z" fill="#5cb8b8" /><path d="M466.42,640.64A78.6,78.6 0 0 1 464.36,647.18L459.29,645.34A73.2,73.2 0 0 0 461.21,639.25Z" fill="#8e3a96" /><path d="M477.24,643.54A89.8,89.8 0 0 1 474.88,651.01L469.43,649.03A84.0,84.0 0 0 0 471.64,642.04Z" fill="#5cb8b8" /><path d="M464.36,647.18A78.6,78.6 0 0 1 461.74,653.52L456.84,651.24A73.2,73.2 0 0 0 459.29,645.34Z" fill="#8e3a96" /><path d="M474.88,651.01A89.8,89.8 0 0 1 471.89,658.25L466.63,655.80A84.0,84.0 0 0 0 469.43,649.03Z" fill="#5cb8b8" /><path d="M461.74,653.52A78.6,78.6 0 0 1 458.57,659.60L453.89,656.90A73.2,73.2 0 0 0 456.84,651.24Z" fill="#8e3a96" /><path d="M471.89,658.25A89.8,89.8 0 0 1 468.27,665.20L463.25,662.30A84.0,84.0 0 0 0 466.63,655.80Z" fill="#5cb8b8" /><path d="M458.57,659.60A78.6,78.6 0 0 1 454.89,665.38L450.46,662.29A73.2,73.2 0 0 0 453.89,656.90Z" fill="#8e3a96" /><path d="M468.27,665.20A89.8,89.8 0 0 1 464.06,671.81L459.31,668.48A84.0,84.0 0 0 0 463.25,662.30Z" fill="#5cb8b8" /><path d="M454.89,665.38A78.6,78.6 0 0 1 450.71,670.82L446.57,667.35A73.2,73.2 0 0 0 450.46,662.29Z" fill="#8e3a96" /><path d="M464.06,671.81A89.8,89.8 0 0 1 459.29,678.02L454.85,674.29A84.0,84.0 0 0 0 459.31,668.48Z" fill="#5cb8b8" /><path d="M450.71,670.82A78.6,78.6 0 0 1 446.08,675.88L442.26,672.06A73.2,73.2 0 0 0 446.57,667.35Z" fill="#8e3a96" /><path d="M459.29,678.02A89.8,89.8 0 0 1 454.00,683.80L449.90,679.70A84.0,84.0 0 0 0 454.85,674.29Z" fill="#5cb8b8" /><path d="M449.90,679.70A84.0,84.0 0 0 1 444.49,684.65L441.02,680.51A78.6,78.6 0 0 0 446.08,675.88Z" fill="#e09c2c" /><path d="M454.00,683.80A89.8,89.8 0 0 1 448.22,689.09L444.49,684.65A84.0,84.0 0 0 0 449.90,679.70Z" fill="#5cb8b8" /><path d="M444.49,684.65A84.0,84.0 0 0 1 438.68,689.11L435.58,684.69A78.6,78.6 0 0 0 441.02,680.51Z" fill="#e09c2c" /><path d="M448.22,689.09A89.8,89.8 0 0 1 442.01,693.86L438.68,689.11A84.0,84.0 0 0 0 444.49,684.65Z" fill="#5cb8b8" /><path d="M438.68,689.11A84.0,84.0 0 0 1 432.50,693.05L429.80,688.37A78.6,78.6 0 0 0 435.58,684.69Z" fill="#e09c2c" /><path d="M442.01,693.86A89.8,89.8 0 0 1 435.40,698.07L432.50,693.05A84.0,84.0 0 0 0 438.68,689.11Z" fill="#5cb8b8" /><path d="M432.50,693.05A84.0,84.0 0 0 1 426.00,696.43L423.72,691.54A78.6,78.6 0 0 0 429.80,688.37Z" fill="#e09c2c" /><path d="M435.40,698.07A89.8,89.8 0 0 1 428.45,701.69L426.00,696.43A84.0,84.0 0 0 0 432.50,693.05Z" fill="#5cb8b8" /><path d="M426.00,696.43A84.0,84.0 0 0 1 419.23,699.23L417.38,694.16A78.6,78.6 0 0 0 423.72,691.54Z" fill="#e09c2c" /><path d="M428.45,701.69A89.8,89.8 0 0 1 421.21,704.68L419.23,699.23A84.0,84.0 0 0 0 426.00,696.43Z" fill="#5cb8b8" /><path d="M419.23,699.23A84.0,84.0 0 0 1 412.24,701.44L410.84,696.22A78.6,78.6 0 0 0 417.38,694.16Z" fill="#e09c2c" /><path d="M421.21,704.68A89.8,89.8 0 0 1 413.74,707.04L412.24,701.44A84.0,84.0 0 0 0 419.23,699.23Z" fill="#5cb8b8" /><path d="M412.24,701.44A84.0,84.0 0 0 1 405.09,703.02L404.15,697.71A78.6,78.6 0 0 0 410.84,696.22Z" fill="#e09c2c" /><path d="M405.09,703.02A84.0,84.0 0 0 1 397.82,703.98L397.35,698.60A78.6,78.6 0 0 0 404.15,697.71Z" fill="#e09c2c" /><path d="M397.82,703.98A84.0,84.0 0 0 1 390.50,704.30L390.50,698.90A78.6,78.6 0 0 0 397.35,698.60Z" fill="#e09c2c" /><path d="M390.50,704.30A84.0,84.0 0 0 1 383.18,703.98L383.65,698.60A78.6,78.6 0 0 0 390.50,698.90Z" fill="#e09c2c" /><path d="M383.18,703.98A84.0,84.0 0 0 1 375.91,703.02L376.85,697.71A78.6,78.6 0 0 0 383.65,698.60Z" fill="#e09c2c" /><path d="M375.91,703.02A84.0,84.0 0 0 1 368.76,701.44L370.16,696.22A78.6,78.6 0 0 0 376.85,697.71Z" fill="#e09c2c" /><path d="M368.76,701.44A84.0,84.0 0 0 1 361.77,699.23L363.62,694.16A78.6,78.6 0 0 0 370.16,696.22Z" fill="#e09c2c" /><path d="M361.77,699.23A84.0,84.0 0 0 1 355.00,696.43L357.28,691.54A78.6,78.6 0 0 0 363.62,694.16Z" fill="#e09c2c" /><path d="M302.06,604.71A89.8,89.8 0 0 1 303.76,597.06L309.36,598.56A84.0,84.0 0 0 0 307.78,605.71Z" fill="#5cb8b8" /><path d="M303.76,597.06A89.8,89.8 0 0 1 306.12,589.59L311.57,591.57A84.0,84.0 0 0 0 309.36,598.56Z" fill="#5cb8b8" /><path d="M306.12,589.59A89.8,89.8 0 0 1 309.11,582.35L314.37,584.80A84.0,84.0 0 0 0 311.57,591.57Z" fill="#5cb8b8" /><path d="M309.11,582.35A89.8,89.8 0 0 1 312.73,575.40L317.75,578.30A84.0,84.0 0 0 0 314.37,584.80Z" fill="#5cb8b8" /><path d="M312.73,575.40A89.8,89.8 0 0 1 316.94,568.79L321.69,572.12A84.0,84.0 0 0 0 317.75,578.30Z" fill="#5cb8b8" /><path d="M316.94,568.79A89.8,89.8 0 0 1 321.71,562.58L326.15,566.31A84.0,84.0 0 0 0 321.69,572.12Z" fill="#5cb8b8" /><path d="M321.71,562.58A89.8,89.8 0 0 1 327.00,556.80L331.10,560.90A84.0,84.0 0 0 0 326.15,566.31Z" fill="#5cb8b8" /><path d="M327.00,556.80A89.8,89.8 0 0 1 332.78,551.51L336.51,555.95A84.0,84.0 0 0 0 331.10,560.90Z" fill="#5cb8b8" /><path d="M332.78,551.51A89.8,89.8 0 0 1 338.99,546.74L342.32,551.49A84.0,84.0 0 0 0 336.51,555.95Z" fill="#5cb8b8" /><path d="M338.99,546.74A89.8,89.8 0 0 1 345.60,542.53L348.50,547.55A84.0,84.0 0 0 0 342.32,551.49Z" fill="#5cb8b8" /><path d="M345.60,542.53A89.8,89.8 0 0 1 352.55,538.91L355.00,544.17A84.0,84.0 0 0 0 348.50,547.55Z" fill="#5cb8b8" /><path d="M352.55,538.91A89.8,89.8 0 0 1 359.79,535.92L361.77,541.37A84.0,84.0 0 0 0 355.00,544.17Z" fill="#5cb8b8" /><path d="M359.79,535.92A89.8,89.8 0 0 1 367.26,533.56L368.76,539.16A84.0,84.0 0 0 0 361.77,541.37Z" fill="#5cb8b8" /><path d="M367.26,533.56A89.8,89.8 0 0 1 374.91,531.86L375.91,537.58A84.0,84.0 0 0 0 368.76,539.16Z" fill="#5cb8b8" /><path d="M374.91,531.86A89.8,89.8 0 0 1 382.67,530.84L383.18,536.62A84.0,84.0 0 0 0 375.91,537.58Z" fill="#5cb8b8" /><path d="M382.67,530.84A89.8,89.8 0 0 1 390.50,530.50L390.50,536.30A84.0,84.0 0 0 0 383.18,536.62Z" fill="#5cb8b8" /><path d="M390.50,547.10L390.50,530.50 M396.88,547.38L398.33,530.84 M403.21,548.21L406.09,531.86 M409.45,549.59L413.74,533.56 M415.54,551.51L421.21,535.92 M421.44,553.96L428.45,538.91 M427.10,556.91L435.40,542.53 M432.49,560.34L442.01,546.74 M437.55,564.23L448.22,551.51 M442.26,568.54L454.00,556.80 M446.57,573.25L459.29,562.58 M450.46,578.31L464.06,568.79 M453.89,583.70L468.27,575.40 M456.84,589.36L471.89,582.35 M459.29,595.26L474.88,589.59 M461.21,601.35L477.24,597.06 M462.59,607.59L478.94,604.71 M463.42,613.92L479.96,612.47 M463.70,620.30L480.30,620.30 M463.42,626.68L479.96,628.13 M462.59,633.01L478.94,635.89 M461.21,639.25L477.24,643.54 M459.29,645.34L474.88,651.01 M456.84,651.24L471.89,658.25 M453.89,656.90L468.27,665.20 M450.46,662.29L464.06,671.81 M446.57,667.35L459.29,678.02 M442.26,672.06L454.00,683.80 M437.55,676.37L448.22,689.09 M432.49,680.26L442.01,693.86 M427.10,683.69L435.40,698.07 M421.44,686.64L428.45,701.69 M415.54,689.09L421.21,704.68 M409.45,691.01L413.74,707.04 M403.21,692.39L406.09,708.74 M396.88,693.22L398.33,709.76 M390.50,693.50L390.50,710.10 M384.12,693.22L382.67,709.76 M377.79,692.39L374.91,708.74 M371.55,691.01L367.26,707.04 M365.46,689.09L359.79,704.68 M359.56,686.64L352.55,701.69 M353.90,683.69L345.60,698.07 M348.51,680.26L338.99,693.86 M343.45,676.37L332.78,689.09 M338.74,672.06L327.00,683.80 M334.43,667.35L321.71,678.02 M330.54,662.29L316.94,671.81 M327.11,656.90L312.73,665.20 M324.16,651.24L309.11,658.25 M321.71,645.34L306.12,651.01 M319.79,639.25L303.76,643.54 M318.41,633.01L302.06,635.89 M317.58,626.68L301.04,628.13 M317.30,620.30L300.70,620.30 M317.58,613.92L301.04,612.47 M318.41,607.59L302.06,604.71 M319.79,601.35L303.76,597.06 M321.71,595.26L306.12,589.59 M324.16,589.36L309.11,582.35 M327.11,583.70L312.73,575.40 M330.54,578.31L316.94,568.79 M334.43,573.25L321.71,562.58 M338.74,568.54L327.00,556.80 M343.45,564.23L332.78,551.51 M348.51,560.34L338.99,546.74 M353.90,556.91L345.60,542.53 M359.56,553.96L352.55,538.91 M365.46,551.51L359.79,535.92 M371.55,549.59L367.26,533.56 M377.79,548.21L374.91,531.86 M384.12,547.38L382.67,530.84" stroke="#7c7672" stroke-width="0.75" fill="none"/><circle cx="390.5" cy="620.3" r="89.8" fill="none" stroke="#7c7672" stroke-width="0.8"/><text font-size="9.6" fill="#86bcbc"><textPath href="#circ" startOffset="473.5" textLength="86.0" lengthAdjust="spacingAndGlyphs">Checkpoint inhibitors</textPath></text><text font-size="9.6" fill="#86bcbc"><textPath href="#circ" startOffset="170.5" textLength="86.0" lengthAdjust="spacingAndGlyphs">Checkpoint inhibitors</textPath></text><text x="410.80" y="570.80" font-size="8.6" text-anchor="middle" fill="#222" font-weight="normal" font-style="normal" stroke="#222" stroke-width="0.28">BD</text><text x="411.00" y="580.80" font-size="7.8" text-anchor="middle" fill="#222" font-weight="normal" font-style="italic" stroke="#222" stroke-width="0.28">Favorable</text><text x="430.90" y="620.20" font-size="7.6" text-anchor="middle" fill="#222" font-weight="normal" font-style="normal" stroke="#222" stroke-width="0.28">B-only</text><text x="414.60" y="645.20" font-size="8.0" text-anchor="middle" fill="#222" font-weight="normal" font-style="italic" stroke="#222" stroke-width="0.28">Intermediate</text><text x="396.60" y="668.80" font-size="8.2" text-anchor="middle" fill="#222" font-weight="normal" font-style="normal" stroke="#222" stroke-width="0.28">DC-only</text><text x="354.50" y="614.40" font-size="8.0" text-anchor="middle" fill="#fff" font-weight="normal" font-style="normal" stroke="#fff" stroke-width="0.28">non-BD</text><text x="354.50" y="623.50" font-size="8.0" text-anchor="middle" fill="#fff" font-weight="normal" font-style="italic" stroke="#fff" stroke-width="0.28">Poor</text><rect x="477.50" y="686.90" width="12.20" height="6.00" fill="#8e3a96" /><text x="492.60" y="692.50" font-size="8.2" text-anchor="start" fill="#7a5a84" font-weight="normal" font-style="normal" stroke="#7a5a84" stroke-width="0.28">B cell</text><rect x="477.50" y="696.35" width="12.20" height="6.00" fill="#e09c2c" /><text x="492.60" y="701.95" font-size="8.2" text-anchor="start" fill="#d8a868" font-weight="normal" font-style="normal" stroke="#d8a868" stroke-width="0.28">DC</text><rect x="477.50" y="705.80" width="12.20" height="6.00" fill="#5cb8b8" /><text x="492.60" y="711.40" font-size="8.2" text-anchor="start" fill="#8ab4b6" font-weight="normal" font-style="normal" stroke="#8ab4b6" stroke-width="0.28">Mø</text>
<path d="M0.7,0.7H519V722V0" fill="none"/>
<rect x="0" y="0" width="520" height="1.4" fill="#000"/>
<rect x="0" y="0" width="1.4" height="723" fill="#000"/>
<rect x="518.5" y="0" width="1.5" height="723" fill="#000"/>
<rect x="0" y="720.9" width="520" height="2.1" fill="#000"/>
</svg>
</body></html>
